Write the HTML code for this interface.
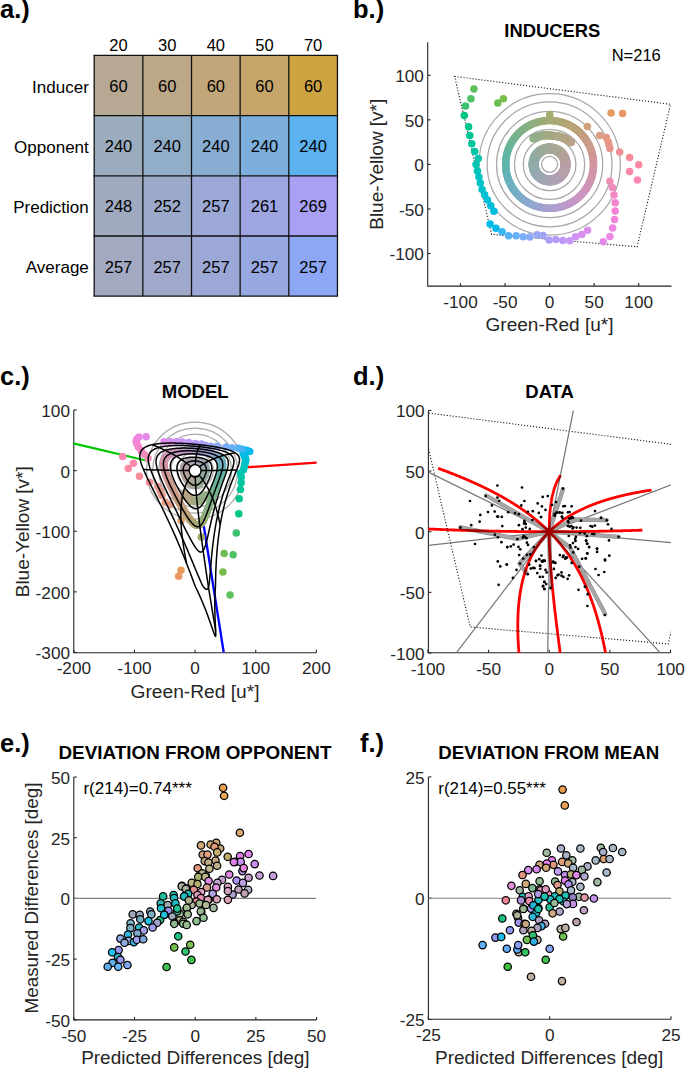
<!DOCTYPE html>
<html><head><meta charset="utf-8"><style>
html,body{margin:0;padding:0;background:#fff;overflow:hidden;}
svg{display:block;}
text{font-family:"Liberation Sans",sans-serif;}
</style></head><body>
<svg width="685" height="1069" viewBox="0 0 685 1069">
<rect width="685" height="1069" fill="#fff"/>
<text x="0.00" y="18.20" font-size="25.5" text-anchor="start" fill="#000" font-weight="bold">a.)</text>
<text x="353.00" y="18.20" font-size="25.5" text-anchor="start" fill="#000" font-weight="bold">b.)</text>
<text x="0.00" y="385.00" font-size="25.5" text-anchor="start" fill="#000" font-weight="bold">c.)</text>
<text x="353.00" y="385.00" font-size="25.5" text-anchor="start" fill="#000" font-weight="bold">d.)</text>
<text x="0.00" y="751.50" font-size="25.5" text-anchor="start" fill="#000" font-weight="bold">e.)</text>
<text x="360.00" y="751.50" font-size="25.5" text-anchor="start" fill="#000" font-weight="bold">f.)</text>
<rect x="94.20" y="55.40" width="48.65" height="60.20" fill="#b6a893"/>
<rect x="142.85" y="55.40" width="48.65" height="60.20" fill="#bca787"/>
<rect x="191.50" y="55.40" width="48.65" height="60.20" fill="#c1a679"/>
<rect x="240.15" y="55.40" width="48.65" height="60.20" fill="#c6a56a"/>
<rect x="288.80" y="55.40" width="48.65" height="60.20" fill="#cea443"/>
<rect x="94.20" y="115.60" width="48.65" height="60.20" fill="#9bacbe"/>
<rect x="142.85" y="115.60" width="48.65" height="60.20" fill="#92adc8"/>
<rect x="191.50" y="115.60" width="48.65" height="60.20" fill="#87aed2"/>
<rect x="240.15" y="115.60" width="48.65" height="60.20" fill="#7cafdc"/>
<rect x="288.80" y="115.60" width="48.65" height="60.20" fill="#5cb1ef"/>
<rect x="94.20" y="175.80" width="48.65" height="60.20" fill="#9faac0"/>
<rect x="142.85" y="175.80" width="48.65" height="60.20" fill="#9baacb"/>
<rect x="191.50" y="175.80" width="48.65" height="60.20" fill="#9ca8d6"/>
<rect x="240.15" y="175.80" width="48.65" height="60.20" fill="#9da6e1"/>
<rect x="288.80" y="175.80" width="48.65" height="60.20" fill="#a8a0f5"/>
<rect x="94.20" y="236.00" width="48.65" height="60.20" fill="#a3a9c0"/>
<rect x="142.85" y="236.00" width="48.65" height="60.20" fill="#a0a9cb"/>
<rect x="191.50" y="236.00" width="48.65" height="60.20" fill="#9ca8d6"/>
<rect x="240.15" y="236.00" width="48.65" height="60.20" fill="#97a8e0"/>
<rect x="288.80" y="236.00" width="48.65" height="60.20" fill="#8da7f5"/>
<line x1="93.60" y1="55.40" x2="338.05" y2="55.40" stroke="#111" stroke-width="1.3"/>
<line x1="93.60" y1="115.60" x2="338.05" y2="115.60" stroke="#111" stroke-width="1.3"/>
<line x1="93.60" y1="175.80" x2="338.05" y2="175.80" stroke="#111" stroke-width="1.3"/>
<line x1="93.60" y1="236.00" x2="338.05" y2="236.00" stroke="#111" stroke-width="1.3"/>
<line x1="93.60" y1="296.20" x2="338.05" y2="296.20" stroke="#111" stroke-width="1.3"/>
<line x1="94.20" y1="55.40" x2="94.20" y2="296.20" stroke="#111" stroke-width="1.3"/>
<line x1="142.85" y1="55.40" x2="142.85" y2="296.20" stroke="#111" stroke-width="1.3"/>
<line x1="191.50" y1="55.40" x2="191.50" y2="296.20" stroke="#111" stroke-width="1.3"/>
<line x1="240.15" y1="55.40" x2="240.15" y2="296.20" stroke="#111" stroke-width="1.3"/>
<line x1="288.80" y1="55.40" x2="288.80" y2="296.20" stroke="#111" stroke-width="1.3"/>
<line x1="337.45" y1="55.40" x2="337.45" y2="296.20" stroke="#111" stroke-width="1.3"/>
<text x="118.53" y="51.40" font-size="16.5" text-anchor="middle" fill="#000">20</text>
<text x="167.17" y="51.40" font-size="16.5" text-anchor="middle" fill="#000">30</text>
<text x="215.82" y="51.40" font-size="16.5" text-anchor="middle" fill="#000">40</text>
<text x="264.47" y="51.40" font-size="16.5" text-anchor="middle" fill="#000">50</text>
<text x="313.12" y="51.40" font-size="16.5" text-anchor="middle" fill="#000">70</text>
<text x="88.80" y="92.60" font-size="17" text-anchor="end" fill="#000">Inducer</text>
<text x="118.53" y="91.90" font-size="16.5" text-anchor="middle" fill="#000">60</text>
<text x="167.17" y="91.90" font-size="16.5" text-anchor="middle" fill="#000">60</text>
<text x="215.82" y="91.90" font-size="16.5" text-anchor="middle" fill="#000">60</text>
<text x="264.47" y="91.90" font-size="16.5" text-anchor="middle" fill="#000">60</text>
<text x="313.12" y="91.90" font-size="16.5" text-anchor="middle" fill="#000">60</text>
<text x="88.80" y="152.60" font-size="17" text-anchor="end" fill="#000">Opponent</text>
<text x="118.53" y="152.10" font-size="16.5" text-anchor="middle" fill="#000">240</text>
<text x="167.17" y="152.10" font-size="16.5" text-anchor="middle" fill="#000">240</text>
<text x="215.82" y="152.10" font-size="16.5" text-anchor="middle" fill="#000">240</text>
<text x="264.47" y="152.10" font-size="16.5" text-anchor="middle" fill="#000">240</text>
<text x="313.12" y="152.10" font-size="16.5" text-anchor="middle" fill="#000">240</text>
<text x="88.80" y="212.60" font-size="17" text-anchor="end" fill="#000">Prediction</text>
<text x="118.53" y="212.30" font-size="16.5" text-anchor="middle" fill="#000">248</text>
<text x="167.17" y="212.30" font-size="16.5" text-anchor="middle" fill="#000">252</text>
<text x="215.82" y="212.30" font-size="16.5" text-anchor="middle" fill="#000">257</text>
<text x="264.47" y="212.30" font-size="16.5" text-anchor="middle" fill="#000">261</text>
<text x="313.12" y="212.30" font-size="16.5" text-anchor="middle" fill="#000">269</text>
<text x="88.80" y="272.60" font-size="17" text-anchor="end" fill="#000">Average</text>
<text x="118.53" y="272.50" font-size="16.5" text-anchor="middle" fill="#000">257</text>
<text x="167.17" y="272.50" font-size="16.5" text-anchor="middle" fill="#000">257</text>
<text x="215.82" y="272.50" font-size="16.5" text-anchor="middle" fill="#000">257</text>
<text x="264.47" y="272.50" font-size="16.5" text-anchor="middle" fill="#000">257</text>
<text x="313.12" y="272.50" font-size="16.5" text-anchor="middle" fill="#000">257</text>
<path d="M427.70 42.30 V286.10 H671.50" fill="none" stroke="#262626" stroke-width="1.1"/>
<line x1="460.50" y1="286.10" x2="460.50" y2="283.10" stroke="#262626" stroke-width="1.1"/>
<text x="460.50" y="307.80" font-size="17.2" text-anchor="middle" fill="#262626">-100</text>
<line x1="505.05" y1="286.10" x2="505.05" y2="283.10" stroke="#262626" stroke-width="1.1"/>
<text x="505.05" y="307.80" font-size="17.2" text-anchor="middle" fill="#262626">-50</text>
<line x1="549.60" y1="286.10" x2="549.60" y2="283.10" stroke="#262626" stroke-width="1.1"/>
<text x="549.60" y="307.80" font-size="17.2" text-anchor="middle" fill="#262626">0</text>
<line x1="594.15" y1="286.10" x2="594.15" y2="283.10" stroke="#262626" stroke-width="1.1"/>
<text x="594.15" y="307.80" font-size="17.2" text-anchor="middle" fill="#262626">50</text>
<line x1="638.70" y1="286.10" x2="638.70" y2="283.10" stroke="#262626" stroke-width="1.1"/>
<text x="638.70" y="307.80" font-size="17.2" text-anchor="middle" fill="#262626">100</text>
<line x1="427.70" y1="253.50" x2="430.70" y2="253.50" stroke="#262626" stroke-width="1.1"/>
<text x="423.90" y="260.40" font-size="17.2" text-anchor="end" fill="#262626">-100</text>
<line x1="427.70" y1="208.95" x2="430.70" y2="208.95" stroke="#262626" stroke-width="1.1"/>
<text x="423.90" y="215.85" font-size="17.2" text-anchor="end" fill="#262626">-50</text>
<line x1="427.70" y1="164.40" x2="430.70" y2="164.40" stroke="#262626" stroke-width="1.1"/>
<text x="423.90" y="171.30" font-size="17.2" text-anchor="end" fill="#262626">0</text>
<line x1="427.70" y1="119.85" x2="430.70" y2="119.85" stroke="#262626" stroke-width="1.1"/>
<text x="423.90" y="126.75" font-size="17.2" text-anchor="end" fill="#262626">50</text>
<line x1="427.70" y1="75.30" x2="430.70" y2="75.30" stroke="#262626" stroke-width="1.1"/>
<text x="423.90" y="82.20" font-size="17.2" text-anchor="end" fill="#262626">100</text>
<text x="549.50" y="330.60" font-size="18.7" text-anchor="middle" fill="#262626" textLength="128" lengthAdjust="spacingAndGlyphs">Green-Red [u*]</text>
<text x="383.20" y="164.25" font-size="18.7" text-anchor="middle" fill="#262626" textLength="131" lengthAdjust="spacingAndGlyphs" transform="rotate(-90 383.20 164.25)">Blue-Yellow [v*]</text>
<circle cx="549.6" cy="164.4" r="8.0" fill="none" stroke="#a8a8a8" stroke-width="1.25"/>
<circle cx="549.6" cy="164.4" r="26.3" fill="none" stroke="#a8a8a8" stroke-width="1.25"/>
<circle cx="549.6" cy="164.4" r="35.1" fill="none" stroke="#a8a8a8" stroke-width="1.25"/>
<circle cx="549.6" cy="164.4" r="53.1" fill="none" stroke="#a8a8a8" stroke-width="1.25"/>
<circle cx="549.6" cy="164.4" r="62.4" fill="none" stroke="#a8a8a8" stroke-width="1.25"/>
<circle cx="549.6" cy="164.4" r="70.7" fill="none" stroke="#a8a8a8" stroke-width="1.25"/>
<circle cx="564.20" cy="164.40" r="3.7" fill="#b7a0a4"/>
<circle cx="564.17" cy="163.48" r="3.7" fill="#b7a0a3"/>
<circle cx="564.08" cy="162.57" r="3.7" fill="#b7a1a2"/>
<circle cx="563.94" cy="161.66" r="3.7" fill="#b6a1a1"/>
<circle cx="563.74" cy="160.77" r="3.7" fill="#b6a1a0"/>
<circle cx="563.49" cy="159.89" r="3.7" fill="#b6a19f"/>
<circle cx="563.17" cy="159.03" r="3.7" fill="#b5a19e"/>
<circle cx="562.81" cy="158.18" r="3.7" fill="#b5a29e"/>
<circle cx="562.39" cy="157.37" r="3.7" fill="#b4a29d"/>
<circle cx="561.93" cy="156.58" r="3.7" fill="#b4a29c"/>
<circle cx="561.41" cy="155.82" r="3.7" fill="#b3a29b"/>
<circle cx="560.85" cy="155.09" r="3.7" fill="#b3a39a"/>
<circle cx="560.24" cy="154.41" r="3.7" fill="#b2a39a"/>
<circle cx="559.59" cy="153.76" r="3.7" fill="#b1a399"/>
<circle cx="558.91" cy="153.15" r="3.7" fill="#b0a498"/>
<circle cx="558.18" cy="152.59" r="3.7" fill="#b0a498"/>
<circle cx="557.42" cy="152.07" r="3.7" fill="#afa497"/>
<circle cx="556.63" cy="151.61" r="3.7" fill="#aea597"/>
<circle cx="555.82" cy="151.19" r="3.7" fill="#ada597"/>
<circle cx="554.97" cy="150.83" r="3.7" fill="#aca596"/>
<circle cx="554.11" cy="150.51" r="3.7" fill="#aba696"/>
<circle cx="553.23" cy="150.26" r="3.7" fill="#aaa696"/>
<circle cx="552.34" cy="150.06" r="3.7" fill="#a9a696"/>
<circle cx="551.43" cy="149.92" r="3.7" fill="#a8a796"/>
<circle cx="550.52" cy="149.83" r="3.7" fill="#a7a796"/>
<circle cx="549.60" cy="149.80" r="3.7" fill="#a6a796"/>
<circle cx="548.68" cy="149.83" r="3.7" fill="#a4a896"/>
<circle cx="547.77" cy="149.92" r="3.7" fill="#a3a896"/>
<circle cx="546.86" cy="150.06" r="3.7" fill="#a2a896"/>
<circle cx="545.97" cy="150.26" r="3.7" fill="#a1a897"/>
<circle cx="545.09" cy="150.51" r="3.7" fill="#a0a997"/>
<circle cx="544.23" cy="150.83" r="3.7" fill="#9fa998"/>
<circle cx="543.38" cy="151.19" r="3.7" fill="#9ea998"/>
<circle cx="542.57" cy="151.61" r="3.7" fill="#9da999"/>
<circle cx="541.78" cy="152.07" r="3.7" fill="#9caa99"/>
<circle cx="541.02" cy="152.59" r="3.7" fill="#9baa9a"/>
<circle cx="540.29" cy="153.15" r="3.7" fill="#9aaa9b"/>
<circle cx="539.61" cy="153.76" r="3.7" fill="#99aa9b"/>
<circle cx="538.96" cy="154.41" r="3.7" fill="#98aa9c"/>
<circle cx="538.35" cy="155.09" r="3.7" fill="#97ab9d"/>
<circle cx="537.79" cy="155.82" r="3.7" fill="#96ab9e"/>
<circle cx="537.27" cy="156.58" r="3.7" fill="#96ab9f"/>
<circle cx="536.81" cy="157.37" r="3.7" fill="#95aba0"/>
<circle cx="536.39" cy="158.18" r="3.7" fill="#94aba1"/>
<circle cx="536.03" cy="159.03" r="3.7" fill="#94aba1"/>
<circle cx="535.71" cy="159.89" r="3.7" fill="#93aba2"/>
<circle cx="535.46" cy="160.77" r="3.7" fill="#93aba3"/>
<circle cx="535.26" cy="161.66" r="3.7" fill="#93aba4"/>
<circle cx="535.12" cy="162.57" r="3.7" fill="#92aba5"/>
<circle cx="535.03" cy="163.48" r="3.7" fill="#92aba6"/>
<circle cx="535.00" cy="164.40" r="3.7" fill="#92aba7"/>
<circle cx="535.03" cy="165.32" r="3.7" fill="#92aba8"/>
<circle cx="535.12" cy="166.23" r="3.7" fill="#92aba9"/>
<circle cx="535.26" cy="167.14" r="3.7" fill="#92aaaa"/>
<circle cx="535.46" cy="168.03" r="3.7" fill="#93aaab"/>
<circle cx="535.71" cy="168.91" r="3.7" fill="#93aaac"/>
<circle cx="536.03" cy="169.77" r="3.7" fill="#93aaad"/>
<circle cx="536.39" cy="170.62" r="3.7" fill="#94aaae"/>
<circle cx="536.81" cy="171.43" r="3.7" fill="#94aaae"/>
<circle cx="537.27" cy="172.22" r="3.7" fill="#95a9af"/>
<circle cx="537.79" cy="172.98" r="3.7" fill="#96a9b0"/>
<circle cx="538.35" cy="173.71" r="3.7" fill="#97a9b0"/>
<circle cx="538.96" cy="174.39" r="3.7" fill="#97a8b1"/>
<circle cx="539.61" cy="175.04" r="3.7" fill="#98a8b2"/>
<circle cx="540.29" cy="175.65" r="3.7" fill="#99a8b2"/>
<circle cx="541.02" cy="176.21" r="3.7" fill="#9aa8b3"/>
<circle cx="541.78" cy="176.73" r="3.7" fill="#9ba7b3"/>
<circle cx="542.57" cy="177.19" r="3.7" fill="#9ca7b4"/>
<circle cx="543.38" cy="177.61" r="3.7" fill="#9ea7b4"/>
<circle cx="544.23" cy="177.97" r="3.7" fill="#9fa6b4"/>
<circle cx="545.09" cy="178.29" r="3.7" fill="#a0a6b4"/>
<circle cx="545.97" cy="178.54" r="3.7" fill="#a1a5b5"/>
<circle cx="546.86" cy="178.74" r="3.7" fill="#a2a5b5"/>
<circle cx="547.77" cy="178.88" r="3.7" fill="#a3a5b5"/>
<circle cx="548.68" cy="178.97" r="3.7" fill="#a5a4b5"/>
<circle cx="549.60" cy="179.00" r="3.7" fill="#a6a4b5"/>
<circle cx="550.52" cy="178.97" r="3.7" fill="#a7a4b5"/>
<circle cx="551.43" cy="178.88" r="3.7" fill="#a8a3b4"/>
<circle cx="552.34" cy="178.74" r="3.7" fill="#a9a3b4"/>
<circle cx="553.23" cy="178.54" r="3.7" fill="#aaa3b4"/>
<circle cx="554.11" cy="178.29" r="3.7" fill="#aba2b4"/>
<circle cx="554.97" cy="177.97" r="3.7" fill="#aca2b3"/>
<circle cx="555.82" cy="177.61" r="3.7" fill="#aea2b3"/>
<circle cx="556.63" cy="177.19" r="3.7" fill="#aea2b2"/>
<circle cx="557.42" cy="176.73" r="3.7" fill="#afa1b2"/>
<circle cx="558.18" cy="176.21" r="3.7" fill="#b0a1b1"/>
<circle cx="558.91" cy="175.65" r="3.7" fill="#b1a1b0"/>
<circle cx="559.59" cy="175.04" r="3.7" fill="#b2a1b0"/>
<circle cx="560.24" cy="174.39" r="3.7" fill="#b3a1af"/>
<circle cx="560.85" cy="173.71" r="3.7" fill="#b3a0ae"/>
<circle cx="561.41" cy="172.98" r="3.7" fill="#b4a0ad"/>
<circle cx="561.93" cy="172.22" r="3.7" fill="#b4a0ad"/>
<circle cx="562.39" cy="171.43" r="3.7" fill="#b5a0ac"/>
<circle cx="562.81" cy="170.62" r="3.7" fill="#b5a0ab"/>
<circle cx="563.17" cy="169.77" r="3.7" fill="#b6a0aa"/>
<circle cx="563.49" cy="168.91" r="3.7" fill="#b6a0a9"/>
<circle cx="563.74" cy="168.03" r="3.7" fill="#b6a0a8"/>
<circle cx="563.94" cy="167.14" r="3.7" fill="#b7a0a7"/>
<circle cx="564.08" cy="166.23" r="3.7" fill="#b7a0a6"/>
<circle cx="564.17" cy="165.32" r="3.7" fill="#b7a0a5"/>
<circle cx="567.00" cy="164.40" r="3.7" fill="#b7a0a4"/>
<circle cx="566.98" cy="163.49" r="3.7" fill="#b7a0a3"/>
<circle cx="566.90" cy="162.58" r="3.7" fill="#b7a0a2"/>
<circle cx="566.79" cy="161.68" r="3.7" fill="#b7a0a1"/>
<circle cx="566.62" cy="160.78" r="3.7" fill="#b7a1a1"/>
<circle cx="566.41" cy="159.90" r="3.7" fill="#b7a1a0"/>
<circle cx="566.15" cy="159.02" r="3.7" fill="#b6a19f"/>
<circle cx="565.84" cy="158.16" r="3.7" fill="#b6a19e"/>
<circle cx="565.50" cy="157.32" r="3.7" fill="#b6a19d"/>
<circle cx="565.10" cy="156.50" r="3.7" fill="#b5a29d"/>
<circle cx="564.67" cy="155.70" r="3.7" fill="#b5a29c"/>
<circle cx="564.19" cy="154.92" r="3.7" fill="#b4a29b"/>
<circle cx="563.68" cy="154.17" r="3.7" fill="#b4a29b"/>
<circle cx="563.12" cy="153.45" r="3.7" fill="#b3a39a"/>
<circle cx="562.53" cy="152.76" r="3.7" fill="#b3a399"/>
<circle cx="561.90" cy="152.10" r="3.7" fill="#b2a399"/>
<circle cx="561.24" cy="151.47" r="3.7" fill="#b1a398"/>
<circle cx="560.55" cy="150.88" r="3.7" fill="#b1a498"/>
<circle cx="559.83" cy="150.32" r="3.7" fill="#b0a497"/>
<circle cx="559.08" cy="149.81" r="3.7" fill="#afa497"/>
<circle cx="558.30" cy="149.33" r="3.7" fill="#aea496"/>
<circle cx="557.50" cy="148.90" r="3.7" fill="#aea596"/>
<circle cx="556.68" cy="148.50" r="3.7" fill="#ada596"/>
<circle cx="555.84" cy="148.16" r="3.7" fill="#aca596"/>
<circle cx="554.98" cy="147.85" r="3.7" fill="#aba695"/>
<circle cx="554.10" cy="147.59" r="3.7" fill="#aaa695"/>
<circle cx="553.22" cy="147.38" r="3.7" fill="#a9a695"/>
<circle cx="552.32" cy="147.21" r="3.7" fill="#a8a695"/>
<circle cx="551.42" cy="147.10" r="3.7" fill="#a7a795"/>
<circle cx="550.51" cy="147.02" r="3.7" fill="#a7a795"/>
<circle cx="549.60" cy="147.00" r="3.7" fill="#a6a795"/>
<circle cx="548.69" cy="147.02" r="3.7" fill="#a5a895"/>
<circle cx="547.78" cy="147.10" r="3.7" fill="#a4a895"/>
<circle cx="546.88" cy="147.21" r="3.7" fill="#a3a896"/>
<circle cx="545.98" cy="147.38" r="3.7" fill="#a2a896"/>
<circle cx="545.10" cy="147.59" r="3.7" fill="#a1a996"/>
<circle cx="544.22" cy="147.85" r="3.7" fill="#a0a996"/>
<circle cx="543.36" cy="148.16" r="3.7" fill="#9fa997"/>
<circle cx="542.52" cy="148.50" r="3.7" fill="#9ea997"/>
<circle cx="541.70" cy="148.90" r="3.7" fill="#9da998"/>
<circle cx="540.90" cy="149.33" r="3.7" fill="#9caa98"/>
<circle cx="540.12" cy="149.81" r="3.7" fill="#9baa99"/>
<circle cx="539.37" cy="150.32" r="3.7" fill="#9aaa99"/>
<circle cx="538.65" cy="150.88" r="3.7" fill="#99aa9a"/>
<circle cx="537.96" cy="151.47" r="3.7" fill="#99aa9b"/>
<circle cx="537.30" cy="152.10" r="3.7" fill="#98ab9b"/>
<circle cx="536.67" cy="152.76" r="3.7" fill="#97ab9c"/>
<circle cx="536.08" cy="153.45" r="3.7" fill="#96ab9d"/>
<circle cx="535.52" cy="154.17" r="3.7" fill="#96ab9d"/>
<circle cx="535.01" cy="154.92" r="3.7" fill="#95ab9e"/>
<circle cx="534.53" cy="155.70" r="3.7" fill="#94ab9f"/>
<circle cx="534.10" cy="156.50" r="3.7" fill="#94aba0"/>
<circle cx="533.70" cy="157.32" r="3.7" fill="#93aba1"/>
<circle cx="533.36" cy="158.16" r="3.7" fill="#93aba1"/>
<circle cx="533.05" cy="159.02" r="3.7" fill="#92aba2"/>
<circle cx="532.79" cy="159.90" r="3.7" fill="#92aba3"/>
<circle cx="532.58" cy="160.78" r="3.7" fill="#92aba4"/>
<circle cx="532.41" cy="161.68" r="3.7" fill="#91aba5"/>
<circle cx="532.30" cy="162.58" r="3.7" fill="#91aba6"/>
<circle cx="532.22" cy="163.49" r="3.7" fill="#91aba6"/>
<circle cx="532.20" cy="164.40" r="3.7" fill="#91aba7"/>
<circle cx="532.22" cy="165.31" r="3.7" fill="#91aba8"/>
<circle cx="532.30" cy="166.22" r="3.7" fill="#91aba9"/>
<circle cx="532.41" cy="167.12" r="3.7" fill="#91abaa"/>
<circle cx="532.58" cy="168.02" r="3.7" fill="#91abab"/>
<circle cx="532.79" cy="168.90" r="3.7" fill="#92aaab"/>
<circle cx="533.05" cy="169.78" r="3.7" fill="#92aaac"/>
<circle cx="533.36" cy="170.64" r="3.7" fill="#92aaad"/>
<circle cx="533.70" cy="171.48" r="3.7" fill="#93aaae"/>
<circle cx="534.10" cy="172.30" r="3.7" fill="#93aaae"/>
<circle cx="534.53" cy="173.10" r="3.7" fill="#94aaaf"/>
<circle cx="535.01" cy="173.88" r="3.7" fill="#94a9b0"/>
<circle cx="535.52" cy="174.63" r="3.7" fill="#95a9b0"/>
<circle cx="536.08" cy="175.35" r="3.7" fill="#96a9b1"/>
<circle cx="536.67" cy="176.04" r="3.7" fill="#96a9b1"/>
<circle cx="537.30" cy="176.70" r="3.7" fill="#97a8b2"/>
<circle cx="537.96" cy="177.33" r="3.7" fill="#98a8b2"/>
<circle cx="538.65" cy="177.92" r="3.7" fill="#99a8b3"/>
<circle cx="539.37" cy="178.48" r="3.7" fill="#9aa8b3"/>
<circle cx="540.12" cy="178.99" r="3.7" fill="#9ba7b4"/>
<circle cx="540.90" cy="179.47" r="3.7" fill="#9ca7b4"/>
<circle cx="541.70" cy="179.90" r="3.7" fill="#9da7b4"/>
<circle cx="542.52" cy="180.30" r="3.7" fill="#9ea6b5"/>
<circle cx="543.36" cy="180.64" r="3.7" fill="#9fa6b5"/>
<circle cx="544.22" cy="180.95" r="3.7" fill="#a0a6b5"/>
<circle cx="545.10" cy="181.21" r="3.7" fill="#a1a6b5"/>
<circle cx="545.98" cy="181.42" r="3.7" fill="#a2a5b5"/>
<circle cx="546.88" cy="181.59" r="3.7" fill="#a3a5b5"/>
<circle cx="547.78" cy="181.70" r="3.7" fill="#a4a5b5"/>
<circle cx="548.69" cy="181.78" r="3.7" fill="#a5a4b5"/>
<circle cx="549.60" cy="181.80" r="3.7" fill="#a6a4b5"/>
<circle cx="550.51" cy="181.78" r="3.7" fill="#a7a4b5"/>
<circle cx="551.42" cy="181.70" r="3.7" fill="#a8a3b5"/>
<circle cx="552.32" cy="181.59" r="3.7" fill="#a9a3b5"/>
<circle cx="553.22" cy="181.42" r="3.7" fill="#aaa3b5"/>
<circle cx="554.10" cy="181.21" r="3.7" fill="#aba3b4"/>
<circle cx="554.98" cy="180.95" r="3.7" fill="#aca2b4"/>
<circle cx="555.84" cy="180.64" r="3.7" fill="#ada2b4"/>
<circle cx="556.68" cy="180.30" r="3.7" fill="#ada2b3"/>
<circle cx="557.50" cy="179.90" r="3.7" fill="#aea2b3"/>
<circle cx="558.30" cy="179.47" r="3.7" fill="#afa1b2"/>
<circle cx="559.08" cy="178.99" r="3.7" fill="#b0a1b2"/>
<circle cx="559.83" cy="178.48" r="3.7" fill="#b1a1b1"/>
<circle cx="560.55" cy="177.92" r="3.7" fill="#b1a1b1"/>
<circle cx="561.24" cy="177.33" r="3.7" fill="#b2a1b0"/>
<circle cx="561.90" cy="176.70" r="3.7" fill="#b3a0b0"/>
<circle cx="562.53" cy="176.04" r="3.7" fill="#b3a0af"/>
<circle cx="563.12" cy="175.35" r="3.7" fill="#b4a0ae"/>
<circle cx="563.68" cy="174.63" r="3.7" fill="#b5a0ae"/>
<circle cx="564.19" cy="173.88" r="3.7" fill="#b5a0ad"/>
<circle cx="564.67" cy="173.10" r="3.7" fill="#b5a0ac"/>
<circle cx="565.10" cy="172.30" r="3.7" fill="#b6a0ab"/>
<circle cx="565.50" cy="171.48" r="3.7" fill="#b6a0ab"/>
<circle cx="565.84" cy="170.64" r="3.7" fill="#b7a0aa"/>
<circle cx="566.15" cy="169.78" r="3.7" fill="#b7a0a9"/>
<circle cx="566.41" cy="168.90" r="3.7" fill="#b7a0a8"/>
<circle cx="566.62" cy="168.02" r="3.7" fill="#b7a0a7"/>
<circle cx="566.79" cy="167.12" r="3.7" fill="#b7a0a7"/>
<circle cx="566.90" cy="166.22" r="3.7" fill="#b7a0a6"/>
<circle cx="566.98" cy="165.31" r="3.7" fill="#b7a0a5"/>
<circle cx="593.50" cy="164.40" r="3.75" fill="#d196a1"/>
<circle cx="593.48" cy="163.25" r="3.75" fill="#d196a0"/>
<circle cx="593.44" cy="162.10" r="3.75" fill="#d1969f"/>
<circle cx="593.36" cy="160.96" r="3.75" fill="#d1979e"/>
<circle cx="593.26" cy="159.81" r="3.75" fill="#d1979c"/>
<circle cx="593.12" cy="158.67" r="3.75" fill="#d0979b"/>
<circle cx="592.96" cy="157.53" r="3.75" fill="#d0979a"/>
<circle cx="592.76" cy="156.40" r="3.75" fill="#d09799"/>
<circle cx="592.54" cy="155.27" r="3.75" fill="#d09898"/>
<circle cx="592.29" cy="154.15" r="3.75" fill="#cf9897"/>
<circle cx="592.00" cy="153.04" r="3.75" fill="#cf9895"/>
<circle cx="591.69" cy="151.93" r="3.75" fill="#cf9894"/>
<circle cx="591.35" cy="150.83" r="3.75" fill="#ce9993"/>
<circle cx="590.98" cy="149.75" r="3.75" fill="#ce9992"/>
<circle cx="590.58" cy="148.67" r="3.75" fill="#ce9991"/>
<circle cx="590.16" cy="147.60" r="3.75" fill="#cd9a90"/>
<circle cx="589.70" cy="146.54" r="3.75" fill="#cd9a8f"/>
<circle cx="589.22" cy="145.50" r="3.75" fill="#cc9a8e"/>
<circle cx="588.72" cy="144.47" r="3.75" fill="#cc9b8d"/>
<circle cx="588.18" cy="143.45" r="3.75" fill="#cb9b8b"/>
<circle cx="587.62" cy="142.45" r="3.75" fill="#cb9b8a"/>
<circle cx="587.03" cy="141.46" r="3.75" fill="#ca9b89"/>
<circle cx="586.42" cy="140.49" r="3.75" fill="#c99c88"/>
<circle cx="585.78" cy="139.53" r="3.75" fill="#c99c87"/>
<circle cx="585.12" cy="138.60" r="3.75" fill="#c89c86"/>
<circle cx="584.43" cy="137.68" r="3.75" fill="#c79d85"/>
<circle cx="583.72" cy="136.77" r="3.75" fill="#c79d84"/>
<circle cx="582.98" cy="135.89" r="3.75" fill="#c69e83"/>
<circle cx="582.22" cy="135.03" r="3.75" fill="#c59e82"/>
<circle cx="581.44" cy="134.18" r="3.75" fill="#c59e82"/>
<circle cx="580.64" cy="133.36" r="3.75" fill="#c49f81"/>
<circle cx="579.82" cy="132.56" r="3.75" fill="#c39f80"/>
<circle cx="578.97" cy="131.78" r="3.75" fill="#c29f7f"/>
<circle cx="578.11" cy="131.02" r="3.75" fill="#c2a07e"/>
<circle cx="577.23" cy="130.28" r="3.75" fill="#c1a07d"/>
<circle cx="576.32" cy="129.57" r="3.75" fill="#c0a07d"/>
<circle cx="575.40" cy="128.88" r="3.75" fill="#bfa17c"/>
<circle cx="574.47" cy="128.22" r="3.75" fill="#bea17b"/>
<circle cx="573.51" cy="127.58" r="3.75" fill="#bda27b"/>
<circle cx="572.54" cy="126.97" r="3.75" fill="#bca27a"/>
<circle cx="571.55" cy="126.38" r="3.75" fill="#bba279"/>
<circle cx="570.55" cy="125.82" r="3.75" fill="#baa379"/>
<circle cx="569.53" cy="125.28" r="3.75" fill="#b9a378"/>
<circle cx="568.50" cy="124.78" r="3.75" fill="#b8a478"/>
<circle cx="567.46" cy="124.30" r="3.75" fill="#b7a477"/>
<circle cx="566.40" cy="123.84" r="3.75" fill="#b6a477"/>
<circle cx="565.33" cy="123.42" r="3.75" fill="#b5a576"/>
<circle cx="564.25" cy="123.02" r="3.75" fill="#b4a576"/>
<circle cx="563.17" cy="122.65" r="3.75" fill="#b3a576"/>
<circle cx="562.07" cy="122.31" r="3.75" fill="#b2a675"/>
<circle cx="560.96" cy="122.00" r="3.75" fill="#b1a675"/>
<circle cx="559.85" cy="121.71" r="3.75" fill="#b0a775"/>
<circle cx="558.73" cy="121.46" r="3.75" fill="#afa775"/>
<circle cx="557.60" cy="121.24" r="3.75" fill="#aea775"/>
<circle cx="556.47" cy="121.04" r="3.75" fill="#ada875"/>
<circle cx="555.33" cy="120.88" r="3.75" fill="#aba875"/>
<circle cx="554.19" cy="120.74" r="3.75" fill="#aaa875"/>
<circle cx="553.04" cy="120.64" r="3.75" fill="#a9a975"/>
<circle cx="551.90" cy="120.56" r="3.75" fill="#a8a975"/>
<circle cx="550.75" cy="120.52" r="3.75" fill="#a7a975"/>
<circle cx="549.60" cy="120.50" r="3.75" fill="#a5aa75"/>
<circle cx="548.45" cy="120.52" r="3.75" fill="#a4aa75"/>
<circle cx="547.30" cy="120.56" r="3.75" fill="#a3aa75"/>
<circle cx="546.16" cy="120.64" r="3.75" fill="#a2ab76"/>
<circle cx="545.01" cy="120.74" r="3.75" fill="#a0ab76"/>
<circle cx="543.87" cy="120.88" r="3.75" fill="#9fab76"/>
<circle cx="542.73" cy="121.04" r="3.75" fill="#9eac77"/>
<circle cx="541.60" cy="121.24" r="3.75" fill="#9dac77"/>
<circle cx="540.47" cy="121.46" r="3.75" fill="#9bac77"/>
<circle cx="539.35" cy="121.71" r="3.75" fill="#9aad78"/>
<circle cx="538.24" cy="122.00" r="3.75" fill="#99ad78"/>
<circle cx="537.13" cy="122.31" r="3.75" fill="#97ad79"/>
<circle cx="536.03" cy="122.65" r="3.75" fill="#96ae7a"/>
<circle cx="534.95" cy="123.02" r="3.75" fill="#95ae7a"/>
<circle cx="533.87" cy="123.42" r="3.75" fill="#93ae7b"/>
<circle cx="532.80" cy="123.84" r="3.75" fill="#92ae7c"/>
<circle cx="531.74" cy="124.30" r="3.75" fill="#90af7c"/>
<circle cx="530.70" cy="124.78" r="3.75" fill="#8faf7d"/>
<circle cx="529.67" cy="125.28" r="3.75" fill="#8eaf7e"/>
<circle cx="528.65" cy="125.82" r="3.75" fill="#8caf7f"/>
<circle cx="527.65" cy="126.38" r="3.75" fill="#8bb07f"/>
<circle cx="526.66" cy="126.97" r="3.75" fill="#8ab080"/>
<circle cx="525.69" cy="127.58" r="3.75" fill="#88b081"/>
<circle cx="524.73" cy="128.22" r="3.75" fill="#87b082"/>
<circle cx="523.80" cy="128.88" r="3.75" fill="#85b183"/>
<circle cx="522.88" cy="129.57" r="3.75" fill="#84b184"/>
<circle cx="521.97" cy="130.28" r="3.75" fill="#83b185"/>
<circle cx="521.09" cy="131.02" r="3.75" fill="#81b186"/>
<circle cx="520.23" cy="131.78" r="3.75" fill="#80b287"/>
<circle cx="519.38" cy="132.56" r="3.75" fill="#7fb288"/>
<circle cx="518.56" cy="133.36" r="3.75" fill="#7db289"/>
<circle cx="517.76" cy="134.18" r="3.75" fill="#7cb28a"/>
<circle cx="516.98" cy="135.03" r="3.75" fill="#7bb28b"/>
<circle cx="516.22" cy="135.89" r="3.75" fill="#79b28c"/>
<circle cx="515.48" cy="136.77" r="3.75" fill="#78b38d"/>
<circle cx="514.77" cy="137.68" r="3.75" fill="#77b38e"/>
<circle cx="514.08" cy="138.60" r="3.75" fill="#75b38f"/>
<circle cx="513.42" cy="139.53" r="3.75" fill="#74b390"/>
<circle cx="512.78" cy="140.49" r="3.75" fill="#73b391"/>
<circle cx="512.17" cy="141.46" r="3.75" fill="#72b392"/>
<circle cx="511.58" cy="142.45" r="3.75" fill="#71b393"/>
<circle cx="511.02" cy="143.45" r="3.75" fill="#6fb394"/>
<circle cx="510.48" cy="144.47" r="3.75" fill="#6eb496"/>
<circle cx="509.98" cy="145.50" r="3.75" fill="#6db497"/>
<circle cx="509.50" cy="146.54" r="3.75" fill="#6cb498"/>
<circle cx="509.04" cy="147.60" r="3.75" fill="#6bb499"/>
<circle cx="508.62" cy="148.67" r="3.75" fill="#6ab49a"/>
<circle cx="508.22" cy="149.75" r="3.75" fill="#69b49b"/>
<circle cx="507.85" cy="150.83" r="3.75" fill="#68b49c"/>
<circle cx="507.51" cy="151.93" r="3.75" fill="#67b49e"/>
<circle cx="507.20" cy="153.04" r="3.75" fill="#66b49f"/>
<circle cx="506.91" cy="154.15" r="3.75" fill="#66b4a0"/>
<circle cx="506.66" cy="155.27" r="3.75" fill="#65b4a1"/>
<circle cx="506.44" cy="156.40" r="3.75" fill="#64b4a2"/>
<circle cx="506.24" cy="157.53" r="3.75" fill="#64b4a3"/>
<circle cx="506.08" cy="158.67" r="3.75" fill="#63b4a4"/>
<circle cx="505.94" cy="159.81" r="3.75" fill="#63b4a6"/>
<circle cx="505.84" cy="160.96" r="3.75" fill="#62b4a7"/>
<circle cx="505.76" cy="162.10" r="3.75" fill="#62b4a8"/>
<circle cx="505.72" cy="163.25" r="3.75" fill="#61b4a9"/>
<circle cx="505.70" cy="164.40" r="3.75" fill="#61b4aa"/>
<circle cx="505.72" cy="165.55" r="3.75" fill="#61b4ab"/>
<circle cx="505.76" cy="166.70" r="3.75" fill="#61b4ac"/>
<circle cx="505.84" cy="167.84" r="3.75" fill="#61b3ad"/>
<circle cx="505.94" cy="168.99" r="3.75" fill="#61b3ae"/>
<circle cx="506.08" cy="170.13" r="3.75" fill="#61b3af"/>
<circle cx="506.24" cy="171.27" r="3.75" fill="#61b3b1"/>
<circle cx="506.44" cy="172.40" r="3.75" fill="#61b3b2"/>
<circle cx="506.66" cy="173.53" r="3.75" fill="#62b3b3"/>
<circle cx="506.91" cy="174.65" r="3.75" fill="#62b3b4"/>
<circle cx="507.20" cy="175.76" r="3.75" fill="#62b2b5"/>
<circle cx="507.51" cy="176.87" r="3.75" fill="#63b2b6"/>
<circle cx="507.85" cy="177.97" r="3.75" fill="#64b2b7"/>
<circle cx="508.22" cy="179.05" r="3.75" fill="#64b2b8"/>
<circle cx="508.62" cy="180.13" r="3.75" fill="#65b2b9"/>
<circle cx="509.04" cy="181.20" r="3.75" fill="#66b2ba"/>
<circle cx="509.50" cy="182.26" r="3.75" fill="#66b1ba"/>
<circle cx="509.98" cy="183.30" r="3.75" fill="#67b1bb"/>
<circle cx="510.48" cy="184.33" r="3.75" fill="#68b1bc"/>
<circle cx="511.02" cy="185.35" r="3.75" fill="#69b1bd"/>
<circle cx="511.58" cy="186.35" r="3.75" fill="#6ab0be"/>
<circle cx="512.17" cy="187.34" r="3.75" fill="#6bb0bf"/>
<circle cx="512.78" cy="188.31" r="3.75" fill="#6db0c0"/>
<circle cx="513.42" cy="189.27" r="3.75" fill="#6eafc1"/>
<circle cx="514.08" cy="190.20" r="3.75" fill="#6fafc1"/>
<circle cx="514.77" cy="191.12" r="3.75" fill="#70afc2"/>
<circle cx="515.48" cy="192.03" r="3.75" fill="#72afc3"/>
<circle cx="516.22" cy="192.91" r="3.75" fill="#73aec4"/>
<circle cx="516.98" cy="193.77" r="3.75" fill="#74aec4"/>
<circle cx="517.76" cy="194.62" r="3.75" fill="#76aec5"/>
<circle cx="518.56" cy="195.44" r="3.75" fill="#77adc6"/>
<circle cx="519.38" cy="196.24" r="3.75" fill="#79adc6"/>
<circle cx="520.23" cy="197.02" r="3.75" fill="#7aadc7"/>
<circle cx="521.09" cy="197.78" r="3.75" fill="#7cacc8"/>
<circle cx="521.97" cy="198.52" r="3.75" fill="#7dacc8"/>
<circle cx="522.88" cy="199.23" r="3.75" fill="#7fabc9"/>
<circle cx="523.80" cy="199.92" r="3.75" fill="#80abc9"/>
<circle cx="524.73" cy="200.58" r="3.75" fill="#82abca"/>
<circle cx="525.69" cy="201.22" r="3.75" fill="#83aaca"/>
<circle cx="526.66" cy="201.83" r="3.75" fill="#85aacb"/>
<circle cx="527.65" cy="202.42" r="3.75" fill="#87a9cb"/>
<circle cx="528.65" cy="202.98" r="3.75" fill="#88a9cc"/>
<circle cx="529.67" cy="203.52" r="3.75" fill="#8aa9cc"/>
<circle cx="530.70" cy="204.02" r="3.75" fill="#8ba8cc"/>
<circle cx="531.74" cy="204.50" r="3.75" fill="#8da8cd"/>
<circle cx="532.80" cy="204.96" r="3.75" fill="#8fa7cd"/>
<circle cx="533.87" cy="205.38" r="3.75" fill="#90a7cd"/>
<circle cx="534.95" cy="205.78" r="3.75" fill="#92a6ce"/>
<circle cx="536.03" cy="206.15" r="3.75" fill="#93a6ce"/>
<circle cx="537.13" cy="206.49" r="3.75" fill="#95a6ce"/>
<circle cx="538.24" cy="206.80" r="3.75" fill="#97a5ce"/>
<circle cx="539.35" cy="207.09" r="3.75" fill="#98a5ce"/>
<circle cx="540.47" cy="207.34" r="3.75" fill="#9aa4ce"/>
<circle cx="541.60" cy="207.56" r="3.75" fill="#9ba4cf"/>
<circle cx="542.73" cy="207.76" r="3.75" fill="#9da3cf"/>
<circle cx="543.87" cy="207.92" r="3.75" fill="#9ea3cf"/>
<circle cx="545.01" cy="208.06" r="3.75" fill="#a0a2cf"/>
<circle cx="546.16" cy="208.16" r="3.75" fill="#a2a2cf"/>
<circle cx="547.30" cy="208.24" r="3.75" fill="#a3a2cf"/>
<circle cx="548.45" cy="208.28" r="3.75" fill="#a5a1cf"/>
<circle cx="549.60" cy="208.30" r="3.75" fill="#a6a1cf"/>
<circle cx="550.75" cy="208.28" r="3.75" fill="#a7a0ce"/>
<circle cx="551.90" cy="208.24" r="3.75" fill="#a9a0ce"/>
<circle cx="553.04" cy="208.16" r="3.75" fill="#aa9fce"/>
<circle cx="554.19" cy="208.06" r="3.75" fill="#ac9fce"/>
<circle cx="555.33" cy="207.92" r="3.75" fill="#ad9fce"/>
<circle cx="556.47" cy="207.76" r="3.75" fill="#ae9ece"/>
<circle cx="557.60" cy="207.56" r="3.75" fill="#b09ecd"/>
<circle cx="558.73" cy="207.34" r="3.75" fill="#b19dcd"/>
<circle cx="559.85" cy="207.09" r="3.75" fill="#b29dcd"/>
<circle cx="560.96" cy="206.80" r="3.75" fill="#b49ccc"/>
<circle cx="562.07" cy="206.49" r="3.75" fill="#b59ccc"/>
<circle cx="563.17" cy="206.15" r="3.75" fill="#b69ccc"/>
<circle cx="564.25" cy="205.78" r="3.75" fill="#b79bcb"/>
<circle cx="565.33" cy="205.38" r="3.75" fill="#b99bcb"/>
<circle cx="566.40" cy="204.96" r="3.75" fill="#ba9bca"/>
<circle cx="567.46" cy="204.50" r="3.75" fill="#bb9aca"/>
<circle cx="568.50" cy="204.02" r="3.75" fill="#bc9ac9"/>
<circle cx="569.53" cy="203.52" r="3.75" fill="#bd9ac9"/>
<circle cx="570.55" cy="202.98" r="3.75" fill="#be99c8"/>
<circle cx="571.55" cy="202.42" r="3.75" fill="#bf99c7"/>
<circle cx="572.54" cy="201.83" r="3.75" fill="#c099c7"/>
<circle cx="573.51" cy="201.22" r="3.75" fill="#c198c6"/>
<circle cx="574.47" cy="200.58" r="3.75" fill="#c298c5"/>
<circle cx="575.40" cy="199.92" r="3.75" fill="#c398c5"/>
<circle cx="576.32" cy="199.23" r="3.75" fill="#c497c4"/>
<circle cx="577.23" cy="198.52" r="3.75" fill="#c597c3"/>
<circle cx="578.11" cy="197.78" r="3.75" fill="#c697c3"/>
<circle cx="578.97" cy="197.02" r="3.75" fill="#c697c2"/>
<circle cx="579.82" cy="196.24" r="3.75" fill="#c796c1"/>
<circle cx="580.64" cy="195.44" r="3.75" fill="#c896c0"/>
<circle cx="581.44" cy="194.62" r="3.75" fill="#c996bf"/>
<circle cx="582.22" cy="193.77" r="3.75" fill="#c996bf"/>
<circle cx="582.98" cy="192.91" r="3.75" fill="#ca96be"/>
<circle cx="583.72" cy="192.03" r="3.75" fill="#cb96bd"/>
<circle cx="584.43" cy="191.12" r="3.75" fill="#cb95bc"/>
<circle cx="585.12" cy="190.20" r="3.75" fill="#cc95bb"/>
<circle cx="585.78" cy="189.27" r="3.75" fill="#cc95ba"/>
<circle cx="586.42" cy="188.31" r="3.75" fill="#cd95b9"/>
<circle cx="587.03" cy="187.34" r="3.75" fill="#cd95b8"/>
<circle cx="587.62" cy="186.35" r="3.75" fill="#ce95b7"/>
<circle cx="588.18" cy="185.35" r="3.75" fill="#ce95b6"/>
<circle cx="588.72" cy="184.33" r="3.75" fill="#cf95b5"/>
<circle cx="589.22" cy="183.30" r="3.75" fill="#cf95b4"/>
<circle cx="589.70" cy="182.26" r="3.75" fill="#cf95b3"/>
<circle cx="590.16" cy="181.20" r="3.75" fill="#d095b2"/>
<circle cx="590.58" cy="180.13" r="3.75" fill="#d095b1"/>
<circle cx="590.98" cy="179.05" r="3.75" fill="#d095b0"/>
<circle cx="591.35" cy="177.97" r="3.75" fill="#d195af"/>
<circle cx="591.69" cy="176.87" r="3.75" fill="#d195ae"/>
<circle cx="592.00" cy="175.76" r="3.75" fill="#d195ad"/>
<circle cx="592.29" cy="174.65" r="3.75" fill="#d195ab"/>
<circle cx="592.54" cy="173.53" r="3.75" fill="#d195aa"/>
<circle cx="592.76" cy="172.40" r="3.75" fill="#d195a9"/>
<circle cx="592.96" cy="171.27" r="3.75" fill="#d195a8"/>
<circle cx="593.12" cy="170.13" r="3.75" fill="#d195a7"/>
<circle cx="593.26" cy="168.99" r="3.75" fill="#d195a6"/>
<circle cx="593.36" cy="167.84" r="3.75" fill="#d195a5"/>
<circle cx="593.44" cy="166.70" r="3.75" fill="#d196a3"/>
<circle cx="593.48" cy="165.55" r="3.75" fill="#d196a2"/>
<circle cx="571.08" cy="142.36" r="4.1" fill="#bda189"/>
<circle cx="570.27" cy="141.75" r="4.1" fill="#bca189"/>
<circle cx="569.44" cy="141.16" r="4.1" fill="#bba188"/>
<circle cx="568.59" cy="140.61" r="4.1" fill="#baa287"/>
<circle cx="567.73" cy="140.08" r="4.1" fill="#b9a287"/>
<circle cx="566.85" cy="139.58" r="4.1" fill="#b8a286"/>
<circle cx="565.96" cy="139.12" r="4.1" fill="#b8a386"/>
<circle cx="565.06" cy="138.68" r="4.1" fill="#b7a386"/>
<circle cx="564.15" cy="138.27" r="4.1" fill="#b6a485"/>
<circle cx="563.22" cy="137.90" r="4.1" fill="#b5a485"/>
<circle cx="562.29" cy="137.56" r="4.1" fill="#b4a485"/>
<circle cx="561.35" cy="137.24" r="4.1" fill="#b3a584"/>
<circle cx="560.40" cy="136.96" r="4.1" fill="#b2a584"/>
<circle cx="559.45" cy="136.71" r="4.1" fill="#b1a584"/>
<circle cx="558.49" cy="136.50" r="4.1" fill="#b0a684"/>
<circle cx="557.53" cy="136.31" r="4.1" fill="#aea684"/>
<circle cx="556.57" cy="136.16" r="4.1" fill="#ada684"/>
<circle cx="555.60" cy="136.04" r="4.1" fill="#aca784"/>
<circle cx="554.63" cy="135.95" r="4.1" fill="#aba784"/>
<circle cx="553.67" cy="135.89" r="4.1" fill="#aaa784"/>
<circle cx="552.70" cy="135.86" r="4.1" fill="#a9a884"/>
<circle cx="551.76" cy="135.69" r="4.1" fill="#a8a884"/>
<circle cx="550.80" cy="135.54" r="4.1" fill="#a7a884"/>
<circle cx="549.84" cy="135.43" r="4.1" fill="#a6a984"/>
<circle cx="548.87" cy="135.35" r="4.1" fill="#a5a984"/>
<circle cx="547.89" cy="135.30" r="4.1" fill="#a3a984"/>
<circle cx="546.91" cy="135.28" r="4.1" fill="#a2aa84"/>
<circle cx="545.93" cy="135.29" r="4.1" fill="#a1aa84"/>
<circle cx="544.95" cy="135.34" r="4.1" fill="#a0aa84"/>
<circle cx="543.96" cy="135.42" r="4.1" fill="#9fab84"/>
<circle cx="542.98" cy="135.53" r="4.1" fill="#9dab85"/>
<circle cx="541.99" cy="135.67" r="4.1" fill="#9cab85"/>
<circle cx="541.01" cy="135.84" r="4.1" fill="#9bab85"/>
<circle cx="540.04" cy="136.05" r="4.1" fill="#9aac86"/>
<circle cx="539.06" cy="136.29" r="4.1" fill="#98ac86"/>
<circle cx="538.09" cy="136.56" r="4.1" fill="#97ac87"/>
<circle cx="537.13" cy="136.86" r="4.1" fill="#96ad87"/>
<circle cx="536.18" cy="137.20" r="4.1" fill="#95ad88"/>
<circle cx="535.24" cy="137.57" r="4.1" fill="#93ad88"/>
<circle cx="534.30" cy="137.97" r="4.1" fill="#92ad89"/>
<circle cx="533.38" cy="138.40" r="4.1" fill="#91ae89"/>
<circle cx="549.7" cy="114.9" r="3.8" fill="#a5aa6d"/>
<path d="M454.6 76.4 L670.5 104.3 L637.1 246.8 L491.6 234.4 Z" fill="none" stroke="#111" stroke-width="1.1" stroke-dasharray="1.1 1.9"/>
<circle cx="473.9" cy="89" r="3.75" fill="#5fc05c"/>
<circle cx="470.9" cy="98.8" r="3.75" fill="#4fc165"/>
<circle cx="465.5" cy="105.9" r="3.75" fill="#3cc26e"/>
<circle cx="464.3" cy="115.5" r="3.75" fill="#00c585"/>
<circle cx="468.6" cy="126.8" r="3.75" fill="#00c58d"/>
<circle cx="469.8" cy="135.6" r="3.75" fill="#00c695"/>
<circle cx="471.8" cy="143.8" r="3.75" fill="#00c69d"/>
<circle cx="474.7" cy="151.6" r="3.75" fill="#00c6a5"/>
<circle cx="476" cy="164.5" r="3.75" fill="#00c5b3"/>
<circle cx="477.4" cy="170.9" r="3.75" fill="#00c4ba"/>
<circle cx="478.9" cy="177.1" r="3.75" fill="#00c3c0"/>
<circle cx="480.3" cy="183.1" r="3.75" fill="#00c2c6"/>
<circle cx="482.1" cy="189.5" r="3.75" fill="#00c1cd"/>
<circle cx="484.6" cy="194.7" r="3.75" fill="#00c0d2"/>
<circle cx="487.5" cy="199.9" r="3.75" fill="#00bfd7"/>
<circle cx="490.8" cy="205.8" r="3.75" fill="#00bddc"/>
<circle cx="493.9" cy="211.3" r="3.75" fill="#00bce1"/>
<circle cx="490.1" cy="223.9" r="3.75" fill="#00bbea"/>
<circle cx="495.9" cy="228.3" r="3.75" fill="#05b9ee"/>
<circle cx="502.1" cy="231.8" r="3.75" fill="#39b6f2"/>
<circle cx="508.5" cy="235.8" r="3.75" fill="#53b3f5"/>
<circle cx="516.1" cy="235.8" r="3.75" fill="#66b0f7"/>
<circle cx="523.1" cy="236.7" r="3.75" fill="#79adf8"/>
<circle cx="529.8" cy="237.1" r="3.75" fill="#88aaf8"/>
<circle cx="537.2" cy="234.7" r="3.75" fill="#97a7f5"/>
<circle cx="543.1" cy="235.5" r="3.75" fill="#a1a4f5"/>
<circle cx="549.1" cy="240" r="3.75" fill="#aba0f9"/>
<circle cx="555.8" cy="239.6" r="3.75" fill="#b59df8"/>
<circle cx="562.8" cy="240.5" r="3.75" fill="#bf99f8"/>
<circle cx="569.8" cy="240.8" r="3.75" fill="#c896f8"/>
<circle cx="575.6" cy="236.7" r="3.75" fill="#d093f3"/>
<circle cx="581.8" cy="234.4" r="3.75" fill="#d790f0"/>
<circle cx="587.6" cy="230.3" r="3.75" fill="#dd8eec"/>
<circle cx="603.3" cy="241.7" r="3.75" fill="#e48aea"/>
<circle cx="609.9" cy="236.6" r="3.75" fill="#e988e5"/>
<circle cx="612.6" cy="227.9" r="3.75" fill="#ee87e0"/>
<circle cx="614.6" cy="219.5" r="3.75" fill="#f185db"/>
<circle cx="615.2" cy="210.9" r="3.75" fill="#f485d5"/>
<circle cx="615.2" cy="202.8" r="3.75" fill="#f586cd"/>
<circle cx="614" cy="195" r="3.75" fill="#f388c5"/>
<circle cx="612.3" cy="187.6" r="3.75" fill="#f08bbe"/>
<circle cx="609.9" cy="181.2" r="3.75" fill="#ed8eb7"/>
<circle cx="637.4" cy="180.1" r="3.75" fill="#fb86b2"/>
<circle cx="629.6" cy="171.5" r="3.75" fill="#fb87aa"/>
<circle cx="638.7" cy="164.7" r="3.75" fill="#fa89a2"/>
<circle cx="629.6" cy="157.4" r="3.75" fill="#f98a99"/>
<circle cx="619.7" cy="152" r="3.75" fill="#f29094"/>
<circle cx="609.9" cy="148.4" r="3.75" fill="#e99590"/>
<circle cx="608.9" cy="144.7" r="3.75" fill="#e8968c"/>
<circle cx="608.2" cy="141.8" r="3.75" fill="#e79788"/>
<circle cx="606.3" cy="137.4" r="3.75" fill="#e59882"/>
<circle cx="599.7" cy="135.5" r="3.75" fill="#df9b81"/>
<circle cx="587.3" cy="126.5" r="3.75" fill="#d3a175"/>
<circle cx="611.1" cy="113.1" r="3.75" fill="#e59b5c"/>
<circle cx="622.6" cy="113.4" r="3.75" fill="#e99865"/>
<circle cx="497.8" cy="103" r="3.75" fill="#6cbe53"/>
<circle cx="503.4" cy="98.8" r="3.75" fill="#78bd4a"/>
<circle cx="478.3" cy="158.4" r="3.75" fill="#00c4ad"/>
<text x="552.30" y="36.50" font-size="18" text-anchor="middle" fill="#000" font-weight="bold" textLength="96" lengthAdjust="spacingAndGlyphs">INDUCERS</text>
<text x="660.80" y="61.00" font-size="16.5" text-anchor="end" fill="#000">N=216</text>
<path d="M73.80 409.90 V652.70 H316.30" fill="none" stroke="#262626" stroke-width="1.1"/>
<line x1="73.84" y1="652.70" x2="73.84" y2="649.70" stroke="#262626" stroke-width="1.1"/>
<text x="73.84" y="674.40" font-size="17.2" text-anchor="middle" fill="#262626">-200</text>
<line x1="134.47" y1="652.70" x2="134.47" y2="649.70" stroke="#262626" stroke-width="1.1"/>
<text x="134.47" y="674.40" font-size="17.2" text-anchor="middle" fill="#262626">-100</text>
<line x1="195.10" y1="652.70" x2="195.10" y2="649.70" stroke="#262626" stroke-width="1.1"/>
<text x="195.10" y="674.40" font-size="17.2" text-anchor="middle" fill="#262626">0</text>
<line x1="255.73" y1="652.70" x2="255.73" y2="649.70" stroke="#262626" stroke-width="1.1"/>
<text x="255.73" y="674.40" font-size="17.2" text-anchor="middle" fill="#262626">100</text>
<line x1="316.36" y1="652.70" x2="316.36" y2="649.70" stroke="#262626" stroke-width="1.1"/>
<text x="316.36" y="674.40" font-size="17.2" text-anchor="middle" fill="#262626">200</text>
<line x1="73.80" y1="652.49" x2="76.80" y2="652.49" stroke="#262626" stroke-width="1.1"/>
<text x="70.00" y="659.39" font-size="17.2" text-anchor="end" fill="#262626">-300</text>
<line x1="73.80" y1="591.86" x2="76.80" y2="591.86" stroke="#262626" stroke-width="1.1"/>
<text x="70.00" y="598.76" font-size="17.2" text-anchor="end" fill="#262626">-200</text>
<line x1="73.80" y1="531.23" x2="76.80" y2="531.23" stroke="#262626" stroke-width="1.1"/>
<text x="70.00" y="538.13" font-size="17.2" text-anchor="end" fill="#262626">-100</text>
<line x1="73.80" y1="470.60" x2="76.80" y2="470.60" stroke="#262626" stroke-width="1.1"/>
<text x="70.00" y="477.50" font-size="17.2" text-anchor="end" fill="#262626">0</text>
<line x1="73.80" y1="409.97" x2="76.80" y2="409.97" stroke="#262626" stroke-width="1.1"/>
<text x="70.00" y="416.87" font-size="17.2" text-anchor="end" fill="#262626">100</text>
<text x="195.00" y="697.60" font-size="18.7" text-anchor="middle" fill="#262626" textLength="129" lengthAdjust="spacingAndGlyphs">Green-Red [u*]</text>
<text x="29.00" y="531.75" font-size="18.7" text-anchor="middle" fill="#262626" textLength="131" lengthAdjust="spacingAndGlyphs" transform="rotate(-90 29.00 531.75)">Blue-Yellow [v*]</text>
<circle cx="195.1" cy="470.6" r="6.06" fill="none" stroke="#a8a8a8" stroke-width="1.25"/>
<circle cx="195.1" cy="470.6" r="18.19" fill="none" stroke="#a8a8a8" stroke-width="1.25"/>
<circle cx="195.1" cy="470.6" r="24.25" fill="none" stroke="#a8a8a8" stroke-width="1.25"/>
<circle cx="195.1" cy="470.6" r="36.38" fill="none" stroke="#a8a8a8" stroke-width="1.25"/>
<circle cx="195.1" cy="470.6" r="42.44" fill="none" stroke="#a8a8a8" stroke-width="1.25"/>
<circle cx="195.1" cy="470.6" r="48.50" fill="none" stroke="#a8a8a8" stroke-width="1.25"/>
<path d="M73.3 443.4 L146 460.5" stroke="#00c800" stroke-width="2.3" fill="none"/>
<path d="M243 467.5 L316.7 462.7" stroke="#ff0000" stroke-width="2.3" fill="none"/>
<path d="M203.8 526 L223.7 652.3" stroke="#0000ff" stroke-width="2.3" fill="none"/>
<circle cx="185.49" cy="470.56" r="3.7" fill="#b7a0a4"/>
<circle cx="185.54" cy="471.03" r="3.7" fill="#b7a0a3"/>
<circle cx="185.61" cy="471.50" r="3.7" fill="#b7a1a3"/>
<circle cx="185.70" cy="471.98" r="3.7" fill="#b6a1a2"/>
<circle cx="185.81" cy="472.46" r="3.7" fill="#b6a1a1"/>
<circle cx="185.94" cy="472.94" r="3.7" fill="#b6a1a1"/>
<circle cx="186.09" cy="473.43" r="3.7" fill="#b6a1a0"/>
<circle cx="186.26" cy="473.91" r="3.7" fill="#b6a19f"/>
<circle cx="186.44" cy="474.40" r="3.7" fill="#b5a19f"/>
<circle cx="186.65" cy="474.88" r="3.7" fill="#b5a19e"/>
<circle cx="186.87" cy="475.35" r="3.7" fill="#b5a29d"/>
<circle cx="187.10" cy="475.82" r="3.7" fill="#b5a29d"/>
<circle cx="187.35" cy="476.29" r="3.7" fill="#b4a29c"/>
<circle cx="187.62" cy="476.75" r="3.7" fill="#b4a29c"/>
<circle cx="187.89" cy="477.19" r="3.7" fill="#b3a29b"/>
<circle cx="188.18" cy="477.63" r="3.7" fill="#b3a39b"/>
<circle cx="188.49" cy="478.05" r="3.7" fill="#b2a39a"/>
<circle cx="188.80" cy="478.46" r="3.7" fill="#b2a39a"/>
<circle cx="189.12" cy="478.85" r="3.7" fill="#b1a399"/>
<circle cx="189.46" cy="479.23" r="3.7" fill="#b1a399"/>
<circle cx="189.80" cy="479.59" r="3.7" fill="#b0a498"/>
<circle cx="190.15" cy="479.93" r="3.7" fill="#b0a498"/>
<circle cx="190.51" cy="480.25" r="3.7" fill="#afa498"/>
<circle cx="190.87" cy="480.54" r="3.7" fill="#aea497"/>
<circle cx="191.24" cy="480.82" r="3.7" fill="#aea597"/>
<circle cx="191.61" cy="481.07" r="3.7" fill="#ada597"/>
<circle cx="191.99" cy="481.30" r="3.7" fill="#aca596"/>
<circle cx="192.37" cy="481.50" r="3.7" fill="#aca596"/>
<circle cx="192.75" cy="481.67" r="3.7" fill="#aba696"/>
<circle cx="193.14" cy="481.82" r="3.7" fill="#aaa696"/>
<circle cx="193.52" cy="481.94" r="3.7" fill="#a9a696"/>
<circle cx="193.91" cy="482.04" r="3.7" fill="#a9a696"/>
<circle cx="194.30" cy="482.10" r="3.7" fill="#a8a796"/>
<circle cx="194.68" cy="482.14" r="3.7" fill="#a7a796"/>
<circle cx="195.07" cy="482.15" r="3.7" fill="#a6a796"/>
<circle cx="195.45" cy="482.14" r="3.7" fill="#a6a796"/>
<circle cx="195.83" cy="482.09" r="3.7" fill="#a5a796"/>
<circle cx="196.21" cy="482.02" r="3.7" fill="#a4a896"/>
<circle cx="196.59" cy="481.92" r="3.7" fill="#a3a896"/>
<circle cx="196.96" cy="481.80" r="3.7" fill="#a2a896"/>
<circle cx="197.33" cy="481.65" r="3.7" fill="#a2a897"/>
<circle cx="197.69" cy="481.47" r="3.7" fill="#a1a897"/>
<circle cx="198.05" cy="481.28" r="3.7" fill="#a0a997"/>
<circle cx="198.40" cy="481.06" r="3.7" fill="#9fa997"/>
<circle cx="198.75" cy="480.81" r="3.7" fill="#9ea998"/>
<circle cx="199.09" cy="480.55" r="3.7" fill="#9ea998"/>
<circle cx="199.43" cy="480.27" r="3.7" fill="#9da999"/>
<circle cx="199.75" cy="479.96" r="3.7" fill="#9caa99"/>
<circle cx="200.07" cy="479.64" r="3.7" fill="#9baa99"/>
<circle cx="200.39" cy="479.31" r="3.7" fill="#9baa9a"/>
<circle cx="200.69" cy="478.96" r="3.7" fill="#9aaa9a"/>
<circle cx="200.98" cy="478.59" r="3.7" fill="#99aa9b"/>
<circle cx="201.27" cy="478.21" r="3.7" fill="#99aa9b"/>
<circle cx="201.54" cy="477.82" r="3.7" fill="#98aa9c"/>
<circle cx="201.81" cy="477.43" r="3.7" fill="#97aa9d"/>
<circle cx="202.06" cy="477.02" r="3.7" fill="#97ab9d"/>
<circle cx="202.31" cy="476.60" r="3.7" fill="#96ab9e"/>
<circle cx="202.54" cy="476.18" r="3.7" fill="#96ab9e"/>
<circle cx="202.76" cy="475.75" r="3.7" fill="#95ab9f"/>
<circle cx="202.96" cy="475.32" r="3.7" fill="#95aba0"/>
<circle cx="203.16" cy="474.89" r="3.7" fill="#94aba0"/>
<circle cx="203.34" cy="474.45" r="3.7" fill="#94aba1"/>
<circle cx="203.51" cy="474.01" r="3.7" fill="#94aba2"/>
<circle cx="203.66" cy="473.57" r="3.7" fill="#93aba2"/>
<circle cx="203.80" cy="473.13" r="3.7" fill="#93aba3"/>
<circle cx="203.92" cy="472.70" r="3.7" fill="#93aba4"/>
<circle cx="204.03" cy="472.26" r="3.7" fill="#92aba4"/>
<circle cx="204.12" cy="471.83" r="3.7" fill="#92aba5"/>
<circle cx="204.19" cy="471.40" r="3.7" fill="#92aba6"/>
<circle cx="204.25" cy="470.98" r="3.7" fill="#92aba7"/>
<circle cx="204.30" cy="470.57" r="3.7" fill="#92aba7"/>
<circle cx="204.32" cy="470.17" r="3.7" fill="#92aba8"/>
<circle cx="204.33" cy="469.78" r="3.7" fill="#92aba9"/>
<circle cx="204.32" cy="469.40" r="3.7" fill="#92aba9"/>
<circle cx="204.29" cy="469.02" r="3.7" fill="#92abaa"/>
<circle cx="204.25" cy="468.65" r="3.7" fill="#92aaab"/>
<circle cx="204.18" cy="468.29" r="3.7" fill="#93aaab"/>
<circle cx="204.10" cy="467.94" r="3.7" fill="#93aaac"/>
<circle cx="204.00" cy="467.60" r="3.7" fill="#93aaac"/>
<circle cx="203.88" cy="467.26" r="3.7" fill="#94aaad"/>
<circle cx="203.75" cy="466.94" r="3.7" fill="#94aaae"/>
<circle cx="203.59" cy="466.62" r="3.7" fill="#94aaae"/>
<circle cx="203.42" cy="466.32" r="3.7" fill="#95a9af"/>
<circle cx="203.23" cy="466.02" r="3.7" fill="#95a9af"/>
<circle cx="203.02" cy="465.74" r="3.7" fill="#96a9b0"/>
<circle cx="202.80" cy="465.46" r="3.7" fill="#96a9b0"/>
<circle cx="202.55" cy="465.20" r="3.7" fill="#97a9b1"/>
<circle cx="202.29" cy="464.94" r="3.7" fill="#98a8b1"/>
<circle cx="202.02" cy="464.70" r="3.7" fill="#98a8b2"/>
<circle cx="201.72" cy="464.47" r="3.7" fill="#99a8b2"/>
<circle cx="201.42" cy="464.25" r="3.7" fill="#9aa8b2"/>
<circle cx="201.09" cy="464.05" r="3.7" fill="#9aa8b3"/>
<circle cx="200.75" cy="463.85" r="3.7" fill="#9ba7b3"/>
<circle cx="200.40" cy="463.67" r="3.7" fill="#9ca7b3"/>
<circle cx="200.04" cy="463.50" r="3.7" fill="#9da7b4"/>
<circle cx="199.66" cy="463.34" r="3.7" fill="#9da7b4"/>
<circle cx="199.27" cy="463.19" r="3.7" fill="#9ea6b4"/>
<circle cx="198.87" cy="463.06" r="3.7" fill="#9fa6b4"/>
<circle cx="198.46" cy="462.94" r="3.7" fill="#a0a6b4"/>
<circle cx="198.04" cy="462.83" r="3.7" fill="#a1a6b5"/>
<circle cx="197.61" cy="462.74" r="3.7" fill="#a2a5b5"/>
<circle cx="197.18" cy="462.65" r="3.7" fill="#a2a5b5"/>
<circle cx="196.73" cy="462.59" r="3.7" fill="#a3a5b5"/>
<circle cx="196.29" cy="462.53" r="3.7" fill="#a4a5b5"/>
<circle cx="195.83" cy="462.49" r="3.7" fill="#a5a4b5"/>
<circle cx="195.38" cy="462.46" r="3.7" fill="#a6a4b5"/>
<circle cx="194.92" cy="462.45" r="3.7" fill="#a7a4b5"/>
<circle cx="194.47" cy="462.45" r="3.7" fill="#a7a4b4"/>
<circle cx="194.01" cy="462.47" r="3.7" fill="#a8a3b4"/>
<circle cx="193.55" cy="462.50" r="3.7" fill="#a9a3b4"/>
<circle cx="193.10" cy="462.54" r="3.7" fill="#aaa3b4"/>
<circle cx="192.65" cy="462.60" r="3.7" fill="#aba3b4"/>
<circle cx="192.20" cy="462.67" r="3.7" fill="#aba2b4"/>
<circle cx="191.76" cy="462.76" r="3.7" fill="#aca2b3"/>
<circle cx="191.33" cy="462.87" r="3.7" fill="#ada2b3"/>
<circle cx="190.91" cy="462.98" r="3.7" fill="#aea2b3"/>
<circle cx="190.49" cy="463.12" r="3.7" fill="#aea2b2"/>
<circle cx="190.09" cy="463.27" r="3.7" fill="#afa1b2"/>
<circle cx="189.69" cy="463.43" r="3.7" fill="#b0a1b1"/>
<circle cx="189.31" cy="463.61" r="3.7" fill="#b0a1b1"/>
<circle cx="188.95" cy="463.80" r="3.7" fill="#b1a1b1"/>
<circle cx="188.59" cy="464.01" r="3.7" fill="#b1a1b0"/>
<circle cx="188.26" cy="464.24" r="3.7" fill="#b2a1b0"/>
<circle cx="187.93" cy="464.47" r="3.7" fill="#b3a1af"/>
<circle cx="187.63" cy="464.73" r="3.7" fill="#b3a0ae"/>
<circle cx="187.34" cy="465.00" r="3.7" fill="#b3a0ae"/>
<circle cx="187.07" cy="465.28" r="3.7" fill="#b4a0ad"/>
<circle cx="186.83" cy="465.58" r="3.7" fill="#b4a0ad"/>
<circle cx="186.60" cy="465.89" r="3.7" fill="#b5a0ac"/>
<circle cx="186.39" cy="466.21" r="3.7" fill="#b5a0ac"/>
<circle cx="186.20" cy="466.55" r="3.7" fill="#b5a0ab"/>
<circle cx="186.03" cy="466.90" r="3.7" fill="#b6a0aa"/>
<circle cx="185.88" cy="467.27" r="3.7" fill="#b6a0aa"/>
<circle cx="185.76" cy="467.64" r="3.7" fill="#b6a0a9"/>
<circle cx="185.65" cy="468.03" r="3.7" fill="#b6a0a8"/>
<circle cx="185.57" cy="468.43" r="3.7" fill="#b6a0a8"/>
<circle cx="185.51" cy="468.84" r="3.7" fill="#b7a0a7"/>
<circle cx="185.47" cy="469.26" r="3.7" fill="#b7a0a6"/>
<circle cx="185.46" cy="469.68" r="3.7" fill="#b7a0a5"/>
<circle cx="185.46" cy="470.12" r="3.7" fill="#b7a0a5"/>
<circle cx="183.60" cy="470.55" r="3.7" fill="#b7a0a4"/>
<circle cx="183.66" cy="471.04" r="3.7" fill="#b7a0a3"/>
<circle cx="183.74" cy="471.54" r="3.7" fill="#b7a0a3"/>
<circle cx="183.83" cy="472.04" r="3.7" fill="#b7a0a2"/>
<circle cx="183.95" cy="472.55" r="3.7" fill="#b7a0a1"/>
<circle cx="184.08" cy="473.07" r="3.7" fill="#b7a1a1"/>
<circle cx="184.23" cy="473.58" r="3.7" fill="#b7a1a0"/>
<circle cx="184.40" cy="474.10" r="3.7" fill="#b7a1a0"/>
<circle cx="184.59" cy="474.62" r="3.7" fill="#b6a19f"/>
<circle cx="184.79" cy="475.14" r="3.7" fill="#b6a19e"/>
<circle cx="185.01" cy="475.66" r="3.7" fill="#b6a19e"/>
<circle cx="185.24" cy="476.18" r="3.7" fill="#b6a19d"/>
<circle cx="185.49" cy="476.69" r="3.7" fill="#b5a29d"/>
<circle cx="185.75" cy="477.20" r="3.7" fill="#b5a29c"/>
<circle cx="186.03" cy="477.70" r="3.7" fill="#b5a29c"/>
<circle cx="186.32" cy="478.19" r="3.7" fill="#b4a29b"/>
<circle cx="186.61" cy="478.68" r="3.7" fill="#b4a29b"/>
<circle cx="186.93" cy="479.15" r="3.7" fill="#b3a29a"/>
<circle cx="187.25" cy="479.62" r="3.7" fill="#b3a39a"/>
<circle cx="187.58" cy="480.07" r="3.7" fill="#b3a399"/>
<circle cx="187.92" cy="480.51" r="3.7" fill="#b2a399"/>
<circle cx="188.26" cy="480.93" r="3.7" fill="#b2a398"/>
<circle cx="188.62" cy="481.34" r="3.7" fill="#b1a398"/>
<circle cx="188.98" cy="481.73" r="3.7" fill="#b1a498"/>
<circle cx="189.35" cy="482.10" r="3.7" fill="#b0a497"/>
<circle cx="189.72" cy="482.45" r="3.7" fill="#afa497"/>
<circle cx="190.10" cy="482.79" r="3.7" fill="#afa497"/>
<circle cx="190.49" cy="483.10" r="3.7" fill="#aea496"/>
<circle cx="190.87" cy="483.38" r="3.7" fill="#aea596"/>
<circle cx="191.26" cy="483.65" r="3.7" fill="#ada596"/>
<circle cx="191.66" cy="483.89" r="3.7" fill="#aca596"/>
<circle cx="192.05" cy="484.10" r="3.7" fill="#aca596"/>
<circle cx="192.45" cy="484.29" r="3.7" fill="#aba695"/>
<circle cx="192.84" cy="484.45" r="3.7" fill="#aaa695"/>
<circle cx="193.24" cy="484.59" r="3.7" fill="#aaa695"/>
<circle cx="193.64" cy="484.70" r="3.7" fill="#a9a695"/>
<circle cx="194.04" cy="484.78" r="3.7" fill="#a8a695"/>
<circle cx="194.43" cy="484.84" r="3.7" fill="#a8a795"/>
<circle cx="194.83" cy="484.86" r="3.7" fill="#a7a795"/>
<circle cx="195.22" cy="484.86" r="3.7" fill="#a6a795"/>
<circle cx="195.61" cy="484.84" r="3.7" fill="#a6a795"/>
<circle cx="196.00" cy="484.79" r="3.7" fill="#a5a795"/>
<circle cx="196.39" cy="484.71" r="3.7" fill="#a4a895"/>
<circle cx="196.77" cy="484.60" r="3.7" fill="#a3a895"/>
<circle cx="197.15" cy="484.47" r="3.7" fill="#a3a896"/>
<circle cx="197.53" cy="484.31" r="3.7" fill="#a2a896"/>
<circle cx="197.90" cy="484.13" r="3.7" fill="#a1a896"/>
<circle cx="198.27" cy="483.93" r="3.7" fill="#a0a996"/>
<circle cx="198.63" cy="483.70" r="3.7" fill="#a0a996"/>
<circle cx="198.99" cy="483.45" r="3.7" fill="#9fa997"/>
<circle cx="199.35" cy="483.18" r="3.7" fill="#9ea997"/>
<circle cx="199.70" cy="482.90" r="3.7" fill="#9ea997"/>
<circle cx="200.04" cy="482.59" r="3.7" fill="#9da998"/>
<circle cx="200.38" cy="482.26" r="3.7" fill="#9caa98"/>
<circle cx="200.71" cy="481.92" r="3.7" fill="#9caa99"/>
<circle cx="201.03" cy="481.56" r="3.7" fill="#9baa99"/>
<circle cx="201.35" cy="481.19" r="3.7" fill="#9aaa99"/>
<circle cx="201.66" cy="480.80" r="3.7" fill="#9aaa9a"/>
<circle cx="201.96" cy="480.41" r="3.7" fill="#99aa9a"/>
<circle cx="202.26" cy="480.00" r="3.7" fill="#98aa9b"/>
<circle cx="202.54" cy="479.58" r="3.7" fill="#98ab9b"/>
<circle cx="202.82" cy="479.15" r="3.7" fill="#97ab9c"/>
<circle cx="203.09" cy="478.71" r="3.7" fill="#97ab9c"/>
<circle cx="203.35" cy="478.27" r="3.7" fill="#96ab9d"/>
<circle cx="203.60" cy="477.82" r="3.7" fill="#96ab9d"/>
<circle cx="203.84" cy="477.37" r="3.7" fill="#95ab9e"/>
<circle cx="204.07" cy="476.91" r="3.7" fill="#95ab9f"/>
<circle cx="204.29" cy="476.45" r="3.7" fill="#94ab9f"/>
<circle cx="204.50" cy="475.99" r="3.7" fill="#94aba0"/>
<circle cx="204.70" cy="475.52" r="3.7" fill="#93aba0"/>
<circle cx="204.88" cy="475.06" r="3.7" fill="#93aba1"/>
<circle cx="205.06" cy="474.59" r="3.7" fill="#93aba2"/>
<circle cx="205.22" cy="474.13" r="3.7" fill="#92aba2"/>
<circle cx="205.36" cy="473.67" r="3.7" fill="#92aba3"/>
<circle cx="205.50" cy="473.21" r="3.7" fill="#92aba4"/>
<circle cx="205.62" cy="472.76" r="3.7" fill="#92aba4"/>
<circle cx="205.73" cy="472.31" r="3.7" fill="#91aba5"/>
<circle cx="205.82" cy="471.86" r="3.7" fill="#91aba5"/>
<circle cx="205.90" cy="471.42" r="3.7" fill="#91aba6"/>
<circle cx="205.97" cy="470.98" r="3.7" fill="#91aba7"/>
<circle cx="206.02" cy="470.55" r="3.7" fill="#91aba7"/>
<circle cx="206.05" cy="470.14" r="3.7" fill="#91aba8"/>
<circle cx="206.07" cy="469.74" r="3.7" fill="#91aba9"/>
<circle cx="206.07" cy="469.35" r="3.7" fill="#91aba9"/>
<circle cx="206.06" cy="468.96" r="3.7" fill="#91abaa"/>
<circle cx="206.03" cy="468.58" r="3.7" fill="#91abaa"/>
<circle cx="205.98" cy="468.20" r="3.7" fill="#92abab"/>
<circle cx="205.92" cy="467.84" r="3.7" fill="#92aaac"/>
<circle cx="205.84" cy="467.48" r="3.7" fill="#92aaac"/>
<circle cx="205.75" cy="467.13" r="3.7" fill="#92aaad"/>
<circle cx="205.63" cy="466.79" r="3.7" fill="#93aaad"/>
<circle cx="205.50" cy="466.46" r="3.7" fill="#93aaae"/>
<circle cx="205.36" cy="466.14" r="3.7" fill="#93aaae"/>
<circle cx="205.19" cy="465.82" r="3.7" fill="#94aaaf"/>
<circle cx="205.02" cy="465.52" r="3.7" fill="#94a9af"/>
<circle cx="204.82" cy="465.22" r="3.7" fill="#95a9b0"/>
<circle cx="204.61" cy="464.94" r="3.7" fill="#95a9b0"/>
<circle cx="204.38" cy="464.66" r="3.7" fill="#96a9b1"/>
<circle cx="204.13" cy="464.39" r="3.7" fill="#96a9b1"/>
<circle cx="203.87" cy="464.13" r="3.7" fill="#97a9b2"/>
<circle cx="203.60" cy="463.89" r="3.7" fill="#97a8b2"/>
<circle cx="203.30" cy="463.65" r="3.7" fill="#98a8b2"/>
<circle cx="203.00" cy="463.42" r="3.7" fill="#98a8b3"/>
<circle cx="202.67" cy="463.20" r="3.7" fill="#99a8b3"/>
<circle cx="202.34" cy="463.00" r="3.7" fill="#9aa8b3"/>
<circle cx="201.99" cy="462.80" r="3.7" fill="#9aa7b4"/>
<circle cx="201.62" cy="462.61" r="3.7" fill="#9ba7b4"/>
<circle cx="201.25" cy="462.44" r="3.7" fill="#9ca7b4"/>
<circle cx="200.86" cy="462.27" r="3.7" fill="#9da7b4"/>
<circle cx="200.46" cy="462.12" r="3.7" fill="#9da6b5"/>
<circle cx="200.05" cy="461.97" r="3.7" fill="#9ea6b5"/>
<circle cx="199.63" cy="461.84" r="3.7" fill="#9fa6b5"/>
<circle cx="199.20" cy="461.72" r="3.7" fill="#a0a6b5"/>
<circle cx="198.76" cy="461.61" r="3.7" fill="#a0a6b5"/>
<circle cx="198.31" cy="461.51" r="3.7" fill="#a1a5b5"/>
<circle cx="197.85" cy="461.42" r="3.7" fill="#a2a5b5"/>
<circle cx="197.39" cy="461.34" r="3.7" fill="#a3a5b5"/>
<circle cx="196.92" cy="461.27" r="3.7" fill="#a3a5b5"/>
<circle cx="196.45" cy="461.22" r="3.7" fill="#a4a4b5"/>
<circle cx="195.97" cy="461.18" r="3.7" fill="#a5a4b5"/>
<circle cx="195.49" cy="461.15" r="3.7" fill="#a6a4b5"/>
<circle cx="195.01" cy="461.13" r="3.7" fill="#a7a4b5"/>
<circle cx="194.52" cy="461.12" r="3.7" fill="#a7a4b5"/>
<circle cx="194.04" cy="461.13" r="3.7" fill="#a8a3b5"/>
<circle cx="193.56" cy="461.15" r="3.7" fill="#a9a3b5"/>
<circle cx="193.07" cy="461.18" r="3.7" fill="#aaa3b5"/>
<circle cx="192.59" cy="461.23" r="3.7" fill="#aaa3b5"/>
<circle cx="192.12" cy="461.28" r="3.7" fill="#aba2b4"/>
<circle cx="191.65" cy="461.35" r="3.7" fill="#aca2b4"/>
<circle cx="191.18" cy="461.43" r="3.7" fill="#aca2b4"/>
<circle cx="190.72" cy="461.53" r="3.7" fill="#ada2b4"/>
<circle cx="190.26" cy="461.64" r="3.7" fill="#aea2b3"/>
<circle cx="189.82" cy="461.76" r="3.7" fill="#aea2b3"/>
<circle cx="189.38" cy="461.90" r="3.7" fill="#afa1b3"/>
<circle cx="188.96" cy="462.05" r="3.7" fill="#b0a1b2"/>
<circle cx="188.54" cy="462.21" r="3.7" fill="#b0a1b2"/>
<circle cx="188.14" cy="462.39" r="3.7" fill="#b1a1b1"/>
<circle cx="187.75" cy="462.58" r="3.7" fill="#b1a1b1"/>
<circle cx="187.37" cy="462.78" r="3.7" fill="#b2a1b1"/>
<circle cx="187.01" cy="463.00" r="3.7" fill="#b2a1b0"/>
<circle cx="186.66" cy="463.23" r="3.7" fill="#b3a0b0"/>
<circle cx="186.33" cy="463.48" r="3.7" fill="#b3a0af"/>
<circle cx="186.01" cy="463.74" r="3.7" fill="#b4a0af"/>
<circle cx="185.72" cy="464.01" r="3.7" fill="#b4a0ae"/>
<circle cx="185.43" cy="464.30" r="3.7" fill="#b5a0ae"/>
<circle cx="185.17" cy="464.60" r="3.7" fill="#b5a0ad"/>
<circle cx="184.93" cy="464.91" r="3.7" fill="#b5a0ad"/>
<circle cx="184.70" cy="465.24" r="3.7" fill="#b6a0ac"/>
<circle cx="184.49" cy="465.58" r="3.7" fill="#b6a0ab"/>
<circle cx="184.31" cy="465.93" r="3.7" fill="#b6a0ab"/>
<circle cx="184.14" cy="466.30" r="3.7" fill="#b6a0aa"/>
<circle cx="183.99" cy="466.67" r="3.7" fill="#b7a0aa"/>
<circle cx="183.87" cy="467.06" r="3.7" fill="#b7a0a9"/>
<circle cx="183.76" cy="467.46" r="3.7" fill="#b7a0a8"/>
<circle cx="183.68" cy="467.87" r="3.7" fill="#b7a0a8"/>
<circle cx="183.61" cy="468.30" r="3.7" fill="#b7a0a7"/>
<circle cx="183.57" cy="468.73" r="3.7" fill="#b7a0a7"/>
<circle cx="183.55" cy="469.17" r="3.7" fill="#b7a0a6"/>
<circle cx="183.54" cy="469.62" r="3.7" fill="#b7a0a5"/>
<circle cx="183.56" cy="470.08" r="3.7" fill="#b7a0a5"/>
<circle cx="164.81" cy="470.23" r="3.75" fill="#d196a1"/>
<circle cx="164.96" cy="470.83" r="3.75" fill="#d196a0"/>
<circle cx="165.14" cy="471.45" r="3.75" fill="#d196a0"/>
<circle cx="165.32" cy="472.09" r="3.75" fill="#d1969f"/>
<circle cx="165.52" cy="472.73" r="3.75" fill="#d1969e"/>
<circle cx="165.72" cy="473.39" r="3.75" fill="#d1979d"/>
<circle cx="165.94" cy="474.06" r="3.75" fill="#d1979c"/>
<circle cx="166.18" cy="474.73" r="3.75" fill="#d1979c"/>
<circle cx="166.42" cy="475.42" r="3.75" fill="#d0979b"/>
<circle cx="166.67" cy="476.12" r="3.75" fill="#d0979a"/>
<circle cx="166.94" cy="476.83" r="3.75" fill="#d09799"/>
<circle cx="167.22" cy="477.54" r="3.75" fill="#d09799"/>
<circle cx="167.50" cy="478.27" r="3.75" fill="#d09898"/>
<circle cx="167.80" cy="479.01" r="3.75" fill="#d09897"/>
<circle cx="168.11" cy="479.75" r="3.75" fill="#cf9896"/>
<circle cx="168.43" cy="480.51" r="3.75" fill="#cf9895"/>
<circle cx="168.75" cy="481.27" r="3.75" fill="#cf9895"/>
<circle cx="169.09" cy="482.04" r="3.75" fill="#cf9994"/>
<circle cx="169.44" cy="482.83" r="3.75" fill="#ce9993"/>
<circle cx="169.79" cy="483.61" r="3.75" fill="#ce9992"/>
<circle cx="170.16" cy="484.41" r="3.75" fill="#ce9992"/>
<circle cx="170.53" cy="485.22" r="3.75" fill="#ce9991"/>
<circle cx="170.91" cy="486.03" r="3.75" fill="#cd9990"/>
<circle cx="171.30" cy="486.85" r="3.75" fill="#cd9a8f"/>
<circle cx="171.69" cy="487.67" r="3.75" fill="#cd9a8f"/>
<circle cx="172.10" cy="488.51" r="3.75" fill="#cc9a8e"/>
<circle cx="172.51" cy="489.35" r="3.75" fill="#cc9a8d"/>
<circle cx="172.92" cy="490.19" r="3.75" fill="#cc9b8d"/>
<circle cx="173.34" cy="491.04" r="3.75" fill="#cb9b8c"/>
<circle cx="173.77" cy="491.89" r="3.75" fill="#cb9b8b"/>
<circle cx="174.21" cy="492.75" r="3.75" fill="#cb9b8a"/>
<circle cx="174.65" cy="493.61" r="3.75" fill="#ca9b8a"/>
<circle cx="175.09" cy="494.48" r="3.75" fill="#ca9c89"/>
<circle cx="175.54" cy="495.34" r="3.75" fill="#c99c88"/>
<circle cx="175.99" cy="496.21" r="3.75" fill="#c99c88"/>
<circle cx="176.45" cy="497.08" r="3.75" fill="#c99c87"/>
<circle cx="176.91" cy="497.96" r="3.75" fill="#c89c86"/>
<circle cx="177.38" cy="498.83" r="3.75" fill="#c89d86"/>
<circle cx="177.85" cy="499.70" r="3.75" fill="#c79d85"/>
<circle cx="178.32" cy="500.57" r="3.75" fill="#c79d84"/>
<circle cx="178.79" cy="501.44" r="3.75" fill="#c69d84"/>
<circle cx="179.26" cy="502.30" r="3.75" fill="#c69e83"/>
<circle cx="179.74" cy="503.17" r="3.75" fill="#c59e82"/>
<circle cx="180.22" cy="504.03" r="3.75" fill="#c59e82"/>
<circle cx="180.69" cy="504.88" r="3.75" fill="#c49e81"/>
<circle cx="181.17" cy="505.73" r="3.75" fill="#c49f81"/>
<circle cx="181.65" cy="506.57" r="3.75" fill="#c39f80"/>
<circle cx="182.13" cy="507.40" r="3.75" fill="#c39f80"/>
<circle cx="182.61" cy="508.23" r="3.75" fill="#c29f7f"/>
<circle cx="183.09" cy="509.04" r="3.75" fill="#c2a07e"/>
<circle cx="183.57" cy="509.85" r="3.75" fill="#c1a07e"/>
<circle cx="184.04" cy="510.65" r="3.75" fill="#c1a07d"/>
<circle cx="184.52" cy="511.43" r="3.75" fill="#c0a07d"/>
<circle cx="184.99" cy="512.20" r="3.75" fill="#c0a17c"/>
<circle cx="185.46" cy="512.96" r="3.75" fill="#bfa17c"/>
<circle cx="185.93" cy="513.70" r="3.75" fill="#bea17b"/>
<circle cx="186.40" cy="514.43" r="3.75" fill="#bea17b"/>
<circle cx="186.86" cy="515.14" r="3.75" fill="#bda27b"/>
<circle cx="187.32" cy="515.83" r="3.75" fill="#bda27a"/>
<circle cx="187.78" cy="516.50" r="3.75" fill="#bca27a"/>
<circle cx="188.23" cy="517.16" r="3.75" fill="#bba279"/>
<circle cx="188.68" cy="517.79" r="3.75" fill="#bba379"/>
<circle cx="189.13" cy="518.41" r="3.75" fill="#baa379"/>
<circle cx="189.57" cy="519.00" r="3.75" fill="#b9a378"/>
<circle cx="190.00" cy="519.57" r="3.75" fill="#b9a378"/>
<circle cx="190.44" cy="520.11" r="3.75" fill="#b8a478"/>
<circle cx="190.86" cy="520.64" r="3.75" fill="#b7a477"/>
<circle cx="191.29" cy="521.13" r="3.75" fill="#b7a477"/>
<circle cx="191.71" cy="521.60" r="3.75" fill="#b6a477"/>
<circle cx="192.12" cy="522.05" r="3.75" fill="#b5a576"/>
<circle cx="192.53" cy="522.46" r="3.75" fill="#b5a576"/>
<circle cx="192.93" cy="522.85" r="3.75" fill="#b4a576"/>
<circle cx="193.33" cy="523.21" r="3.75" fill="#b3a576"/>
<circle cx="193.72" cy="523.55" r="3.75" fill="#b3a676"/>
<circle cx="194.11" cy="523.85" r="3.75" fill="#b2a675"/>
<circle cx="194.49" cy="524.12" r="3.75" fill="#b1a675"/>
<circle cx="194.87" cy="524.37" r="3.75" fill="#b0a675"/>
<circle cx="195.24" cy="524.58" r="3.75" fill="#b0a775"/>
<circle cx="195.61" cy="524.76" r="3.75" fill="#afa775"/>
<circle cx="195.97" cy="524.91" r="3.75" fill="#aea775"/>
<circle cx="196.33" cy="525.03" r="3.75" fill="#ada775"/>
<circle cx="196.69" cy="525.12" r="3.75" fill="#ada875"/>
<circle cx="197.03" cy="525.18" r="3.75" fill="#aca875"/>
<circle cx="197.38" cy="525.20" r="3.75" fill="#aba875"/>
<circle cx="197.72" cy="525.20" r="3.75" fill="#aaa875"/>
<circle cx="198.05" cy="525.16" r="3.75" fill="#a9a975"/>
<circle cx="198.38" cy="525.10" r="3.75" fill="#a9a975"/>
<circle cx="198.71" cy="525.00" r="3.75" fill="#a8a975"/>
<circle cx="199.03" cy="524.87" r="3.75" fill="#a7a975"/>
<circle cx="199.34" cy="524.72" r="3.75" fill="#a6a975"/>
<circle cx="199.66" cy="524.53" r="3.75" fill="#a5aa75"/>
<circle cx="199.97" cy="524.31" r="3.75" fill="#a5aa75"/>
<circle cx="200.28" cy="524.07" r="3.75" fill="#a4aa75"/>
<circle cx="200.58" cy="523.79" r="3.75" fill="#a3aa75"/>
<circle cx="200.88" cy="523.49" r="3.75" fill="#a2ab76"/>
<circle cx="201.18" cy="523.17" r="3.75" fill="#a1ab76"/>
<circle cx="201.48" cy="522.81" r="3.75" fill="#a0ab76"/>
<circle cx="201.77" cy="522.44" r="3.75" fill="#a0ab76"/>
<circle cx="202.06" cy="522.03" r="3.75" fill="#9fac76"/>
<circle cx="202.35" cy="521.60" r="3.75" fill="#9eac77"/>
<circle cx="202.63" cy="521.15" r="3.75" fill="#9dac77"/>
<circle cx="202.92" cy="520.68" r="3.75" fill="#9cac77"/>
<circle cx="203.20" cy="520.18" r="3.75" fill="#9bac77"/>
<circle cx="203.48" cy="519.67" r="3.75" fill="#9aad78"/>
<circle cx="203.76" cy="519.13" r="3.75" fill="#99ad78"/>
<circle cx="204.04" cy="518.58" r="3.75" fill="#99ad78"/>
<circle cx="204.32" cy="518.00" r="3.75" fill="#98ad79"/>
<circle cx="204.59" cy="517.41" r="3.75" fill="#97ad79"/>
<circle cx="204.87" cy="516.81" r="3.75" fill="#96ae7a"/>
<circle cx="205.14" cy="516.19" r="3.75" fill="#95ae7a"/>
<circle cx="205.42" cy="515.55" r="3.75" fill="#94ae7a"/>
<circle cx="205.69" cy="514.90" r="3.75" fill="#93ae7b"/>
<circle cx="205.96" cy="514.24" r="3.75" fill="#92ae7b"/>
<circle cx="206.24" cy="513.56" r="3.75" fill="#91af7c"/>
<circle cx="206.51" cy="512.88" r="3.75" fill="#90af7c"/>
<circle cx="206.78" cy="512.18" r="3.75" fill="#90af7d"/>
<circle cx="207.05" cy="511.47" r="3.75" fill="#8faf7d"/>
<circle cx="207.33" cy="510.76" r="3.75" fill="#8eaf7e"/>
<circle cx="207.60" cy="510.04" r="3.75" fill="#8daf7e"/>
<circle cx="207.87" cy="509.31" r="3.75" fill="#8cb07f"/>
<circle cx="208.14" cy="508.58" r="3.75" fill="#8bb07f"/>
<circle cx="208.41" cy="507.84" r="3.75" fill="#8ab080"/>
<circle cx="208.68" cy="507.09" r="3.75" fill="#89b080"/>
<circle cx="208.96" cy="506.34" r="3.75" fill="#88b081"/>
<circle cx="209.23" cy="505.59" r="3.75" fill="#87b082"/>
<circle cx="209.50" cy="504.84" r="3.75" fill="#86b182"/>
<circle cx="209.77" cy="504.08" r="3.75" fill="#85b183"/>
<circle cx="210.04" cy="503.33" r="3.75" fill="#85b183"/>
<circle cx="210.31" cy="502.57" r="3.75" fill="#84b184"/>
<circle cx="210.58" cy="501.81" r="3.75" fill="#83b185"/>
<circle cx="210.85" cy="501.06" r="3.75" fill="#82b185"/>
<circle cx="211.12" cy="500.30" r="3.75" fill="#81b186"/>
<circle cx="211.39" cy="499.55" r="3.75" fill="#80b287"/>
<circle cx="211.66" cy="498.80" r="3.75" fill="#7fb287"/>
<circle cx="211.93" cy="498.05" r="3.75" fill="#7eb288"/>
<circle cx="212.20" cy="497.30" r="3.75" fill="#7db289"/>
<circle cx="212.47" cy="496.56" r="3.75" fill="#7cb289"/>
<circle cx="212.73" cy="495.82" r="3.75" fill="#7bb28a"/>
<circle cx="213.00" cy="495.08" r="3.75" fill="#7bb28b"/>
<circle cx="213.26" cy="494.35" r="3.75" fill="#7ab28b"/>
<circle cx="213.53" cy="493.63" r="3.75" fill="#79b28c"/>
<circle cx="213.79" cy="492.91" r="3.75" fill="#78b38d"/>
<circle cx="214.05" cy="492.19" r="3.75" fill="#77b38d"/>
<circle cx="214.31" cy="491.48" r="3.75" fill="#76b38e"/>
<circle cx="214.57" cy="490.78" r="3.75" fill="#75b38f"/>
<circle cx="214.82" cy="490.08" r="3.75" fill="#75b390"/>
<circle cx="215.08" cy="489.39" r="3.75" fill="#74b390"/>
<circle cx="215.33" cy="488.70" r="3.75" fill="#73b391"/>
<circle cx="215.58" cy="488.03" r="3.75" fill="#72b392"/>
<circle cx="215.83" cy="487.36" r="3.75" fill="#71b393"/>
<circle cx="216.07" cy="486.69" r="3.75" fill="#71b393"/>
<circle cx="216.32" cy="486.04" r="3.75" fill="#70b394"/>
<circle cx="216.56" cy="485.39" r="3.75" fill="#6fb395"/>
<circle cx="216.79" cy="484.74" r="3.75" fill="#6eb496"/>
<circle cx="217.03" cy="484.11" r="3.75" fill="#6db496"/>
<circle cx="217.26" cy="483.48" r="3.75" fill="#6db497"/>
<circle cx="217.49" cy="482.86" r="3.75" fill="#6cb498"/>
<circle cx="217.71" cy="482.25" r="3.75" fill="#6bb499"/>
<circle cx="217.93" cy="481.65" r="3.75" fill="#6bb499"/>
<circle cx="218.15" cy="481.05" r="3.75" fill="#6ab49a"/>
<circle cx="218.37" cy="480.46" r="3.75" fill="#69b49b"/>
<circle cx="218.58" cy="479.88" r="3.75" fill="#69b49c"/>
<circle cx="218.78" cy="479.31" r="3.75" fill="#68b49c"/>
<circle cx="218.98" cy="478.75" r="3.75" fill="#68b49d"/>
<circle cx="219.18" cy="478.19" r="3.75" fill="#67b49e"/>
<circle cx="219.37" cy="477.64" r="3.75" fill="#66b49f"/>
<circle cx="219.56" cy="477.10" r="3.75" fill="#66b49f"/>
<circle cx="219.75" cy="476.57" r="3.75" fill="#65b4a0"/>
<circle cx="219.92" cy="476.04" r="3.75" fill="#65b4a1"/>
<circle cx="220.10" cy="475.52" r="3.75" fill="#64b4a2"/>
<circle cx="220.27" cy="475.01" r="3.75" fill="#64b4a3"/>
<circle cx="220.43" cy="474.51" r="3.75" fill="#64b4a3"/>
<circle cx="220.59" cy="474.01" r="3.75" fill="#63b4a4"/>
<circle cx="220.74" cy="473.52" r="3.75" fill="#63b4a5"/>
<circle cx="220.89" cy="473.04" r="3.75" fill="#63b4a6"/>
<circle cx="221.03" cy="472.57" r="3.75" fill="#62b4a6"/>
<circle cx="221.16" cy="472.10" r="3.75" fill="#62b4a7"/>
<circle cx="221.29" cy="471.65" r="3.75" fill="#62b4a8"/>
<circle cx="221.41" cy="471.19" r="3.75" fill="#62b4a9"/>
<circle cx="221.53" cy="470.75" r="3.75" fill="#61b4a9"/>
<circle cx="221.64" cy="470.32" r="3.75" fill="#61b4aa"/>
<circle cx="221.74" cy="469.91" r="3.75" fill="#61b4ab"/>
<circle cx="221.84" cy="469.50" r="3.75" fill="#61b4ac"/>
<circle cx="221.93" cy="469.10" r="3.75" fill="#61b4ac"/>
<circle cx="222.01" cy="468.71" r="3.75" fill="#61b3ad"/>
<circle cx="222.09" cy="468.32" r="3.75" fill="#61b3ae"/>
<circle cx="222.16" cy="467.94" r="3.75" fill="#61b3ae"/>
<circle cx="222.22" cy="467.56" r="3.75" fill="#61b3af"/>
<circle cx="222.27" cy="467.19" r="3.75" fill="#61b3b0"/>
<circle cx="222.32" cy="466.83" r="3.75" fill="#61b3b1"/>
<circle cx="222.36" cy="466.47" r="3.75" fill="#61b3b1"/>
<circle cx="222.39" cy="466.12" r="3.75" fill="#61b3b2"/>
<circle cx="222.41" cy="465.77" r="3.75" fill="#62b3b3"/>
<circle cx="222.43" cy="465.43" r="3.75" fill="#62b3b3"/>
<circle cx="222.43" cy="465.10" r="3.75" fill="#62b3b4"/>
<circle cx="222.43" cy="464.77" r="3.75" fill="#62b2b5"/>
<circle cx="222.42" cy="464.44" r="3.75" fill="#63b2b5"/>
<circle cx="222.41" cy="464.12" r="3.75" fill="#63b2b6"/>
<circle cx="222.38" cy="463.81" r="3.75" fill="#64b2b7"/>
<circle cx="222.35" cy="463.50" r="3.75" fill="#64b2b7"/>
<circle cx="222.30" cy="463.20" r="3.75" fill="#64b2b8"/>
<circle cx="222.25" cy="462.90" r="3.75" fill="#65b2b9"/>
<circle cx="222.19" cy="462.61" r="3.75" fill="#65b2b9"/>
<circle cx="222.12" cy="462.32" r="3.75" fill="#66b1ba"/>
<circle cx="222.05" cy="462.04" r="3.75" fill="#66b1ba"/>
<circle cx="221.96" cy="461.76" r="3.75" fill="#67b1bb"/>
<circle cx="221.86" cy="461.48" r="3.75" fill="#68b1bc"/>
<circle cx="221.76" cy="461.21" r="3.75" fill="#68b1bc"/>
<circle cx="221.65" cy="460.95" r="3.75" fill="#69b1bd"/>
<circle cx="221.52" cy="460.69" r="3.75" fill="#6ab0bd"/>
<circle cx="221.39" cy="460.43" r="3.75" fill="#6ab0be"/>
<circle cx="221.25" cy="460.18" r="3.75" fill="#6bb0bf"/>
<circle cx="221.10" cy="459.93" r="3.75" fill="#6cb0bf"/>
<circle cx="220.94" cy="459.69" r="3.75" fill="#6db0c0"/>
<circle cx="220.77" cy="459.45" r="3.75" fill="#6db0c0"/>
<circle cx="220.59" cy="459.21" r="3.75" fill="#6eafc1"/>
<circle cx="220.40" cy="458.98" r="3.75" fill="#6fafc1"/>
<circle cx="220.20" cy="458.75" r="3.75" fill="#70afc2"/>
<circle cx="220.00" cy="458.53" r="3.75" fill="#71afc2"/>
<circle cx="219.78" cy="458.31" r="3.75" fill="#72afc3"/>
<circle cx="219.55" cy="458.09" r="3.75" fill="#72aec3"/>
<circle cx="219.32" cy="457.88" r="3.75" fill="#73aec4"/>
<circle cx="219.07" cy="457.67" r="3.75" fill="#74aec4"/>
<circle cx="218.82" cy="457.47" r="3.75" fill="#75aec5"/>
<circle cx="218.55" cy="457.26" r="3.75" fill="#76adc5"/>
<circle cx="218.28" cy="457.07" r="3.75" fill="#77adc6"/>
<circle cx="218.00" cy="456.87" r="3.75" fill="#78adc6"/>
<circle cx="217.70" cy="456.68" r="3.75" fill="#79adc7"/>
<circle cx="217.40" cy="456.49" r="3.75" fill="#7aadc7"/>
<circle cx="217.09" cy="456.31" r="3.75" fill="#7bacc7"/>
<circle cx="216.77" cy="456.13" r="3.75" fill="#7cacc8"/>
<circle cx="216.44" cy="455.95" r="3.75" fill="#7dacc8"/>
<circle cx="216.10" cy="455.77" r="3.75" fill="#7eacc9"/>
<circle cx="215.75" cy="455.60" r="3.75" fill="#7fabc9"/>
<circle cx="215.39" cy="455.43" r="3.75" fill="#80abc9"/>
<circle cx="215.02" cy="455.27" r="3.75" fill="#81abca"/>
<circle cx="214.65" cy="455.11" r="3.75" fill="#82abca"/>
<circle cx="214.26" cy="454.95" r="3.75" fill="#83aaca"/>
<circle cx="213.86" cy="454.79" r="3.75" fill="#84aacb"/>
<circle cx="213.46" cy="454.64" r="3.75" fill="#85aacb"/>
<circle cx="213.05" cy="454.49" r="3.75" fill="#87a9cb"/>
<circle cx="212.63" cy="454.34" r="3.75" fill="#88a9cb"/>
<circle cx="212.20" cy="454.20" r="3.75" fill="#89a9cc"/>
<circle cx="211.76" cy="454.06" r="3.75" fill="#8aa9cc"/>
<circle cx="211.31" cy="453.92" r="3.75" fill="#8ba8cc"/>
<circle cx="210.86" cy="453.78" r="3.75" fill="#8ca8cc"/>
<circle cx="210.40" cy="453.65" r="3.75" fill="#8da8cd"/>
<circle cx="209.93" cy="453.52" r="3.75" fill="#8ea7cd"/>
<circle cx="209.45" cy="453.40" r="3.75" fill="#8fa7cd"/>
<circle cx="208.96" cy="453.28" r="3.75" fill="#90a7cd"/>
<circle cx="208.47" cy="453.16" r="3.75" fill="#91a7cd"/>
<circle cx="207.96" cy="453.04" r="3.75" fill="#92a6ce"/>
<circle cx="207.46" cy="452.92" r="3.75" fill="#93a6ce"/>
<circle cx="206.94" cy="452.81" r="3.75" fill="#94a6ce"/>
<circle cx="206.42" cy="452.71" r="3.75" fill="#96a5ce"/>
<circle cx="205.89" cy="452.60" r="3.75" fill="#97a5ce"/>
<circle cx="205.35" cy="452.50" r="3.75" fill="#98a5ce"/>
<circle cx="204.81" cy="452.40" r="3.75" fill="#99a5ce"/>
<circle cx="204.26" cy="452.31" r="3.75" fill="#9aa4ce"/>
<circle cx="203.71" cy="452.21" r="3.75" fill="#9ba4cf"/>
<circle cx="203.15" cy="452.12" r="3.75" fill="#9ca4cf"/>
<circle cx="202.58" cy="452.04" r="3.75" fill="#9da3cf"/>
<circle cx="202.01" cy="451.95" r="3.75" fill="#9ea3cf"/>
<circle cx="201.44" cy="451.88" r="3.75" fill="#9fa3cf"/>
<circle cx="200.86" cy="451.80" r="3.75" fill="#a0a2cf"/>
<circle cx="200.27" cy="451.73" r="3.75" fill="#a1a2cf"/>
<circle cx="199.68" cy="451.66" r="3.75" fill="#a2a2cf"/>
<circle cx="199.09" cy="451.59" r="3.75" fill="#a3a2cf"/>
<circle cx="198.49" cy="451.53" r="3.75" fill="#a4a1cf"/>
<circle cx="197.89" cy="451.47" r="3.75" fill="#a5a1cf"/>
<circle cx="197.28" cy="451.41" r="3.75" fill="#a6a1cf"/>
<circle cx="196.68" cy="451.36" r="3.75" fill="#a7a0cf"/>
<circle cx="196.07" cy="451.31" r="3.75" fill="#a8a0ce"/>
<circle cx="195.45" cy="451.26" r="3.75" fill="#a9a0ce"/>
<circle cx="194.84" cy="451.22" r="3.75" fill="#aaa0ce"/>
<circle cx="194.22" cy="451.18" r="3.75" fill="#ab9fce"/>
<circle cx="193.60" cy="451.15" r="3.75" fill="#ac9fce"/>
<circle cx="192.98" cy="451.12" r="3.75" fill="#ad9fce"/>
<circle cx="192.36" cy="451.09" r="3.75" fill="#ae9ece"/>
<circle cx="191.74" cy="451.07" r="3.75" fill="#ae9ece"/>
<circle cx="191.12" cy="451.05" r="3.75" fill="#af9ecd"/>
<circle cx="190.50" cy="451.04" r="3.75" fill="#b09ecd"/>
<circle cx="189.88" cy="451.03" r="3.75" fill="#b19dcd"/>
<circle cx="189.25" cy="451.02" r="3.75" fill="#b29dcd"/>
<circle cx="188.63" cy="451.02" r="3.75" fill="#b39dcd"/>
<circle cx="188.01" cy="451.03" r="3.75" fill="#b49ccc"/>
<circle cx="187.40" cy="451.03" r="3.75" fill="#b59ccc"/>
<circle cx="186.78" cy="451.05" r="3.75" fill="#b59ccc"/>
<circle cx="186.17" cy="451.06" r="3.75" fill="#b69ccc"/>
<circle cx="185.55" cy="451.08" r="3.75" fill="#b79bcb"/>
<circle cx="184.94" cy="451.11" r="3.75" fill="#b89bcb"/>
<circle cx="184.34" cy="451.14" r="3.75" fill="#b99bcb"/>
<circle cx="183.74" cy="451.18" r="3.75" fill="#b99bca"/>
<circle cx="183.14" cy="451.22" r="3.75" fill="#ba9aca"/>
<circle cx="182.54" cy="451.26" r="3.75" fill="#bb9aca"/>
<circle cx="181.95" cy="451.32" r="3.75" fill="#bc9ac9"/>
<circle cx="181.37" cy="451.37" r="3.75" fill="#bc9ac9"/>
<circle cx="180.79" cy="451.43" r="3.75" fill="#bd9ac9"/>
<circle cx="180.21" cy="451.50" r="3.75" fill="#be99c8"/>
<circle cx="179.64" cy="451.57" r="3.75" fill="#be99c8"/>
<circle cx="179.08" cy="451.65" r="3.75" fill="#bf99c7"/>
<circle cx="178.52" cy="451.74" r="3.75" fill="#c099c7"/>
<circle cx="177.97" cy="451.83" r="3.75" fill="#c098c7"/>
<circle cx="177.42" cy="451.92" r="3.75" fill="#c198c6"/>
<circle cx="176.89" cy="452.03" r="3.75" fill="#c298c6"/>
<circle cx="176.36" cy="452.13" r="3.75" fill="#c298c5"/>
<circle cx="175.84" cy="452.25" r="3.75" fill="#c398c5"/>
<circle cx="175.32" cy="452.37" r="3.75" fill="#c497c4"/>
<circle cx="174.82" cy="452.49" r="3.75" fill="#c497c4"/>
<circle cx="174.32" cy="452.63" r="3.75" fill="#c597c3"/>
<circle cx="173.83" cy="452.77" r="3.75" fill="#c597c3"/>
<circle cx="173.35" cy="452.91" r="3.75" fill="#c697c2"/>
<circle cx="172.88" cy="453.07" r="3.75" fill="#c697c2"/>
<circle cx="172.43" cy="453.23" r="3.75" fill="#c797c1"/>
<circle cx="171.98" cy="453.40" r="3.75" fill="#c796c1"/>
<circle cx="171.54" cy="453.57" r="3.75" fill="#c896c0"/>
<circle cx="171.11" cy="453.75" r="3.75" fill="#c896c0"/>
<circle cx="170.69" cy="453.94" r="3.75" fill="#c996bf"/>
<circle cx="170.28" cy="454.14" r="3.75" fill="#c996bf"/>
<circle cx="169.88" cy="454.34" r="3.75" fill="#ca96be"/>
<circle cx="169.50" cy="454.55" r="3.75" fill="#ca96bd"/>
<circle cx="169.13" cy="454.77" r="3.75" fill="#cb96bd"/>
<circle cx="168.76" cy="455.00" r="3.75" fill="#cb95bc"/>
<circle cx="168.41" cy="455.23" r="3.75" fill="#cb95bc"/>
<circle cx="168.08" cy="455.47" r="3.75" fill="#cc95bb"/>
<circle cx="167.75" cy="455.72" r="3.75" fill="#cc95ba"/>
<circle cx="167.44" cy="455.98" r="3.75" fill="#cd95ba"/>
<circle cx="167.14" cy="456.25" r="3.75" fill="#cd95b9"/>
<circle cx="166.85" cy="456.53" r="3.75" fill="#cd95b8"/>
<circle cx="166.58" cy="456.81" r="3.75" fill="#ce95b8"/>
<circle cx="166.31" cy="457.10" r="3.75" fill="#ce95b7"/>
<circle cx="166.06" cy="457.40" r="3.75" fill="#ce95b6"/>
<circle cx="165.83" cy="457.71" r="3.75" fill="#ce95b6"/>
<circle cx="165.61" cy="458.03" r="3.75" fill="#cf95b5"/>
<circle cx="165.40" cy="458.36" r="3.75" fill="#cf95b4"/>
<circle cx="165.20" cy="458.69" r="3.75" fill="#cf95b4"/>
<circle cx="165.02" cy="459.04" r="3.75" fill="#cf95b3"/>
<circle cx="164.85" cy="459.39" r="3.75" fill="#d095b2"/>
<circle cx="164.70" cy="459.76" r="3.75" fill="#d095b2"/>
<circle cx="164.56" cy="460.13" r="3.75" fill="#d095b1"/>
<circle cx="164.43" cy="460.51" r="3.75" fill="#d095b0"/>
<circle cx="164.32" cy="460.91" r="3.75" fill="#d095af"/>
<circle cx="164.22" cy="461.31" r="3.75" fill="#d195af"/>
<circle cx="164.14" cy="461.72" r="3.75" fill="#d195ae"/>
<circle cx="164.07" cy="462.14" r="3.75" fill="#d195ad"/>
<circle cx="164.01" cy="462.57" r="3.75" fill="#d195ad"/>
<circle cx="163.97" cy="463.01" r="3.75" fill="#d195ac"/>
<circle cx="163.94" cy="463.46" r="3.75" fill="#d195ab"/>
<circle cx="163.93" cy="463.92" r="3.75" fill="#d195aa"/>
<circle cx="163.92" cy="464.39" r="3.75" fill="#d195aa"/>
<circle cx="163.94" cy="464.87" r="3.75" fill="#d195a9"/>
<circle cx="163.96" cy="465.36" r="3.75" fill="#d195a8"/>
<circle cx="164.00" cy="465.86" r="3.75" fill="#d195a7"/>
<circle cx="164.06" cy="466.37" r="3.75" fill="#d195a7"/>
<circle cx="164.12" cy="466.89" r="3.75" fill="#d195a6"/>
<circle cx="164.20" cy="467.42" r="3.75" fill="#d195a5"/>
<circle cx="164.30" cy="467.96" r="3.75" fill="#d196a4"/>
<circle cx="164.41" cy="468.51" r="3.75" fill="#d196a3"/>
<circle cx="164.53" cy="469.07" r="3.75" fill="#d196a3"/>
<circle cx="164.66" cy="469.64" r="3.75" fill="#d196a2"/>
<circle cx="184.33" cy="494.06" r="4.1" fill="#bda188"/>
<circle cx="184.92" cy="494.80" r="4.1" fill="#bca187"/>
<circle cx="185.51" cy="495.50" r="4.1" fill="#bba187"/>
<circle cx="186.10" cy="496.17" r="4.1" fill="#baa286"/>
<circle cx="186.69" cy="496.81" r="4.1" fill="#b9a286"/>
<circle cx="187.27" cy="497.40" r="4.1" fill="#b8a385"/>
<circle cx="187.85" cy="497.96" r="4.1" fill="#b7a385"/>
<circle cx="188.43" cy="498.47" r="4.1" fill="#b7a384"/>
<circle cx="189.00" cy="498.94" r="4.1" fill="#b6a484"/>
<circle cx="189.57" cy="499.37" r="4.1" fill="#b5a484"/>
<circle cx="190.13" cy="499.75" r="4.1" fill="#b4a483"/>
<circle cx="190.68" cy="500.09" r="4.1" fill="#b3a583"/>
<circle cx="191.23" cy="500.38" r="4.1" fill="#b2a583"/>
<circle cx="191.77" cy="500.62" r="4.1" fill="#b1a583"/>
<circle cx="192.30" cy="500.82" r="4.1" fill="#afa682"/>
<circle cx="192.83" cy="500.96" r="4.1" fill="#aea682"/>
<circle cx="193.35" cy="501.06" r="4.1" fill="#ada682"/>
<circle cx="193.86" cy="501.11" r="4.1" fill="#aca782"/>
<circle cx="194.37" cy="501.12" r="4.1" fill="#aba782"/>
<circle cx="194.87" cy="501.07" r="4.1" fill="#aaa782"/>
<circle cx="195.36" cy="500.98" r="4.1" fill="#a9a882"/>
<circle cx="195.87" cy="501.11" r="4.1" fill="#a8a882"/>
<circle cx="196.37" cy="501.19" r="4.1" fill="#a7a882"/>
<circle cx="196.87" cy="501.23" r="4.1" fill="#a6a982"/>
<circle cx="197.37" cy="501.21" r="4.1" fill="#a5a982"/>
<circle cx="197.86" cy="501.16" r="4.1" fill="#a3a982"/>
<circle cx="198.35" cy="501.05" r="4.1" fill="#a2aa83"/>
<circle cx="198.84" cy="500.90" r="4.1" fill="#a1aa83"/>
<circle cx="199.32" cy="500.70" r="4.1" fill="#a0aa83"/>
<circle cx="199.80" cy="500.46" r="4.1" fill="#9fab83"/>
<circle cx="200.28" cy="500.18" r="4.1" fill="#9dab83"/>
<circle cx="200.75" cy="499.85" r="4.1" fill="#9cab84"/>
<circle cx="201.22" cy="499.48" r="4.1" fill="#9bac84"/>
<circle cx="201.69" cy="499.08" r="4.1" fill="#9aac84"/>
<circle cx="202.15" cy="498.63" r="4.1" fill="#98ac85"/>
<circle cx="202.61" cy="498.15" r="4.1" fill="#97ac85"/>
<circle cx="203.07" cy="497.63" r="4.1" fill="#96ad86"/>
<circle cx="203.53" cy="497.08" r="4.1" fill="#95ad86"/>
<circle cx="203.98" cy="496.50" r="4.1" fill="#93ad87"/>
<circle cx="204.43" cy="495.89" r="4.1" fill="#92ae88"/>
<circle cx="204.88" cy="495.25" r="4.1" fill="#91ae88"/>
<circle cx="201.30" cy="537.16" r="3.8" fill="#a5aa6d"/>
<circle cx="230.04" cy="594.92" r="3.75" fill="#5fc05c"/>
<circle cx="233.08" cy="554.73" r="3.75" fill="#4fc165"/>
<circle cx="236.31" cy="532.95" r="3.75" fill="#3cc26e"/>
<circle cx="238.78" cy="513.78" r="3.75" fill="#00c585"/>
<circle cx="239.17" cy="498.71" r="3.75" fill="#00c58d"/>
<circle cx="240.43" cy="489.52" r="3.75" fill="#00c695"/>
<circle cx="241.16" cy="482.65" r="3.75" fill="#00c69d"/>
<circle cx="241.28" cy="477.23" r="3.75" fill="#00c6a5"/>
<circle cx="243.48" cy="469.84" r="3.75" fill="#00c5b3"/>
<circle cx="244.16" cy="466.92" r="3.75" fill="#00c4ba"/>
<circle cx="244.75" cy="464.38" r="3.75" fill="#00c3c0"/>
<circle cx="245.35" cy="462.17" r="3.75" fill="#00c2c6"/>
<circle cx="245.81" cy="460.02" r="3.75" fill="#00c1cd"/>
<circle cx="245.49" cy="458.39" r="3.75" fill="#00c0d2"/>
<circle cx="244.86" cy="456.86" r="3.75" fill="#00bfd7"/>
<circle cx="244.08" cy="455.22" r="3.75" fill="#00bddc"/>
<circle cx="243.30" cy="453.79" r="3.75" fill="#00bce1"/>
<circle cx="249.69" cy="451.38" r="3.75" fill="#00bbea"/>
<circle cx="246.55" cy="450.27" r="3.75" fill="#05b9ee"/>
<circle cx="242.64" cy="449.28" r="3.75" fill="#39b6f2"/>
<circle cx="238.51" cy="448.19" r="3.75" fill="#53b3f5"/>
<circle cx="232.05" cy="447.64" r="3.75" fill="#66b0f7"/>
<circle cx="226.14" cy="446.95" r="3.75" fill="#79adf8"/>
<circle cx="217.29" cy="446.34" r="3.75" fill="#88aaf8"/>
<circle cx="210.78" cy="446.14" r="3.75" fill="#97a7f5"/>
<circle cx="205.95" cy="445.46" r="3.75" fill="#a1a4f5"/>
<circle cx="201.38" cy="444.05" r="3.75" fill="#aba0f9"/>
<circle cx="195.27" cy="443.43" r="3.75" fill="#b59df8"/>
<circle cx="188.83" cy="442.50" r="3.75" fill="#bf99f8"/>
<circle cx="182.09" cy="441.63" r="3.75" fill="#c896f8"/>
<circle cx="176.14" cy="441.79" r="3.75" fill="#d093f3"/>
<circle cx="169.85" cy="441.55" r="3.75" fill="#d790f0"/>
<circle cx="163.96" cy="441.80" r="3.75" fill="#dd8eec"/>
<circle cx="146.12" cy="436.85" r="3.75" fill="#e48aea"/>
<circle cx="138.91" cy="437.04" r="3.75" fill="#e988e5"/>
<circle cx="136.99" cy="438.97" r="3.75" fill="#ee87e0"/>
<circle cx="136.08" cy="441.23" r="3.75" fill="#f185db"/>
<circle cx="136.96" cy="444.10" r="3.75" fill="#f485d5"/>
<circle cx="138.51" cy="447.23" r="3.75" fill="#f586cd"/>
<circle cx="141.28" cy="450.76" r="3.75" fill="#f388c5"/>
<circle cx="144.45" cy="454.56" r="3.75" fill="#f08bbe"/>
<circle cx="148.02" cy="458.27" r="3.75" fill="#ed8eb7"/>
<circle cx="122.63" cy="456.60" r="3.75" fill="#fb86b2"/>
<circle cx="133.34" cy="463.33" r="3.75" fill="#fb87aa"/>
<circle cx="128.21" cy="468.47" r="3.75" fill="#fa89a2"/>
<circle cx="139.40" cy="476.14" r="3.75" fill="#f98a99"/>
<circle cx="149.46" cy="482.29" r="3.75" fill="#f29094"/>
<circle cx="157.90" cy="486.41" r="3.75" fill="#e99590"/>
<circle cx="160.18" cy="491.27" r="3.75" fill="#e8968c"/>
<circle cx="161.98" cy="495.44" r="3.75" fill="#e79788"/>
<circle cx="165.35" cy="502.34" r="3.75" fill="#e59882"/>
<circle cx="170.05" cy="504.78" r="3.75" fill="#df9b81"/>
<circle cx="180.99" cy="520.43" r="3.75" fill="#d3a175"/>
<circle cx="180.95" cy="570.37" r="3.75" fill="#e59b5c"/>
<circle cx="178.63" cy="576.36" r="3.75" fill="#e99865"/>
<circle cx="224.15" cy="553.52" r="3.75" fill="#6cbe53"/>
<circle cx="222.89" cy="572.01" r="3.75" fill="#78bd4a"/>
<circle cx="240.73" cy="473.17" r="3.75" fill="#00c4ad"/>
<path d="M189.29 470.59 L189.29 470.69 L189.30 470.80 L189.31 470.91 L189.32 471.02 L189.34 471.13 L189.35 471.24 L189.37 471.35 L189.39 471.46 L189.41 471.57 L189.43 471.68 L189.46 471.79 L189.49 471.89 L189.51 472.00 L189.54 472.11 L189.57 472.22 L189.61 472.33 L189.64 472.44 L189.68 472.55 L189.72 472.66 L189.76 472.76 L189.80 472.87 L189.84 472.98 L189.89 473.09 L189.93 473.19 L189.98 473.30 L190.03 473.40 L190.08 473.51 L190.13 473.61 L190.19 473.71 L190.24 473.81 L190.30 473.92 L190.36 474.02 L190.42 474.11 L190.48 474.21 L190.54 474.31 L190.60 474.41 L190.67 474.50 L190.73 474.60 L190.80 474.69 L190.87 474.78 L190.94 474.87 L191.01 474.96 L191.08 475.05 L191.15 475.14 L191.23 475.22 L191.30 475.31 L191.38 475.39 L191.45 475.47 L191.53 475.55 L191.61 475.63 L191.69 475.70 L191.77 475.78 L191.85 475.85 L191.93 475.92 L192.02 475.99 L192.10 476.06 L192.18 476.13 L192.27 476.19 L192.36 476.26 L192.44 476.32 L192.53 476.38 L192.62 476.43 L192.71 476.49 L192.80 476.54 L192.89 476.59 L192.98 476.64 L193.07 476.69 L193.16 476.73 L193.25 476.78 L193.34 476.82 L193.43 476.86 L193.53 476.89 L193.62 476.93 L193.71 476.96 L193.80 476.99 L193.90 477.02 L193.99 477.04 L194.09 477.07 L194.18 477.09 L194.28 477.11 L194.37 477.13 L194.47 477.14 L194.56 477.15 L194.66 477.16 L194.75 477.17 L194.84 477.18 L194.94 477.18 L195.03 477.18 L195.13 477.18 L195.22 477.18 L195.32 477.17 L195.41 477.17 L195.51 477.16 L195.60 477.14 L195.70 477.13 L195.79 477.11 L195.88 477.10 L195.98 477.08 L196.07 477.05 L196.16 477.03 L196.25 477.00 L196.34 476.97 L196.44 476.94 L196.53 476.91 L196.62 476.87 L196.71 476.84 L196.80 476.80 L196.89 476.76 L196.97 476.71 L197.06 476.67 L197.15 476.62 L197.24 476.57 L197.32 476.52 L197.41 476.47 L197.49 476.42 L197.58 476.36 L197.66 476.30 L197.74 476.24 L197.83 476.18 L197.91 476.12 L197.99 476.05 L198.07 475.99 L198.15 475.92 L198.23 475.85 L198.30 475.78 L198.38 475.71 L198.46 475.64 L198.53 475.56 L198.60 475.48 L198.68 475.41 L198.75 475.33 L198.82 475.25 L198.89 475.17 L198.96 475.08 L199.03 475.00 L199.09 474.91 L199.16 474.83 L199.22 474.74 L199.29 474.65 L199.35 474.56 L199.41 474.47 L199.47 474.38 L199.53 474.29 L199.59 474.20 L199.65 474.10 L199.70 474.01 L199.76 473.91 L199.81 473.82 L199.86 473.72 L199.91 473.63 L199.96 473.53 L200.01 473.43 L200.05 473.33 L200.10 473.23 L200.14 473.13 L200.19 473.03 L200.23 472.93 L200.27 472.83 L200.30 472.73 L200.34 472.63 L200.38 472.53 L200.41 472.42 L200.44 472.32 L200.47 472.22 L200.50 472.12 L200.53 472.02 L200.56 471.91 L200.58 471.81 L200.61 471.71 L200.63 471.60 L200.65 471.50 L200.67 471.40 L200.68 471.30 L200.70 471.20 L200.71 471.09 L200.73 470.99 L200.74 470.89 L200.75 470.79 L200.75 470.69 L200.76 470.59 L200.76 470.49 L200.77 470.39 L200.77 470.30 L200.77 470.20 L200.76 470.11 L200.76 470.01 L200.75 469.92 L200.75 469.83 L200.74 469.73 L200.73 469.64 L200.71 469.55 L200.70 469.46 L200.68 469.37 L200.67 469.28 L200.65 469.19 L200.63 469.10 L200.60 469.01 L200.58 468.92 L200.55 468.83 L200.53 468.75 L200.50 468.66 L200.47 468.58 L200.43 468.49 L200.40 468.41 L200.36 468.33 L200.33 468.25 L200.29 468.17 L200.25 468.09 L200.20 468.01 L200.16 467.93 L200.11 467.85 L200.07 467.78 L200.02 467.70 L199.97 467.63 L199.92 467.56 L199.86 467.48 L199.81 467.41 L199.75 467.34 L199.69 467.27 L199.63 467.21 L199.57 467.14 L199.51 467.07 L199.45 467.01 L199.38 466.94 L199.31 466.88 L199.25 466.82 L199.18 466.76 L199.10 466.70 L199.03 466.64 L198.96 466.59 L198.88 466.53 L198.81 466.48 L198.73 466.42 L198.65 466.37 L198.57 466.32 L198.49 466.27 L198.41 466.22 L198.32 466.17 L198.24 466.13 L198.15 466.08 L198.07 466.04 L197.98 466.00 L197.89 465.96 L197.80 465.92 L197.71 465.88 L197.62 465.84 L197.52 465.80 L197.43 465.77 L197.34 465.74 L197.24 465.71 L197.14 465.67 L197.05 465.65 L196.95 465.62 L196.85 465.59 L196.75 465.57 L196.65 465.54 L196.55 465.52 L196.45 465.50 L196.35 465.48 L196.25 465.46 L196.15 465.45 L196.04 465.43 L195.94 465.42 L195.84 465.40 L195.73 465.39 L195.63 465.38 L195.52 465.38 L195.42 465.37 L195.31 465.36 L195.21 465.36 L195.10 465.36 L195.00 465.36 L194.89 465.36 L194.79 465.36 L194.68 465.36 L194.58 465.37 L194.47 465.37 L194.37 465.38 L194.26 465.39 L194.16 465.40 L194.05 465.41 L193.95 465.43 L193.85 465.44 L193.74 465.46 L193.64 465.48 L193.54 465.50 L193.43 465.52 L193.33 465.54 L193.23 465.57 L193.13 465.59 L193.03 465.62 L192.93 465.65 L192.83 465.68 L192.74 465.71 L192.64 465.74 L192.54 465.77 L192.45 465.81 L192.35 465.85 L192.26 465.89 L192.17 465.93 L192.08 465.97 L191.99 466.01 L191.90 466.06 L191.81 466.10 L191.72 466.15 L191.63 466.20 L191.55 466.25 L191.46 466.30 L191.38 466.35 L191.30 466.41 L191.22 466.46 L191.14 466.52 L191.06 466.58 L190.99 466.64 L190.91 466.70 L190.84 466.76 L190.77 466.83 L190.70 466.89 L190.63 466.96 L190.56 467.02 L190.49 467.09 L190.43 467.16 L190.37 467.24 L190.31 467.31 L190.25 467.38 L190.19 467.46 L190.13 467.53 L190.08 467.61 L190.02 467.69 L189.97 467.77 L189.92 467.85 L189.88 467.93 L189.83 468.02 L189.79 468.10 L189.74 468.18 L189.70 468.27 L189.66 468.36 L189.63 468.45 L189.59 468.54 L189.56 468.63 L189.53 468.72 L189.50 468.81 L189.47 468.90 L189.44 469.00 L189.42 469.09 L189.40 469.18 L189.38 469.28 L189.36 469.38 L189.34 469.48 L189.33 469.57 L189.32 469.67 L189.31 469.77 L189.30 469.87 L189.29 469.97 L189.28 470.07 L189.28 470.18 L189.28 470.28 L189.28 470.38 L189.28 470.48 Z" fill="none" stroke="#000" stroke-width="1.5" stroke-linejoin="round"/>
<path d="M183.31 470.54 L183.34 470.77 L183.37 470.99 L183.40 471.22 L183.44 471.45 L183.48 471.67 L183.52 471.91 L183.57 472.14 L183.62 472.37 L183.68 472.60 L183.74 472.84 L183.80 473.07 L183.87 473.31 L183.94 473.54 L184.01 473.78 L184.09 474.02 L184.17 474.26 L184.25 474.49 L184.34 474.73 L184.43 474.97 L184.52 475.21 L184.62 475.44 L184.72 475.68 L184.83 475.92 L184.93 476.15 L185.04 476.39 L185.15 476.62 L185.27 476.86 L185.39 477.09 L185.51 477.32 L185.63 477.55 L185.76 477.78 L185.89 478.01 L186.02 478.24 L186.15 478.46 L186.29 478.69 L186.43 478.91 L186.57 479.13 L186.71 479.34 L186.85 479.56 L187.00 479.77 L187.15 479.98 L187.30 480.19 L187.45 480.40 L187.61 480.60 L187.76 480.80 L187.92 480.99 L188.08 481.19 L188.24 481.38 L188.40 481.56 L188.57 481.75 L188.73 481.93 L188.90 482.10 L189.07 482.27 L189.23 482.44 L189.40 482.61 L189.57 482.77 L189.75 482.92 L189.92 483.07 L190.09 483.22 L190.27 483.36 L190.44 483.50 L190.62 483.63 L190.79 483.76 L190.97 483.89 L191.15 484.01 L191.33 484.12 L191.51 484.23 L191.69 484.33 L191.87 484.43 L192.04 484.53 L192.22 484.62 L192.40 484.70 L192.59 484.78 L192.77 484.85 L192.95 484.92 L193.13 484.98 L193.31 485.03 L193.49 485.09 L193.67 485.13 L193.85 485.17 L194.03 485.20 L194.21 485.23 L194.39 485.26 L194.57 485.27 L194.75 485.29 L194.93 485.29 L195.11 485.29 L195.28 485.29 L195.46 485.28 L195.64 485.26 L195.82 485.24 L195.99 485.21 L196.17 485.18 L196.34 485.14 L196.52 485.10 L196.69 485.05 L196.87 485.00 L197.04 484.94 L197.21 484.87 L197.38 484.81 L197.55 484.73 L197.72 484.65 L197.89 484.57 L198.06 484.48 L198.23 484.39 L198.39 484.29 L198.56 484.19 L198.72 484.08 L198.89 483.97 L199.05 483.85 L199.21 483.73 L199.37 483.61 L199.53 483.48 L199.69 483.34 L199.84 483.21 L200.00 483.07 L200.16 482.92 L200.31 482.78 L200.46 482.63 L200.61 482.47 L200.76 482.31 L200.91 482.15 L201.06 481.99 L201.20 481.82 L201.35 481.65 L201.49 481.48 L201.63 481.30 L201.77 481.12 L201.91 480.94 L202.05 480.76 L202.18 480.58 L202.32 480.39 L202.45 480.20 L202.58 480.01 L202.71 479.81 L202.84 479.62 L202.96 479.42 L203.09 479.22 L203.21 479.02 L203.33 478.82 L203.45 478.62 L203.56 478.42 L203.68 478.21 L203.79 478.00 L203.90 477.80 L204.01 477.59 L204.12 477.38 L204.22 477.17 L204.32 476.96 L204.43 476.75 L204.52 476.54 L204.62 476.33 L204.71 476.12 L204.80 475.91 L204.89 475.70 L204.98 475.48 L205.06 475.27 L205.15 475.06 L205.22 474.85 L205.30 474.64 L205.38 474.43 L205.45 474.22 L205.52 474.01 L205.58 473.80 L205.65 473.59 L205.71 473.38 L205.77 473.17 L205.82 472.96 L205.88 472.76 L205.93 472.55 L205.98 472.35 L206.02 472.14 L206.06 471.94 L206.10 471.74 L206.14 471.54 L206.17 471.34 L206.20 471.14 L206.23 470.94 L206.25 470.74 L206.27 470.55 L206.29 470.36 L206.30 470.18 L206.32 470.00 L206.32 469.81 L206.33 469.63 L206.33 469.45 L206.33 469.27 L206.33 469.10 L206.32 468.92 L206.31 468.75 L206.29 468.58 L206.28 468.41 L206.26 468.24 L206.23 468.07 L206.20 467.90 L206.17 467.74 L206.14 467.58 L206.10 467.41 L206.06 467.26 L206.02 467.10 L205.97 466.94 L205.92 466.79 L205.86 466.63 L205.81 466.48 L205.74 466.34 L205.68 466.19 L205.61 466.04 L205.54 465.90 L205.46 465.76 L205.39 465.62 L205.30 465.48 L205.22 465.34 L205.13 465.21 L205.04 465.08 L204.94 464.95 L204.85 464.82 L204.74 464.69 L204.64 464.57 L204.53 464.45 L204.42 464.32 L204.30 464.21 L204.19 464.09 L204.06 463.97 L203.94 463.86 L203.81 463.75 L203.68 463.64 L203.55 463.54 L203.41 463.43 L203.27 463.33 L203.13 463.23 L202.98 463.13 L202.83 463.03 L202.68 462.94 L202.53 462.84 L202.37 462.75 L202.21 462.67 L202.05 462.58 L201.88 462.49 L201.71 462.41 L201.54 462.33 L201.37 462.25 L201.19 462.18 L201.01 462.11 L200.83 462.03 L200.65 461.96 L200.47 461.90 L200.28 461.83 L200.09 461.77 L199.90 461.71 L199.70 461.65 L199.51 461.59 L199.31 461.54 L199.11 461.49 L198.91 461.44 L198.71 461.39 L198.50 461.35 L198.30 461.30 L198.09 461.26 L197.88 461.22 L197.67 461.19 L197.46 461.15 L197.25 461.12 L197.03 461.09 L196.82 461.07 L196.60 461.04 L196.38 461.02 L196.17 461.00 L195.95 460.98 L195.73 460.97 L195.51 460.96 L195.29 460.95 L195.07 460.94 L194.85 460.93 L194.63 460.93 L194.41 460.93 L194.19 460.93 L193.96 460.94 L193.74 460.95 L193.52 460.96 L193.30 460.97 L193.08 460.98 L192.86 461.00 L192.64 461.02 L192.43 461.04 L192.21 461.07 L191.99 461.10 L191.78 461.13 L191.56 461.16 L191.35 461.19 L191.13 461.23 L190.92 461.27 L190.71 461.32 L190.51 461.36 L190.30 461.41 L190.09 461.46 L189.89 461.52 L189.69 461.57 L189.49 461.63 L189.29 461.70 L189.09 461.76 L188.90 461.83 L188.71 461.90 L188.52 461.97 L188.33 462.05 L188.15 462.13 L187.96 462.21 L187.78 462.29 L187.61 462.38 L187.43 462.47 L187.26 462.56 L187.09 462.66 L186.92 462.76 L186.76 462.86 L186.60 462.96 L186.45 463.07 L186.29 463.18 L186.14 463.29 L185.99 463.41 L185.85 463.52 L185.71 463.64 L185.57 463.77 L185.44 463.89 L185.31 464.02 L185.19 464.15 L185.06 464.29 L184.94 464.43 L184.83 464.56 L184.72 464.71 L184.61 464.85 L184.51 465.00 L184.41 465.15 L184.31 465.30 L184.22 465.46 L184.13 465.62 L184.05 465.78 L183.97 465.94 L183.90 466.11 L183.82 466.28 L183.76 466.45 L183.69 466.62 L183.64 466.80 L183.58 466.97 L183.53 467.16 L183.48 467.34 L183.44 467.52 L183.40 467.71 L183.37 467.90 L183.34 468.09 L183.32 468.29 L183.29 468.48 L183.28 468.68 L183.27 468.88 L183.26 469.08 L183.25 469.29 L183.25 469.49 L183.26 469.70 L183.27 469.91 L183.28 470.12 L183.29 470.33 Z" fill="none" stroke="#000" stroke-width="1.5" stroke-linejoin="round"/>
<path d="M177.17 470.47 L177.22 470.81 L177.29 471.16 L177.36 471.52 L177.43 471.88 L177.51 472.24 L177.60 472.61 L177.69 472.97 L177.79 473.34 L177.90 473.72 L178.01 474.09 L178.13 474.47 L178.25 474.85 L178.38 475.24 L178.51 475.62 L178.65 476.01 L178.80 476.40 L178.95 476.79 L179.10 477.18 L179.27 477.57 L179.43 477.97 L179.60 478.36 L179.78 478.76 L179.96 479.16 L180.14 479.55 L180.33 479.95 L180.52 480.35 L180.72 480.75 L180.92 481.14 L181.12 481.54 L181.33 481.93 L181.54 482.33 L181.76 482.72 L181.97 483.11 L182.20 483.50 L182.42 483.89 L182.65 484.27 L182.88 484.65 L183.11 485.03 L183.35 485.41 L183.59 485.78 L183.83 486.15 L184.07 486.52 L184.32 486.88 L184.57 487.24 L184.81 487.59 L185.07 487.94 L185.32 488.29 L185.57 488.63 L185.83 488.96 L186.08 489.29 L186.34 489.61 L186.60 489.92 L186.86 490.23 L187.12 490.53 L187.38 490.83 L187.65 491.12 L187.91 491.40 L188.17 491.67 L188.44 491.94 L188.70 492.19 L188.97 492.44 L189.23 492.68 L189.49 492.91 L189.76 493.14 L190.02 493.35 L190.29 493.55 L190.55 493.75 L190.82 493.94 L191.08 494.11 L191.34 494.28 L191.60 494.43 L191.87 494.58 L192.13 494.72 L192.39 494.84 L192.65 494.96 L192.91 495.06 L193.17 495.15 L193.42 495.24 L193.68 495.31 L193.93 495.37 L194.19 495.42 L194.44 495.46 L194.70 495.49 L194.95 495.51 L195.20 495.52 L195.45 495.52 L195.70 495.51 L195.94 495.48 L196.19 495.45 L196.44 495.41 L196.68 495.35 L196.92 495.29 L197.17 495.21 L197.41 495.12 L197.65 495.03 L197.88 494.92 L198.12 494.81 L198.36 494.68 L198.59 494.55 L198.83 494.41 L199.06 494.26 L199.29 494.09 L199.52 493.92 L199.75 493.75 L199.98 493.56 L200.20 493.36 L200.43 493.16 L200.65 492.95 L200.87 492.73 L201.09 492.51 L201.31 492.27 L201.53 492.03 L201.75 491.79 L201.97 491.53 L202.18 491.27 L202.39 491.01 L202.61 490.74 L202.82 490.46 L203.03 490.18 L203.23 489.89 L203.44 489.60 L203.64 489.31 L203.85 489.01 L204.05 488.70 L204.25 488.39 L204.45 488.08 L204.65 487.76 L204.84 487.45 L205.04 487.12 L205.23 486.80 L205.42 486.47 L205.61 486.14 L205.79 485.81 L205.98 485.47 L206.16 485.14 L206.34 484.80 L206.52 484.46 L206.70 484.12 L206.88 483.78 L207.05 483.44 L207.22 483.09 L207.39 482.75 L207.56 482.41 L207.72 482.06 L207.88 481.72 L208.04 481.37 L208.20 481.03 L208.36 480.69 L208.51 480.34 L208.66 480.00 L208.81 479.66 L208.95 479.32 L209.09 478.98 L209.23 478.64 L209.37 478.30 L209.50 477.96 L209.63 477.63 L209.75 477.30 L209.88 476.96 L210.00 476.63 L210.12 476.30 L210.23 475.98 L210.34 475.65 L210.45 475.33 L210.55 475.01 L210.65 474.69 L210.75 474.38 L210.84 474.06 L210.93 473.75 L211.01 473.44 L211.10 473.13 L211.17 472.83 L211.25 472.53 L211.32 472.23 L211.38 471.93 L211.44 471.64 L211.50 471.35 L211.55 471.06 L211.60 470.77 L211.65 470.49 L211.69 470.22 L211.72 469.95 L211.75 469.69 L211.78 469.43 L211.80 469.17 L211.82 468.91 L211.83 468.66 L211.84 468.41 L211.84 468.16 L211.84 467.92 L211.84 467.67 L211.82 467.44 L211.81 467.20 L211.79 466.97 L211.76 466.73 L211.73 466.51 L211.69 466.28 L211.65 466.06 L211.60 465.84 L211.55 465.62 L211.50 465.41 L211.43 465.20 L211.37 464.99 L211.29 464.78 L211.22 464.58 L211.13 464.38 L211.05 464.18 L210.95 463.99 L210.85 463.80 L210.75 463.61 L210.64 463.42 L210.53 463.24 L210.41 463.06 L210.28 462.88 L210.15 462.70 L210.01 462.53 L209.87 462.36 L209.73 462.19 L209.58 462.03 L209.42 461.87 L209.26 461.71 L209.09 461.55 L208.92 461.40 L208.74 461.25 L208.56 461.10 L208.37 460.96 L208.18 460.81 L207.98 460.67 L207.77 460.54 L207.57 460.40 L207.35 460.27 L207.14 460.14 L206.91 460.01 L206.69 459.89 L206.45 459.77 L206.22 459.65 L205.98 459.53 L205.73 459.42 L205.48 459.31 L205.23 459.20 L204.97 459.09 L204.70 458.99 L204.44 458.89 L204.16 458.79 L203.89 458.69 L203.61 458.60 L203.33 458.51 L203.04 458.43 L202.75 458.34 L202.45 458.26 L202.16 458.18 L201.85 458.10 L201.55 458.03 L201.24 457.96 L200.93 457.89 L200.62 457.83 L200.30 457.76 L199.98 457.70 L199.66 457.65 L199.33 457.59 L199.01 457.54 L198.68 457.49 L198.35 457.45 L198.01 457.41 L197.68 457.37 L197.34 457.33 L197.00 457.30 L196.66 457.27 L196.32 457.24 L195.98 457.21 L195.63 457.19 L195.29 457.17 L194.94 457.16 L194.60 457.15 L194.25 457.14 L193.90 457.13 L193.56 457.13 L193.21 457.13 L192.86 457.13 L192.51 457.14 L192.17 457.15 L191.82 457.16 L191.48 457.18 L191.13 457.20 L190.79 457.22 L190.44 457.25 L190.10 457.28 L189.76 457.31 L189.43 457.35 L189.09 457.39 L188.75 457.44 L188.42 457.49 L188.09 457.54 L187.76 457.59 L187.44 457.65 L187.12 457.71 L186.80 457.78 L186.48 457.85 L186.17 457.93 L185.85 458.00 L185.55 458.09 L185.24 458.17 L184.94 458.26 L184.65 458.36 L184.35 458.45 L184.07 458.56 L183.78 458.66 L183.50 458.77 L183.23 458.89 L182.96 459.01 L182.69 459.13 L182.43 459.25 L182.17 459.39 L181.92 459.52 L181.68 459.66 L181.44 459.80 L181.20 459.95 L180.97 460.10 L180.75 460.26 L180.53 460.42 L180.32 460.59 L180.11 460.76 L179.91 460.93 L179.71 461.11 L179.53 461.29 L179.34 461.48 L179.17 461.67 L179.00 461.87 L178.84 462.07 L178.68 462.28 L178.53 462.49 L178.39 462.70 L178.25 462.92 L178.12 463.14 L178.00 463.37 L177.88 463.60 L177.77 463.84 L177.67 464.08 L177.57 464.33 L177.48 464.58 L177.40 464.83 L177.33 465.09 L177.26 465.36 L177.20 465.62 L177.14 465.90 L177.10 466.17 L177.06 466.45 L177.02 466.74 L177.00 467.03 L176.98 467.32 L176.97 467.62 L176.96 467.92 L176.97 468.23 L176.97 468.53 L176.99 468.85 L177.01 469.16 L177.04 469.49 L177.08 469.81 L177.12 470.14 Z" fill="none" stroke="#000" stroke-width="1.5" stroke-linejoin="round"/>
<path d="M170.84 470.36 L170.94 470.83 L171.06 471.32 L171.18 471.82 L171.31 472.32 L171.44 472.83 L171.59 473.34 L171.75 473.86 L171.91 474.39 L172.09 474.92 L172.27 475.46 L172.46 476.00 L172.66 476.55 L172.86 477.10 L173.08 477.66 L173.30 478.22 L173.53 478.79 L173.76 479.37 L174.01 479.94 L174.26 480.52 L174.51 481.11 L174.78 481.70 L175.05 482.29 L175.32 482.88 L175.61 483.48 L175.89 484.08 L176.19 484.68 L176.48 485.28 L176.79 485.88 L177.10 486.49 L177.41 487.10 L177.73 487.70 L178.05 488.31 L178.38 488.91 L178.71 489.52 L179.04 490.12 L179.38 490.73 L179.72 491.33 L180.06 491.92 L180.40 492.52 L180.75 493.11 L181.10 493.70 L181.46 494.28 L181.81 494.86 L182.17 495.43 L182.52 496.00 L182.88 496.56 L183.24 497.12 L183.60 497.67 L183.97 498.21 L184.33 498.74 L184.69 499.26 L185.05 499.78 L185.42 500.28 L185.78 500.78 L186.14 501.26 L186.50 501.73 L186.86 502.19 L187.22 502.64 L187.58 503.08 L187.94 503.50 L188.30 503.91 L188.65 504.31 L189.01 504.69 L189.36 505.06 L189.71 505.41 L190.06 505.74 L190.41 506.06 L190.75 506.37 L191.09 506.66 L191.44 506.93 L191.77 507.18 L192.11 507.41 L192.44 507.63 L192.78 507.83 L193.11 508.01 L193.43 508.18 L193.76 508.32 L194.08 508.45 L194.40 508.56 L194.72 508.64 L195.03 508.71 L195.34 508.76 L195.65 508.80 L195.96 508.81 L196.27 508.80 L196.57 508.78 L196.87 508.74 L197.17 508.67 L197.46 508.59 L197.76 508.50 L198.05 508.38 L198.34 508.25 L198.63 508.09 L198.91 507.93 L199.20 507.74 L199.48 507.54 L199.76 507.32 L200.04 507.08 L200.31 506.83 L200.59 506.57 L200.86 506.29 L201.13 505.99 L201.40 505.68 L201.67 505.36 L201.94 505.03 L202.20 504.68 L202.47 504.32 L202.73 503.95 L202.99 503.56 L203.25 503.17 L203.51 502.76 L203.77 502.35 L204.03 501.92 L204.28 501.49 L204.54 501.05 L204.79 500.59 L205.04 500.14 L205.29 499.67 L205.54 499.20 L205.79 498.72 L206.04 498.24 L206.29 497.75 L206.54 497.25 L206.78 496.76 L207.02 496.25 L207.27 495.75 L207.51 495.24 L207.75 494.73 L207.99 494.21 L208.23 493.69 L208.46 493.18 L208.70 492.66 L208.93 492.13 L209.16 491.61 L209.39 491.09 L209.62 490.57 L209.85 490.05 L210.08 489.52 L210.30 489.00 L210.52 488.48 L210.74 487.97 L210.96 487.45 L211.18 486.93 L211.39 486.42 L211.60 485.91 L211.81 485.40 L212.02 484.89 L212.22 484.39 L212.42 483.89 L212.62 483.39 L212.82 482.90 L213.01 482.41 L213.20 481.92 L213.39 481.44 L213.58 480.96 L213.76 480.48 L213.94 480.01 L214.11 479.54 L214.28 479.08 L214.45 478.62 L214.61 478.17 L214.77 477.72 L214.93 477.27 L215.08 476.83 L215.23 476.39 L215.37 475.96 L215.51 475.53 L215.65 475.11 L215.78 474.69 L215.90 474.28 L216.02 473.87 L216.14 473.47 L216.25 473.07 L216.36 472.67 L216.46 472.28 L216.56 471.90 L216.65 471.52 L216.74 471.14 L216.82 470.77 L216.89 470.41 L216.96 470.07 L217.02 469.72 L217.08 469.38 L217.14 469.05 L217.18 468.72 L217.22 468.40 L217.26 468.08 L217.29 467.76 L217.31 467.45 L217.32 467.14 L217.33 466.84 L217.34 466.54 L217.33 466.25 L217.32 465.96 L217.31 465.67 L217.28 465.39 L217.25 465.11 L217.22 464.84 L217.17 464.57 L217.12 464.30 L217.06 464.04 L217.00 463.78 L216.93 463.53 L216.85 463.28 L216.76 463.03 L216.67 462.79 L216.57 462.55 L216.46 462.31 L216.35 462.08 L216.23 461.86 L216.10 461.63 L215.96 461.41 L215.82 461.19 L215.67 460.98 L215.51 460.77 L215.34 460.56 L215.17 460.36 L214.99 460.16 L214.80 459.96 L214.60 459.77 L214.40 459.58 L214.19 459.39 L213.97 459.21 L213.75 459.03 L213.51 458.85 L213.27 458.68 L213.03 458.51 L212.77 458.34 L212.51 458.17 L212.24 458.01 L211.97 457.85 L211.68 457.70 L211.39 457.55 L211.10 457.40 L210.79 457.25 L210.48 457.11 L210.16 456.97 L209.84 456.83 L209.51 456.69 L209.17 456.56 L208.83 456.43 L208.48 456.31 L208.12 456.18 L207.76 456.06 L207.39 455.95 L207.02 455.83 L206.64 455.72 L206.25 455.61 L205.86 455.51 L205.46 455.41 L205.06 455.31 L204.65 455.21 L204.24 455.12 L203.82 455.03 L203.40 454.94 L202.97 454.85 L202.54 454.77 L202.10 454.69 L201.66 454.62 L201.22 454.55 L200.77 454.48 L200.32 454.41 L199.86 454.35 L199.40 454.29 L198.94 454.23 L198.48 454.18 L198.01 454.13 L197.54 454.08 L197.07 454.04 L196.59 454.00 L196.12 453.96 L195.64 453.93 L195.16 453.90 L194.68 453.88 L194.19 453.85 L193.71 453.83 L193.23 453.82 L192.74 453.81 L192.26 453.80 L191.77 453.80 L191.29 453.80 L190.81 453.80 L190.32 453.81 L189.84 453.82 L189.36 453.83 L188.88 453.85 L188.40 453.88 L187.92 453.90 L187.45 453.94 L186.98 453.97 L186.51 454.01 L186.04 454.06 L185.58 454.11 L185.12 454.16 L184.66 454.22 L184.21 454.28 L183.76 454.35 L183.31 454.42 L182.87 454.50 L182.43 454.58 L182.00 454.67 L181.57 454.76 L181.15 454.86 L180.74 454.96 L180.33 455.07 L179.92 455.18 L179.52 455.30 L179.13 455.42 L178.75 455.55 L178.37 455.68 L178.00 455.82 L177.63 455.96 L177.27 456.11 L176.92 456.27 L176.58 456.43 L176.25 456.60 L175.92 456.77 L175.60 456.95 L175.29 457.14 L174.99 457.33 L174.69 457.53 L174.41 457.73 L174.13 457.94 L173.87 458.16 L173.61 458.38 L173.36 458.61 L173.12 458.84 L172.89 459.08 L172.67 459.33 L172.46 459.58 L172.26 459.84 L172.07 460.11 L171.89 460.39 L171.71 460.67 L171.55 460.95 L171.40 461.25 L171.26 461.55 L171.13 461.86 L171.01 462.17 L170.90 462.49 L170.80 462.82 L170.71 463.16 L170.63 463.50 L170.56 463.85 L170.50 464.20 L170.45 464.57 L170.42 464.94 L170.39 465.31 L170.37 465.70 L170.36 466.09 L170.37 466.48 L170.38 466.89 L170.40 467.30 L170.44 467.72 L170.48 468.14 L170.53 468.57 L170.59 469.01 L170.67 469.45 L170.75 469.90 Z" fill="none" stroke="#000" stroke-width="1.5" stroke-linejoin="round"/>
<path d="M164.32 470.21 L164.49 470.82 L164.66 471.46 L164.85 472.11 L165.06 472.77 L165.27 473.44 L165.50 474.12 L165.74 474.81 L165.99 475.51 L166.25 476.22 L166.52 476.94 L166.80 477.67 L167.10 478.41 L167.41 479.17 L167.72 479.93 L168.05 480.70 L168.38 481.48 L168.73 482.27 L169.09 483.07 L169.45 483.87 L169.82 484.69 L170.21 485.51 L170.60 486.35 L170.99 487.18 L171.40 488.03 L171.81 488.88 L172.23 489.74 L172.66 490.61 L173.09 491.48 L173.53 492.36 L173.98 493.24 L174.43 494.12 L174.88 495.01 L175.34 495.90 L175.81 496.79 L176.27 497.69 L176.75 498.59 L177.22 499.48 L177.70 500.38 L178.18 501.28 L178.67 502.17 L179.15 503.06 L179.64 503.95 L180.13 504.84 L180.62 505.72 L181.11 506.59 L181.60 507.46 L182.09 508.32 L182.58 509.17 L183.06 510.01 L183.55 510.84 L184.04 511.67 L184.52 512.48 L185.01 513.27 L185.49 514.05 L185.96 514.82 L186.44 515.57 L186.91 516.31 L187.38 517.02 L187.84 517.72 L188.31 518.40 L188.76 519.06 L189.22 519.69 L189.66 520.31 L190.11 520.90 L190.55 521.46 L190.98 522.00 L191.41 522.51 L191.83 523.00 L192.25 523.46 L192.67 523.89 L193.08 524.30 L193.48 524.67 L193.88 525.01 L194.27 525.33 L194.65 525.61 L195.04 525.86 L195.41 526.08 L195.78 526.27 L196.15 526.42 L196.51 526.54 L196.86 526.64 L197.21 526.69 L197.56 526.72 L197.90 526.71 L198.23 526.67 L198.56 526.60 L198.89 526.50 L199.21 526.36 L199.53 526.20 L199.84 526.00 L200.16 525.78 L200.46 525.52 L200.77 525.23 L201.07 524.92 L201.37 524.58 L201.66 524.21 L201.95 523.81 L202.24 523.39 L202.53 522.95 L202.82 522.48 L203.10 521.98 L203.38 521.47 L203.66 520.93 L203.94 520.38 L204.22 519.80 L204.50 519.20 L204.77 518.59 L205.05 517.96 L205.32 517.31 L205.60 516.65 L205.87 515.98 L206.14 515.29 L206.42 514.59 L206.69 513.88 L206.96 513.16 L207.23 512.43 L207.51 511.69 L207.78 510.95 L208.05 510.19 L208.32 509.44 L208.60 508.67 L208.87 507.90 L209.14 507.13 L209.42 506.36 L209.69 505.58 L209.96 504.80 L210.24 504.02 L210.51 503.24 L210.78 502.46 L211.05 501.68 L211.33 500.91 L211.60 500.13 L211.87 499.36 L212.14 498.59 L212.41 497.82 L212.68 497.06 L212.95 496.30 L213.22 495.55 L213.49 494.80 L213.75 494.05 L214.02 493.31 L214.28 492.58 L214.55 491.85 L214.81 491.13 L215.07 490.42 L215.32 489.71 L215.58 489.01 L215.83 488.32 L216.09 487.64 L216.33 486.96 L216.58 486.29 L216.83 485.63 L217.07 484.97 L217.30 484.32 L217.54 483.68 L217.77 483.05 L218.00 482.43 L218.23 481.81 L218.45 481.21 L218.67 480.61 L218.88 480.02 L219.09 479.44 L219.29 478.86 L219.50 478.30 L219.69 477.74 L219.88 477.19 L220.07 476.64 L220.25 476.11 L220.43 475.58 L220.60 475.07 L220.77 474.56 L220.93 474.05 L221.09 473.56 L221.24 473.07 L221.38 472.59 L221.52 472.12 L221.65 471.65 L221.78 471.20 L221.90 470.75 L222.01 470.32 L222.12 469.90 L222.21 469.48 L222.31 469.08 L222.39 468.68 L222.47 468.29 L222.54 467.90 L222.61 467.52 L222.66 467.15 L222.71 466.78 L222.75 466.42 L222.78 466.06 L222.81 465.71 L222.83 465.37 L222.83 465.03 L222.83 464.70 L222.83 464.37 L222.81 464.05 L222.79 463.73 L222.75 463.42 L222.71 463.12 L222.66 462.82 L222.60 462.52 L222.53 462.23 L222.46 461.94 L222.37 461.66 L222.27 461.39 L222.17 461.11 L222.06 460.85 L221.93 460.58 L221.80 460.33 L221.66 460.07 L221.51 459.82 L221.34 459.58 L221.17 459.34 L220.99 459.10 L220.80 458.87 L220.61 458.64 L220.40 458.41 L220.18 458.19 L219.95 457.97 L219.71 457.76 L219.46 457.55 L219.21 457.34 L218.94 457.14 L218.66 456.94 L218.37 456.74 L218.08 456.55 L217.77 456.36 L217.46 456.17 L217.13 455.99 L216.80 455.81 L216.45 455.63 L216.10 455.46 L215.74 455.29 L215.36 455.13 L214.98 454.96 L214.59 454.80 L214.19 454.64 L213.78 454.49 L213.36 454.34 L212.94 454.19 L212.50 454.05 L212.05 453.90 L211.60 453.76 L211.14 453.63 L210.67 453.50 L210.19 453.37 L209.71 453.24 L209.21 453.11 L208.71 452.99 L208.20 452.87 L207.69 452.76 L207.16 452.65 L206.63 452.54 L206.09 452.43 L205.55 452.33 L205.00 452.23 L204.44 452.13 L203.88 452.04 L203.31 451.95 L202.73 451.86 L202.15 451.78 L201.57 451.69 L200.98 451.62 L200.38 451.54 L199.78 451.47 L199.18 451.40 L198.57 451.34 L197.96 451.28 L197.34 451.22 L196.73 451.17 L196.10 451.12 L195.48 451.07 L194.85 451.03 L194.23 450.99 L193.60 450.95 L192.97 450.92 L192.33 450.89 L191.70 450.87 L191.07 450.85 L190.44 450.84 L189.80 450.82 L189.17 450.82 L188.54 450.82 L187.91 450.82 L187.28 450.82 L186.65 450.84 L186.02 450.85 L185.40 450.87 L184.78 450.90 L184.16 450.93 L183.55 450.96 L182.94 451.00 L182.34 451.05 L181.73 451.10 L181.14 451.15 L180.55 451.21 L179.96 451.28 L179.38 451.35 L178.81 451.43 L178.24 451.51 L177.68 451.60 L177.12 451.70 L176.57 451.80 L176.04 451.91 L175.50 452.02 L174.98 452.14 L174.47 452.27 L173.96 452.40 L173.46 452.55 L172.98 452.69 L172.50 452.85 L172.03 453.01 L171.57 453.17 L171.13 453.35 L170.69 453.53 L170.26 453.72 L169.85 453.92 L169.44 454.12 L169.05 454.34 L168.67 454.56 L168.30 454.78 L167.95 455.02 L167.61 455.27 L167.27 455.52 L166.96 455.78 L166.65 456.05 L166.36 456.33 L166.08 456.61 L165.81 456.91 L165.56 457.21 L165.32 457.52 L165.10 457.84 L164.89 458.18 L164.69 458.52 L164.50 458.86 L164.33 459.22 L164.18 459.59 L164.04 459.97 L163.91 460.36 L163.80 460.75 L163.70 461.16 L163.61 461.57 L163.54 462.00 L163.49 462.44 L163.44 462.88 L163.42 463.34 L163.40 463.81 L163.40 464.28 L163.42 464.77 L163.45 465.27 L163.49 465.78 L163.55 466.29 L163.62 466.82 L163.70 467.36 L163.80 467.91 L163.91 468.47 L164.03 469.04 L164.17 469.62 Z" fill="none" stroke="#000" stroke-width="1.5" stroke-linejoin="round"/>
<path d="M157.60 470.02 L157.84 470.78 L158.11 471.58 L158.38 472.39 L158.68 473.22 L158.99 474.07 L159.32 474.93 L159.66 475.81 L160.02 476.71 L160.39 477.62 L160.78 478.56 L161.18 479.51 L161.60 480.47 L162.03 481.45 L162.48 482.45 L162.93 483.47 L163.41 484.50 L163.89 485.55 L164.39 486.62 L164.90 487.70 L165.42 488.80 L165.95 489.92 L166.49 491.05 L167.04 492.19 L167.60 493.36 L168.18 494.53 L168.76 495.72 L169.35 496.93 L169.95 498.15 L170.55 499.38 L171.17 500.62 L171.79 501.88 L172.41 503.14 L173.04 504.42 L173.68 505.71 L174.32 507.00 L174.97 508.31 L175.62 509.62 L176.27 510.93 L176.93 512.26 L177.59 513.58 L178.25 514.91 L178.91 516.24 L179.57 517.57 L180.23 518.91 L180.89 520.23 L181.55 521.56 L182.21 522.88 L182.86 524.19 L183.51 525.49 L184.16 526.79 L184.80 528.07 L185.44 529.34 L186.08 530.59 L186.71 531.83 L187.33 533.05 L187.95 534.25 L188.56 535.42 L189.16 536.57 L189.75 537.69 L190.34 538.78 L190.91 539.85 L191.48 540.88 L192.04 541.87 L192.58 542.83 L193.12 543.75 L193.65 544.63 L194.17 545.47 L194.67 546.27 L195.17 547.02 L195.65 547.72 L196.12 548.38 L196.58 548.98 L197.04 549.54 L197.47 550.04 L197.90 550.49 L198.32 550.89 L198.73 551.23 L199.12 551.51 L199.51 551.74 L199.88 551.92 L200.25 552.03 L200.60 552.09 L200.95 552.10 L201.28 552.04 L201.61 551.94 L201.93 551.77 L202.24 551.55 L202.55 551.28 L202.84 550.95 L203.13 550.57 L203.42 550.14 L203.70 549.66 L203.97 549.13 L204.24 548.55 L204.50 547.93 L204.76 547.26 L205.02 546.55 L205.28 545.80 L205.53 545.01 L205.78 544.19 L206.03 543.33 L206.28 542.43 L206.52 541.51 L206.77 540.55 L207.01 539.57 L207.26 538.56 L207.51 537.53 L207.75 536.47 L208.00 535.40 L208.25 534.30 L208.50 533.20 L208.76 532.07 L209.01 530.94 L209.27 529.79 L209.53 528.63 L209.79 527.47 L210.06 526.30 L210.32 525.12 L210.59 523.94 L210.86 522.76 L211.14 521.58 L211.41 520.40 L211.69 519.22 L211.98 518.04 L212.26 516.87 L212.55 515.70 L212.84 514.54 L213.13 513.38 L213.42 512.23 L213.72 511.09 L214.01 509.96 L214.31 508.84 L214.61 507.72 L214.92 506.62 L215.22 505.53 L215.52 504.45 L215.83 503.39 L216.14 502.33 L216.44 501.29 L216.75 500.26 L217.06 499.24 L217.36 498.24 L217.67 497.25 L217.98 496.28 L218.28 495.32 L218.59 494.37 L218.89 493.44 L219.20 492.52 L219.50 491.62 L219.80 490.73 L220.10 489.85 L220.39 488.99 L220.69 488.14 L220.98 487.31 L221.27 486.49 L221.55 485.68 L221.83 484.89 L222.11 484.11 L222.39 483.35 L222.66 482.60 L222.93 481.86 L223.19 481.14 L223.45 480.43 L223.71 479.73 L223.96 479.05 L224.20 478.37 L224.44 477.72 L224.68 477.07 L224.91 476.43 L225.13 475.81 L225.35 475.20 L225.56 474.60 L225.76 474.01 L225.96 473.43 L226.15 472.86 L226.34 472.31 L226.52 471.76 L226.69 471.23 L226.85 470.70 L227.01 470.20 L227.16 469.72 L227.30 469.24 L227.43 468.77 L227.55 468.31 L227.67 467.86 L227.78 467.42 L227.88 466.99 L227.97 466.56 L228.05 466.15 L228.12 465.74 L228.18 465.34 L228.24 464.95 L228.28 464.56 L228.32 464.18 L228.34 463.81 L228.35 463.44 L228.36 463.09 L228.35 462.74 L228.34 462.39 L228.31 462.05 L228.27 461.72 L228.23 461.39 L228.17 461.07 L228.10 460.76 L228.02 460.45 L227.93 460.15 L227.83 459.85 L227.71 459.56 L227.59 459.27 L227.45 458.99 L227.30 458.71 L227.14 458.44 L226.97 458.18 L226.79 457.91 L226.59 457.66 L226.39 457.40 L226.17 457.15 L225.94 456.91 L225.69 456.67 L225.44 456.43 L225.17 456.20 L224.89 455.97 L224.60 455.75 L224.29 455.53 L223.98 455.31 L223.65 455.10 L223.31 454.89 L222.96 454.68 L222.59 454.48 L222.21 454.28 L221.83 454.08 L221.42 453.89 L221.01 453.70 L220.58 453.51 L220.15 453.33 L219.70 453.15 L219.23 452.98 L218.76 452.80 L218.28 452.63 L217.78 452.46 L217.27 452.30 L216.75 452.14 L216.22 451.98 L215.68 451.82 L215.12 451.67 L214.56 451.52 L213.98 451.37 L213.39 451.23 L212.80 451.09 L212.19 450.95 L211.57 450.81 L210.95 450.68 L210.31 450.55 L209.66 450.42 L209.01 450.30 L208.34 450.18 L207.67 450.06 L206.98 449.94 L206.29 449.83 L205.59 449.72 L204.89 449.61 L204.17 449.51 L203.45 449.41 L202.72 449.31 L201.99 449.22 L201.25 449.13 L200.50 449.04 L199.74 448.96 L198.99 448.88 L198.22 448.80 L197.45 448.73 L196.68 448.66 L195.90 448.59 L195.12 448.53 L194.34 448.47 L193.55 448.41 L192.76 448.36 L191.97 448.32 L191.18 448.27 L190.39 448.24 L189.59 448.20 L188.80 448.17 L188.01 448.15 L187.21 448.13 L186.42 448.11 L185.63 448.10 L184.84 448.09 L184.05 448.09 L183.27 448.09 L182.49 448.10 L181.71 448.12 L180.93 448.14 L180.17 448.16 L179.40 448.19 L178.64 448.23 L177.89 448.27 L177.14 448.32 L176.40 448.37 L175.67 448.44 L174.95 448.50 L174.23 448.58 L173.52 448.66 L172.82 448.75 L172.13 448.84 L171.45 448.94 L170.78 449.05 L170.12 449.17 L169.48 449.29 L168.84 449.42 L168.21 449.56 L167.60 449.71 L167.00 449.86 L166.41 450.03 L165.84 450.20 L165.28 450.38 L164.73 450.57 L164.20 450.77 L163.68 450.98 L163.18 451.19 L162.69 451.42 L162.22 451.65 L161.76 451.90 L161.32 452.16 L160.90 452.42 L160.49 452.70 L160.10 452.98 L159.73 453.28 L159.37 453.58 L159.03 453.90 L158.71 454.23 L158.40 454.57 L158.12 454.92 L157.85 455.28 L157.60 455.66 L157.37 456.04 L157.15 456.44 L156.96 456.85 L156.78 457.28 L156.62 457.71 L156.48 458.16 L156.36 458.62 L156.26 459.09 L156.18 459.58 L156.11 460.08 L156.07 460.59 L156.04 461.12 L156.03 461.66 L156.04 462.22 L156.07 462.79 L156.12 463.37 L156.19 463.97 L156.27 464.58 L156.38 465.21 L156.50 465.85 L156.64 466.51 L156.79 467.18 L156.97 467.87 L157.16 468.57 L157.37 469.29 Z" fill="none" stroke="#000" stroke-width="1.5" stroke-linejoin="round"/>
<path d="M150.66 469.79 L151.00 470.70 L151.37 471.67 L151.76 472.66 L152.17 473.68 L152.60 474.73 L153.05 475.79 L153.52 476.89 L154.02 478.01 L154.53 479.15 L155.06 480.32 L155.61 481.52 L156.18 482.75 L156.77 484.00 L157.37 485.28 L158.00 486.59 L158.64 487.92 L159.30 489.29 L159.97 490.68 L160.66 492.10 L161.37 493.55 L162.09 495.03 L162.82 496.54 L163.57 498.07 L164.34 499.64 L165.11 501.23 L165.90 502.85 L166.70 504.50 L167.52 506.18 L168.34 507.88 L169.17 509.61 L170.01 511.37 L170.87 513.16 L171.73 514.97 L172.59 516.81 L173.47 518.67 L174.35 520.55 L175.23 522.46 L176.12 524.39 L177.02 526.34 L177.91 528.30 L178.81 530.29 L179.71 532.28 L180.61 534.30 L181.51 536.32 L182.41 538.36 L183.31 540.40 L184.20 542.44 L185.09 544.49 L185.97 546.54 L186.84 548.59 L187.71 550.63 L188.57 552.67 L189.43 554.69 L190.27 556.69 L191.10 558.68 L191.92 560.64 L192.72 562.57 L193.51 564.48 L194.29 566.35 L195.05 568.18 L195.79 569.97 L196.51 571.71 L197.22 573.40 L197.91 575.04 L198.58 576.61 L199.22 578.12 L199.85 579.57 L200.46 580.94 L201.04 582.23 L201.60 583.45 L202.14 584.58 L202.66 585.62 L203.14 586.36 L203.60 586.97 L204.03 587.52 L204.44 588.00 L204.83 588.41 L205.20 588.74 L205.55 589.01 L205.89 589.19 L206.20 589.31 L206.50 589.34 L206.79 589.31 L207.06 589.19 L207.32 589.01 L207.56 588.75 L207.79 588.42 L208.02 588.02 L208.23 587.55 L208.44 587.01 L208.65 586.41 L208.84 585.73 L209.00 584.72 L209.15 583.63 L209.30 582.46 L209.44 581.21 L209.57 579.90 L209.71 578.53 L209.84 577.09 L209.97 575.59 L210.11 574.05 L210.24 572.45 L210.37 570.81 L210.51 569.13 L210.65 567.42 L210.80 565.67 L210.95 563.90 L211.10 562.10 L211.26 560.28 L211.43 558.44 L211.60 556.60 L211.78 554.74 L211.96 552.87 L212.15 551.00 L212.35 549.13 L212.56 547.26 L212.78 545.40 L213.00 543.54 L213.23 541.69 L213.47 539.85 L213.71 538.02 L213.96 536.21 L214.22 534.41 L214.49 532.63 L214.76 530.87 L215.04 529.13 L215.32 527.41 L215.62 525.71 L215.92 524.04 L216.22 522.38 L216.53 520.76 L216.84 519.15 L217.16 517.57 L217.49 516.02 L217.81 514.50 L218.15 512.99 L218.48 511.52 L218.82 510.07 L219.16 508.65 L219.51 507.26 L219.85 505.89 L220.20 504.54 L220.55 503.23 L220.90 501.94 L221.26 500.67 L221.61 499.43 L221.96 498.22 L222.32 497.03 L222.67 495.87 L223.02 494.73 L223.38 493.61 L223.73 492.52 L224.07 491.45 L224.42 490.41 L224.77 489.39 L225.11 488.39 L225.45 487.41 L225.79 486.45 L226.12 485.52 L226.45 484.60 L226.77 483.71 L227.10 482.83 L227.41 481.98 L227.73 481.14 L228.03 480.33 L228.34 479.53 L228.63 478.75 L228.93 477.98 L229.21 477.24 L229.49 476.51 L229.76 475.79 L230.03 475.10 L230.29 474.41 L230.54 473.75 L230.79 473.10 L231.02 472.46 L231.25 471.84 L231.47 471.23 L231.69 470.63 L231.89 470.07 L232.09 469.52 L232.28 468.99 L232.46 468.46 L232.62 467.95 L232.78 467.45 L232.93 466.96 L233.07 466.48 L233.20 466.01 L233.32 465.55 L233.43 465.10 L233.53 464.66 L233.62 464.23 L233.70 463.81 L233.76 463.40 L233.82 463.00 L233.86 462.60 L233.89 462.21 L233.91 461.83 L233.92 461.46 L233.91 461.10 L233.90 460.74 L233.87 460.39 L233.83 460.05 L233.77 459.71 L233.70 459.38 L233.62 459.06 L233.53 458.74 L233.42 458.43 L233.30 458.13 L233.17 457.83 L233.02 457.53 L232.86 457.24 L232.68 456.96 L232.49 456.68 L232.29 456.41 L232.07 456.14 L231.84 455.88 L231.59 455.62 L231.33 455.36 L231.05 455.11 L230.76 454.87 L230.46 454.63 L230.14 454.39 L229.80 454.16 L229.45 453.93 L229.09 453.70 L228.71 453.48 L228.31 453.26 L227.90 453.04 L227.48 452.83 L227.04 452.62 L226.58 452.42 L226.11 452.21 L225.63 452.01 L225.13 451.82 L224.62 451.63 L224.09 451.44 L223.54 451.25 L222.98 451.06 L222.41 450.88 L221.82 450.70 L221.22 450.53 L220.60 450.35 L219.97 450.18 L219.33 450.01 L218.67 449.85 L217.99 449.69 L217.31 449.53 L216.61 449.37 L215.89 449.21 L215.17 449.06 L214.43 448.91 L213.67 448.76 L212.91 448.62 L212.13 448.48 L211.34 448.34 L210.54 448.20 L209.73 448.07 L208.91 447.94 L208.08 447.81 L207.23 447.68 L206.38 447.56 L205.51 447.44 L204.64 447.32 L203.76 447.21 L202.87 447.09 L201.97 446.99 L201.06 446.88 L200.14 446.78 L199.22 446.68 L198.30 446.59 L197.36 446.49 L196.42 446.41 L195.48 446.32 L194.53 446.24 L193.57 446.16 L192.61 446.09 L191.65 446.02 L190.69 445.95 L189.72 445.89 L188.76 445.84 L187.79 445.78 L186.82 445.74 L185.85 445.69 L184.88 445.66 L183.92 445.62 L182.95 445.59 L181.99 445.57 L181.03 445.55 L180.07 445.54 L179.12 445.54 L178.17 445.53 L177.23 445.54 L176.29 445.55 L175.36 445.57 L174.44 445.59 L173.52 445.62 L172.62 445.66 L171.72 445.70 L170.83 445.76 L169.95 445.81 L169.08 445.88 L168.23 445.95 L167.38 446.03 L166.55 446.12 L165.73 446.22 L164.92 446.33 L164.12 446.44 L163.34 446.57 L162.58 446.70 L161.83 446.84 L161.10 446.99 L160.38 447.15 L159.68 447.32 L159.00 447.50 L158.33 447.69 L157.69 447.89 L157.06 448.10 L156.45 448.32 L155.86 448.55 L155.29 448.80 L154.74 449.05 L154.21 449.32 L153.70 449.60 L153.21 449.89 L152.74 450.20 L152.30 450.51 L151.88 450.84 L151.47 451.18 L151.10 451.54 L150.74 451.91 L150.41 452.29 L150.10 452.69 L149.81 453.10 L149.55 453.53 L149.31 453.97 L149.09 454.43 L148.90 454.90 L148.73 455.39 L148.58 455.89 L148.46 456.41 L148.36 456.95 L148.29 457.50 L148.24 458.07 L148.21 458.66 L148.21 459.27 L148.23 459.89 L148.28 460.53 L148.35 461.19 L148.44 461.87 L148.56 462.57 L148.70 463.29 L148.87 464.03 L149.05 464.79 L149.26 465.57 L149.50 466.37 L149.75 467.19 L150.03 468.03 L150.33 468.90 Z" fill="none" stroke="#000" stroke-width="1.5" stroke-linejoin="round"/>
<path d="M143.48 469.50 L143.95 470.58 L144.45 471.74 L144.97 472.93 L145.52 474.15 L146.10 475.41 L146.71 476.71 L147.34 478.04 L147.99 479.41 L148.68 480.82 L149.38 482.26 L150.12 483.75 L150.87 485.28 L151.65 486.85 L152.46 488.46 L153.29 490.12 L154.14 491.82 L155.02 493.56 L155.92 495.35 L156.84 497.19 L157.78 499.08 L158.74 501.01 L159.72 502.99 L160.73 505.03 L161.75 507.12 L162.79 509.25 L163.85 511.44 L164.93 513.69 L166.03 515.99 L167.14 518.34 L168.27 520.75 L169.42 523.21 L170.58 525.73 L171.75 528.30 L172.94 530.93 L174.14 533.62 L175.35 536.36 L176.57 539.16 L177.80 542.01 L179.04 544.92 L180.29 547.88 L181.54 550.89 L182.80 553.95 L184.06 557.07 L185.33 560.22 L186.59 563.43 L187.86 566.67 L189.12 569.95 L190.38 573.27 L191.64 576.62 L192.89 580.00 L194.13 583.39 L195.35 586.52 L196.56 588.98 L197.72 591.43 L198.86 593.89 L199.96 596.34 L201.03 598.78 L202.07 601.20 L203.07 603.60 L204.03 605.97 L204.96 608.31 L205.86 610.60 L206.71 612.84 L207.53 615.02 L208.31 617.14 L209.05 619.18 L209.76 621.15 L210.42 623.03 L211.04 624.81 L211.62 626.49 L212.16 628.05 L212.67 629.50 L213.13 630.83 L213.55 632.03 L213.93 633.09 L214.27 634.02 L214.57 634.79 L214.83 635.42 L215.06 635.90 L215.26 636.23 L215.42 636.40 L215.55 636.42 L215.65 636.28 L215.72 635.98 L215.76 635.54 L215.78 634.94 L215.78 634.21 L215.76 633.32 L215.73 632.31 L215.68 631.16 L215.62 629.88 L215.55 628.49 L215.47 626.98 L215.39 625.37 L215.30 623.66 L215.22 621.86 L215.14 619.98 L215.06 618.03 L214.99 616.00 L214.93 613.92 L214.87 611.79 L214.84 609.61 L214.81 607.39 L214.80 605.14 L214.81 602.87 L214.83 600.57 L214.88 598.27 L214.95 595.96 L215.03 593.64 L215.15 591.33 L215.28 589.03 L215.44 586.74 L215.53 583.93 L215.58 580.78 L215.64 577.65 L215.72 574.57 L215.82 571.51 L215.93 568.50 L216.07 565.54 L216.22 562.62 L216.38 559.74 L216.57 556.92 L216.77 554.15 L216.98 551.43 L217.21 548.76 L217.46 546.15 L217.71 543.59 L217.98 541.09 L218.27 538.64 L218.56 536.24 L218.87 533.91 L219.18 531.62 L219.51 529.39 L219.84 527.21 L220.19 525.09 L220.54 523.02 L220.90 521.00 L221.27 519.03 L221.64 517.11 L222.02 515.23 L222.40 513.41 L222.79 511.64 L223.19 509.91 L223.58 508.22 L223.98 506.58 L224.39 504.98 L224.79 503.43 L225.20 501.92 L225.60 500.44 L226.01 499.01 L226.42 497.61 L226.83 496.25 L227.24 494.93 L227.64 493.65 L228.05 492.39 L228.45 491.18 L228.85 489.99 L229.25 488.84 L229.65 487.71 L230.04 486.62 L230.43 485.56 L230.81 484.52 L231.19 483.51 L231.56 482.53 L231.93 481.57 L232.30 480.64 L232.66 479.74 L233.01 478.86 L233.36 478.00 L233.70 477.16 L234.03 476.35 L234.36 475.56 L234.67 474.78 L234.98 474.03 L235.29 473.30 L235.58 472.58 L235.87 471.89 L236.14 471.21 L236.41 470.55 L236.67 469.93 L236.92 469.32 L237.16 468.73 L237.39 468.16 L237.60 467.60 L237.81 467.05 L238.01 466.52 L238.20 466.00 L238.37 465.49 L238.53 464.99 L238.69 464.51 L238.83 464.04 L238.95 463.57 L239.07 463.12 L239.17 462.68 L239.26 462.25 L239.34 461.83 L239.40 461.42 L239.45 461.02 L239.49 460.62 L239.51 460.24 L239.52 459.86 L239.51 459.49 L239.49 459.13 L239.46 458.78 L239.41 458.43 L239.35 458.10 L239.27 457.76 L239.17 457.44 L239.06 457.12 L238.94 456.81 L238.80 456.50 L238.64 456.20 L238.46 455.91 L238.27 455.62 L238.07 455.34 L237.84 455.06 L237.60 454.78 L237.35 454.51 L237.07 454.25 L236.78 453.99 L236.48 453.73 L236.15 453.48 L235.81 453.24 L235.45 452.99 L235.07 452.75 L234.67 452.52 L234.26 452.29 L233.83 452.06 L233.38 451.83 L232.91 451.61 L232.43 451.39 L231.92 451.18 L231.40 450.96 L230.86 450.75 L230.31 450.55 L229.73 450.34 L229.14 450.14 L228.53 449.94 L227.90 449.75 L227.25 449.55 L226.59 449.36 L225.90 449.17 L225.20 448.99 L224.48 448.80 L223.75 448.62 L223.00 448.44 L222.23 448.26 L221.44 448.09 L220.63 447.92 L219.81 447.75 L218.98 447.58 L218.12 447.41 L217.26 447.25 L216.37 447.09 L215.47 446.93 L214.56 446.77 L213.63 446.61 L212.68 446.46 L211.72 446.31 L210.75 446.16 L209.76 446.01 L208.76 445.87 L207.75 445.73 L206.73 445.59 L205.69 445.46 L204.64 445.32 L203.58 445.19 L202.51 445.06 L201.43 444.94 L200.35 444.82 L199.25 444.70 L198.14 444.58 L197.03 444.47 L195.91 444.36 L194.78 444.26 L193.65 444.15 L192.51 444.06 L191.37 443.96 L190.22 443.87 L189.07 443.78 L187.91 443.70 L186.76 443.62 L185.60 443.55 L184.44 443.48 L183.28 443.42 L182.13 443.36 L180.97 443.30 L179.82 443.26 L178.67 443.21 L177.52 443.18 L176.38 443.14 L175.24 443.12 L174.11 443.10 L172.99 443.09 L171.87 443.08 L170.76 443.08 L169.66 443.09 L168.57 443.10 L167.49 443.12 L166.42 443.15 L165.37 443.19 L164.32 443.24 L163.29 443.29 L162.28 443.35 L161.28 443.43 L160.29 443.51 L159.32 443.60 L158.37 443.69 L157.44 443.80 L156.52 443.92 L155.62 444.05 L154.75 444.19 L153.89 444.34 L153.05 444.50 L152.24 444.68 L151.45 444.86 L150.68 445.06 L149.93 445.27 L149.21 445.49 L148.51 445.72 L147.83 445.97 L147.18 446.23 L146.56 446.50 L145.96 446.79 L145.39 447.09 L144.84 447.41 L144.32 447.74 L143.83 448.08 L143.37 448.44 L142.93 448.82 L142.52 449.22 L142.14 449.63 L141.79 450.05 L141.47 450.50 L141.18 450.96 L140.92 451.44 L140.68 451.94 L140.48 452.45 L140.30 452.99 L140.16 453.55 L140.04 454.12 L139.96 454.72 L139.90 455.34 L139.88 455.97 L139.88 456.64 L139.92 457.32 L139.98 458.02 L140.07 458.75 L140.20 459.50 L140.35 460.28 L140.53 461.08 L140.74 461.91 L140.99 462.76 L141.26 463.64 L141.56 464.54 L141.88 465.48 L142.24 466.44 L142.63 467.43 L143.04 468.45 Z" fill="none" stroke="#000" stroke-width="1.5" stroke-linejoin="round"/>
<path d="M195.10 470.60 L194.81 470.60 L194.53 470.60 L194.24 470.60 L193.95 470.60 L193.66 470.60 L193.37 470.60 L193.08 470.60 L192.79 470.60 L192.50 470.60 L192.21 470.60 L191.92 470.60 L191.63 470.60 L191.34 470.59 L191.05 470.59 L190.76 470.59 L190.46 470.59 L190.17 470.59 L189.88 470.59 L189.58 470.59 L189.29 470.59 L188.99 470.58 L188.70 470.58 L188.40 470.58 L188.11 470.58 L187.81 470.58 L187.51 470.58 L187.22 470.57 L186.92 470.57 L186.62 470.57 L186.32 470.57 L186.02 470.57 L185.72 470.56 L185.42 470.56 L185.12 470.56 L184.82 470.56 L184.52 470.55 L184.22 470.55 L183.92 470.55 L183.62 470.55 L183.31 470.54 L183.01 470.54 L182.71 470.54 L182.40 470.53 L182.10 470.53 L181.79 470.53 L181.49 470.53 L181.18 470.52 L180.88 470.52 L180.57 470.51 L180.26 470.51 L179.96 470.51 L179.65 470.50 L179.34 470.50 L179.03 470.50 L178.72 470.49 L178.41 470.49 L178.10 470.48 L177.79 470.48 L177.48 470.47 L177.17 470.47 L176.86 470.46 L176.54 470.46 L176.23 470.46 L175.92 470.45 L175.60 470.45 L175.29 470.44 L174.98 470.44 L174.66 470.43 L174.35 470.42 L174.03 470.42 L173.71 470.41 L173.40 470.41 L173.08 470.40 L172.76 470.40 L172.44 470.39 L172.12 470.39 L171.80 470.38 L171.48 470.37 L171.16 470.37 L170.84 470.36 L170.52 470.35 L170.20 470.35 L169.88 470.34 L169.55 470.33 L169.23 470.33 L168.91 470.32 L168.58 470.31 L168.26 470.31 L167.93 470.30 L167.61 470.29 L167.28 470.28 L166.96 470.28 L166.63 470.27 L166.30 470.26 L165.97 470.25 L165.64 470.25 L165.31 470.24 L164.98 470.23 L164.65 470.22 L164.32 470.21 L163.99 470.20 L163.66 470.20 L163.33 470.19 L163.00 470.18 L162.66 470.17 L162.33 470.16 L161.99 470.15 L161.66 470.14 L161.32 470.13 L160.99 470.12 L160.65 470.11 L160.31 470.10 L159.98 470.09 L159.64 470.08 L159.30 470.07 L158.96 470.06 L158.62 470.05 L158.28 470.04 L157.94 470.03 L157.60 470.02 L157.26 470.01 L156.92 470.00 L156.57 469.99 L156.23 469.98 L155.88 469.97 L155.54 469.96 L155.20 469.95 L154.85 469.93 L154.50 469.92 L154.16 469.91 L153.81 469.90 L153.46 469.89 L153.11 469.88 L152.76 469.86 L152.41 469.85 L152.06 469.84 L151.71 469.83 L151.36 469.81 L151.01 469.80 L150.66 469.79 L150.30 469.77 L149.95 469.76 L149.60 469.75 L149.24 469.73 L148.89 469.72 L148.53 469.71 L148.17 469.69 L147.82 469.68 L147.46 469.66 L147.10 469.65 L146.74 469.64 L146.38 469.62 L146.02 469.61 L145.66 469.59 L145.30 469.58 L144.94 469.56 L144.57 469.55 L144.21 469.53 L143.85 469.51 L143.48 469.50" fill="none" stroke="#000" stroke-width="1.5" stroke-linejoin="round"/>
<path d="M195.10 470.60 L194.90 470.81 L194.70 471.03 L194.50 471.24 L194.30 471.46 L194.10 471.68 L193.90 471.90 L193.70 472.12 L193.51 472.35 L193.31 472.58 L193.12 472.81 L192.92 473.04 L192.73 473.27 L192.54 473.51 L192.35 473.75 L192.16 473.99 L191.97 474.23 L191.78 474.47 L191.60 474.72 L191.41 474.97 L191.23 475.22 L191.04 475.48 L190.86 475.73 L190.68 475.99 L190.50 476.25 L190.32 476.52 L190.14 476.78 L189.96 477.05 L189.79 477.32 L189.61 477.60 L189.44 477.88 L189.26 478.16 L189.09 478.44 L188.92 478.72 L188.75 479.01 L188.59 479.30 L188.42 479.59 L188.25 479.89 L188.09 480.19 L187.92 480.49 L187.76 480.80 L187.60 481.10 L187.44 481.42 L187.29 481.73 L187.13 482.05 L186.97 482.37 L186.82 482.69 L186.67 483.02 L186.51 483.35 L186.37 483.68 L186.22 484.02 L186.07 484.36 L185.92 484.71 L185.78 485.05 L185.64 485.41 L185.50 485.76 L185.36 486.12 L185.22 486.48 L185.08 486.85 L184.95 487.22 L184.81 487.59 L184.68 487.97 L184.55 488.36 L184.42 488.74 L184.30 489.13 L184.17 489.53 L184.05 489.93 L183.93 490.33 L183.81 490.74 L183.69 491.15 L183.58 491.57 L183.46 491.99 L183.35 492.41 L183.24 492.85 L183.13 493.28 L183.02 493.72 L182.92 494.17 L182.82 494.62 L182.72 495.07 L182.62 495.54 L182.52 496.00 L182.43 496.47 L182.34 496.95 L182.25 497.43 L182.16 497.92 L182.08 498.42 L181.99 498.92 L181.91 499.42 L181.84 499.93 L181.76 500.45 L181.69 500.98 L181.62 501.51 L181.55 502.05 L181.49 502.59 L181.42 503.14 L181.36 503.70 L181.31 504.26 L181.25 504.83 L181.20 505.41 L181.15 506.00 L181.11 506.59 L181.06 507.19 L181.02 507.80 L180.99 508.41 L180.95 509.04 L180.92 509.67 L180.90 510.31 L180.87 510.96 L180.85 511.62 L180.83 512.28 L180.82 512.96 L180.81 513.64 L180.80 514.33 L180.80 515.04 L180.80 515.75 L180.81 516.47 L180.82 517.20 L180.83 517.94 L180.84 518.70 L180.87 519.46 L180.89 520.23 L180.92 521.02 L180.95 521.81 L180.99 522.62 L181.03 523.44 L181.08 524.27 L181.13 525.11 L181.19 525.97 L181.25 526.84 L181.32 527.72 L181.39 528.61 L181.46 529.52 L181.55 530.44 L181.63 531.38 L181.73 532.33 L181.83 533.30 L181.93 534.28 L182.04 535.27 L182.16 536.28 L182.28 537.31 L182.41 538.36 L182.55 539.42 L182.69 540.50 L182.84 541.59 L182.99 542.71 L183.16 543.84 L183.33 544.99 L183.51 546.16 L183.69 547.36 L183.88 548.57 L184.09 549.80 L184.30 551.06 L184.52 552.34 L184.74 553.64 L184.98 554.96 L185.22 556.31 L185.48 557.68 L185.74 559.08 L186.02 560.50 L186.30 561.95 L186.59 563.43" fill="none" stroke="#000" stroke-width="1.5" stroke-linejoin="round"/>
<path d="M195.10 470.60 L195.10 470.90 L195.10 471.20 L195.10 471.51 L195.10 471.82 L195.11 472.13 L195.11 472.44 L195.11 472.76 L195.12 473.08 L195.12 473.40 L195.13 473.73 L195.14 474.06 L195.14 474.39 L195.15 474.73 L195.16 475.07 L195.17 475.41 L195.18 475.76 L195.19 476.11 L195.20 476.46 L195.21 476.82 L195.22 477.18 L195.24 477.54 L195.25 477.91 L195.27 478.28 L195.28 478.66 L195.30 479.04 L195.31 479.42 L195.33 479.81 L195.35 480.21 L195.37 480.60 L195.39 481.00 L195.41 481.41 L195.43 481.82 L195.46 482.23 L195.48 482.65 L195.50 483.07 L195.53 483.50 L195.56 483.93 L195.58 484.37 L195.61 484.81 L195.64 485.26 L195.67 485.71 L195.70 486.17 L195.73 486.63 L195.76 487.10 L195.80 487.58 L195.83 488.06 L195.87 488.54 L195.91 489.03 L195.94 489.53 L195.98 490.03 L196.02 490.54 L196.06 491.05 L196.11 491.57 L196.15 492.10 L196.19 492.64 L196.24 493.18 L196.29 493.72 L196.34 494.28 L196.39 494.84 L196.44 495.41 L196.49 495.98 L196.54 496.56 L196.60 497.15 L196.65 497.75 L196.71 498.36 L196.77 498.97 L196.83 499.59 L196.89 500.22 L196.95 500.86 L197.02 501.51 L197.09 502.17 L197.15 502.83 L197.22 503.50 L197.29 504.19 L197.37 504.88 L197.44 505.58 L197.52 506.30 L197.60 507.02 L197.68 507.75 L197.76 508.50 L197.84 509.25 L197.93 510.02 L198.01 510.79 L198.10 511.58 L198.20 512.38 L198.29 513.19 L198.38 514.02 L198.48 514.86 L198.58 515.71 L198.68 516.57 L198.79 517.45 L198.90 518.34 L199.01 519.24 L199.12 520.16 L199.23 521.10 L199.35 522.05 L199.47 523.01 L199.59 523.99 L199.72 524.99 L199.84 526.00 L199.98 527.03 L200.11 528.08 L200.25 529.15 L200.39 530.23 L200.53 531.34 L200.68 532.46 L200.83 533.61 L200.98 534.77 L201.14 535.96 L201.30 537.16 L201.46 538.39 L201.63 539.64 L201.81 540.92 L201.98 542.22 L202.16 543.55 L202.35 544.90 L202.54 546.27 L202.73 547.68 L202.93 549.11 L203.13 550.57 L203.34 552.06 L203.56 553.58 L203.78 555.13 L204.00 556.72 L204.23 558.34 L204.47 559.99 L204.71 561.68 L204.96 563.41 L205.21 565.17 L205.47 566.97 L205.74 568.82 L206.01 570.70 L206.30 572.63 L206.59 574.61 L206.88 576.63 L207.19 578.70 L207.50 580.82 L207.83 582.99 L208.16 585.22 L208.44 587.01 L208.72 588.69 L209.00 590.41 L209.29 592.17 L209.58 593.98 L209.89 595.84 L210.20 597.74 L210.52 599.71 L210.85 601.72 L211.19 603.79 L211.54 605.92 L211.90 608.12 L212.27 610.38 L212.65 612.70 L213.04 615.10 L213.45 617.57 L213.86 620.11 L214.30 622.74 L214.74 625.46 L215.20 628.26 L215.68 631.16" fill="none" stroke="#000" stroke-width="1.5" stroke-linejoin="round"/>
<path d="M195.10 470.60 L195.30 470.81 L195.50 471.02 L195.71 471.24 L195.91 471.45 L196.11 471.67 L196.30 471.88 L196.50 472.10 L196.70 472.31 L196.90 472.53 L197.10 472.75 L197.29 472.97 L197.49 473.19 L197.68 473.42 L197.88 473.64 L198.07 473.86 L198.26 474.09 L198.45 474.31 L198.65 474.54 L198.84 474.77 L199.03 475.00 L199.22 475.23 L199.41 475.46 L199.60 475.69 L199.78 475.93 L199.97 476.16 L200.16 476.40 L200.34 476.63 L200.53 476.87 L200.71 477.11 L200.90 477.35 L201.08 477.59 L201.27 477.83 L201.45 478.08 L201.63 478.32 L201.81 478.57 L201.99 478.81 L202.17 479.06 L202.35 479.31 L202.53 479.56 L202.71 479.81 L202.89 480.07 L203.07 480.32 L203.24 480.58 L203.42 480.84 L203.60 481.09 L203.77 481.35 L203.94 481.61 L204.12 481.88 L204.29 482.14 L204.47 482.41 L204.64 482.67 L204.81 482.94 L204.98 483.21 L205.15 483.48 L205.32 483.75 L205.49 484.03 L205.66 484.30 L205.83 484.58 L206.00 484.86 L206.16 485.14 L206.33 485.42 L206.50 485.70 L206.66 485.99 L206.83 486.27 L206.99 486.56 L207.16 486.85 L207.32 487.14 L207.48 487.44 L207.64 487.73 L207.81 488.03 L207.97 488.33 L208.13 488.63 L208.29 488.93 L208.45 489.23 L208.61 489.54 L208.77 489.84 L208.92 490.15 L209.08 490.46 L209.24 490.78 L209.39 491.09 L209.55 491.41 L209.71 491.73 L209.86 492.05 L210.02 492.37 L210.17 492.69 L210.32 493.02 L210.48 493.35 L210.63 493.68 L210.78 494.01 L210.93 494.35 L211.08 494.68 L211.23 495.02 L211.38 495.37 L211.53 495.71 L211.68 496.06 L211.83 496.40 L211.97 496.75 L212.12 497.11 L212.27 497.46 L212.41 497.82 L212.56 498.18 L212.70 498.54 L212.85 498.91 L212.99 499.28 L213.13 499.65 L213.28 500.02 L213.42 500.40 L213.56 500.77 L213.70 501.16 L213.84 501.54 L213.98 501.93 L214.12 502.31 L214.26 502.71 L214.40 503.10 L214.54 503.50 L214.67 503.90 L214.81 504.30 L214.95 504.71 L215.08 505.12 L215.22 505.53 L215.35 505.95 L215.49 506.37 L215.62 506.79 L215.76 507.21 L215.89 507.64 L216.02 508.07 L216.15 508.51 L216.28 508.95 L216.41 509.39 L216.54 509.84 L216.67 510.29 L216.80 510.74 L216.93 511.19 L217.06 511.65 L217.19 512.12 L217.31 512.59 L217.44 513.06 L217.56 513.53 L217.69 514.01 L217.81 514.50 L217.94 514.98 L218.06 515.47 L218.18 515.97 L218.31 516.47 L218.43 516.97 L218.55 517.48 L218.67 517.99 L218.79 518.51 L218.91 519.03 L219.03 519.56 L219.15 520.09 L219.27 520.63 L219.38 521.17 L219.50 521.71 L219.62 522.26 L219.73 522.82 L219.85 523.38 L219.96 523.94 L220.08 524.51 L220.19 525.09" fill="none" stroke="#000" stroke-width="1.5" stroke-linejoin="round"/>
<path d="M195.10 470.60 L195.39 470.60 L195.67 470.60 L195.96 470.60 L196.24 470.60 L196.53 470.60 L196.81 470.60 L197.10 470.60 L197.38 470.60 L197.66 470.60 L197.95 470.60 L198.23 470.60 L198.51 470.60 L198.80 470.59 L199.08 470.59 L199.36 470.59 L199.64 470.59 L199.92 470.59 L200.20 470.59 L200.48 470.59 L200.76 470.59 L201.04 470.59 L201.32 470.58 L201.59 470.58 L201.87 470.58 L202.15 470.58 L202.43 470.58 L202.70 470.58 L202.98 470.58 L203.26 470.57 L203.53 470.57 L203.81 470.57 L204.08 470.57 L204.36 470.57 L204.63 470.56 L204.91 470.56 L205.18 470.56 L205.45 470.56 L205.73 470.56 L206.00 470.55 L206.27 470.55 L206.54 470.55 L206.82 470.55 L207.09 470.54 L207.36 470.54 L207.63 470.54 L207.90 470.53 L208.17 470.53 L208.44 470.53 L208.71 470.53 L208.98 470.52 L209.25 470.52 L209.51 470.52 L209.78 470.51 L210.05 470.51 L210.32 470.51 L210.58 470.50 L210.85 470.50 L211.12 470.50 L211.38 470.49 L211.65 470.49 L211.91 470.49 L212.18 470.48 L212.44 470.48 L212.71 470.48 L212.97 470.47 L213.23 470.47 L213.50 470.47 L213.76 470.46 L214.02 470.46 L214.29 470.45 L214.55 470.45 L214.81 470.45 L215.07 470.44 L215.33 470.44 L215.59 470.43 L215.85 470.43 L216.11 470.43 L216.37 470.42 L216.63 470.42 L216.89 470.41 L217.15 470.41 L217.41 470.40 L217.67 470.40 L217.92 470.39 L218.18 470.39 L218.44 470.39 L218.70 470.38 L218.95 470.38 L219.21 470.37 L219.47 470.37 L219.72 470.36 L219.98 470.36 L220.23 470.35 L220.49 470.35 L220.74 470.34 L221.00 470.34 L221.25 470.33 L221.50 470.33 L221.76 470.32 L222.01 470.32 L222.26 470.31 L222.51 470.30 L222.77 470.30 L223.02 470.29 L223.27 470.29 L223.52 470.28 L223.77 470.28 L224.02 470.27 L224.27 470.27 L224.52 470.26 L224.77 470.25 L225.02 470.25 L225.27 470.24 L225.52 470.24 L225.77 470.23 L226.02 470.23 L226.27 470.22 L226.51 470.21 L226.76 470.21 L227.01 470.20 L227.26 470.19 L227.50 470.19 L227.75 470.18 L227.99 470.18 L228.24 470.17 L228.49 470.16 L228.73 470.16 L228.98 470.15 L229.22 470.14 L229.46 470.14 L229.71 470.13 L229.95 470.13 L230.20 470.12 L230.44 470.11 L230.68 470.11 L230.93 470.10 L231.17 470.09 L231.41 470.09 L231.65 470.08 L231.89 470.07 L232.13 470.06 L232.38 470.06 L232.62 470.05 L232.86 470.04 L233.10 470.04 L233.34 470.03 L233.58 470.02 L233.82 470.02 L234.06 470.01 L234.29 470.00 L234.53 469.99 L234.77 469.99 L235.01 469.98 L235.25 469.97 L235.48 469.97 L235.72 469.96 L235.96 469.95 L236.20 469.94 L236.43 469.94 L236.67 469.93" fill="none" stroke="#000" stroke-width="1.5" stroke-linejoin="round"/>
<path d="M195.10 470.60 L195.30 470.40 L195.51 470.20 L195.71 470.00 L195.92 469.80 L196.12 469.61 L196.33 469.42 L196.54 469.22 L196.75 469.03 L196.96 468.85 L197.17 468.66 L197.38 468.48 L197.59 468.29 L197.80 468.11 L198.02 467.93 L198.23 467.75 L198.45 467.57 L198.66 467.40 L198.88 467.23 L199.10 467.05 L199.31 466.88 L199.53 466.71 L199.75 466.54 L199.97 466.38 L200.19 466.21 L200.41 466.05 L200.64 465.89 L200.86 465.73 L201.08 465.57 L201.31 465.41 L201.53 465.25 L201.76 465.09 L201.98 464.94 L202.21 464.79 L202.44 464.64 L202.66 464.48 L202.89 464.34 L203.12 464.19 L203.35 464.04 L203.58 463.90 L203.81 463.75 L204.04 463.61 L204.28 463.47 L204.51 463.33 L204.74 463.19 L204.98 463.05 L205.21 462.91 L205.45 462.77 L205.68 462.64 L205.92 462.50 L206.16 462.37 L206.39 462.24 L206.63 462.11 L206.87 461.98 L207.11 461.85 L207.35 461.72 L207.59 461.60 L207.83 461.47 L208.07 461.35 L208.31 461.22 L208.56 461.10 L208.80 460.98 L209.04 460.86 L209.29 460.74 L209.53 460.62 L209.78 460.50 L210.02 460.39 L210.27 460.27 L210.52 460.16 L210.76 460.04 L211.01 459.93 L211.26 459.82 L211.51 459.71 L211.76 459.60 L212.01 459.49 L212.26 459.38 L212.51 459.27 L212.76 459.17 L213.01 459.06 L213.26 458.96 L213.51 458.85 L213.77 458.75 L214.02 458.65 L214.27 458.54 L214.53 458.44 L214.78 458.34 L215.04 458.24 L215.30 458.15 L215.55 458.05 L215.81 457.95 L216.07 457.86 L216.32 457.76 L216.58 457.67 L216.84 457.57 L217.10 457.48 L217.36 457.39 L217.62 457.30 L217.88 457.20 L218.14 457.12 L218.40 457.03 L218.66 456.94 L218.92 456.85 L219.19 456.76 L219.45 456.68 L219.71 456.59 L219.98 456.51 L220.24 456.42 L220.50 456.34 L220.77 456.25 L221.03 456.17 L221.30 456.09 L221.57 456.01 L221.83 455.93 L222.10 455.85 L222.37 455.77 L222.63 455.69 L222.90 455.61 L223.17 455.54 L223.44 455.46 L223.71 455.38 L223.98 455.31 L224.25 455.23 L224.52 455.16 L224.79 455.09 L225.06 455.01 L225.33 454.94 L225.61 454.87 L225.88 454.80 L226.15 454.73 L226.42 454.66 L226.70 454.59 L226.97 454.52 L227.24 454.45 L227.52 454.38 L227.79 454.32 L228.07 454.25 L228.35 454.18 L228.62 454.12 L228.90 454.05 L229.17 453.99 L229.45 453.93 L229.73 453.86 L230.01 453.80 L230.29 453.74 L230.56 453.68 L230.84 453.61 L231.12 453.55 L231.40 453.49 L231.68 453.43 L231.96 453.37 L232.24 453.31 L232.52 453.26 L232.81 453.20 L233.09 453.14 L233.37 453.08 L233.65 453.03 L233.93 452.97 L234.22 452.92 L234.50 452.86 L234.78 452.81 L235.07 452.75" fill="none" stroke="#000" stroke-width="1.5" stroke-linejoin="round"/>
<path d="M195.10 470.60 L195.10 470.31 L195.10 470.03 L195.10 469.75 L195.10 469.47 L195.11 469.20 L195.11 468.93 L195.11 468.66 L195.12 468.39 L195.12 468.12 L195.13 467.86 L195.13 467.60 L195.14 467.34 L195.15 467.09 L195.15 466.83 L195.16 466.58 L195.17 466.33 L195.18 466.09 L195.19 465.84 L195.20 465.60 L195.21 465.36 L195.22 465.12 L195.23 464.89 L195.24 464.65 L195.25 464.42 L195.27 464.19 L195.28 463.96 L195.29 463.73 L195.31 463.51 L195.32 463.29 L195.34 463.07 L195.35 462.85 L195.37 462.63 L195.38 462.42 L195.40 462.20 L195.42 461.99 L195.44 461.78 L195.45 461.57 L195.47 461.37 L195.49 461.16 L195.51 460.96 L195.53 460.76 L195.55 460.56 L195.57 460.36 L195.59 460.16 L195.61 459.97 L195.63 459.77 L195.66 459.58 L195.68 459.39 L195.70 459.20 L195.72 459.01 L195.75 458.83 L195.77 458.64 L195.80 458.46 L195.82 458.28 L195.85 458.10 L195.87 457.92 L195.90 457.74 L195.92 457.56 L195.95 457.39 L195.98 457.21 L196.00 457.04 L196.03 456.87 L196.06 456.70 L196.09 456.53 L196.12 456.37 L196.15 456.20 L196.18 456.03 L196.21 455.87 L196.24 455.71 L196.27 455.55 L196.30 455.39 L196.33 455.23 L196.36 455.07 L196.39 454.92 L196.43 454.76 L196.46 454.61 L196.49 454.45 L196.52 454.30 L196.56 454.15 L196.59 454.00 L196.63 453.85 L196.66 453.70 L196.70 453.56 L196.73 453.41 L196.77 453.27 L196.80 453.13 L196.84 452.98 L196.88 452.84 L196.91 452.70 L196.95 452.56 L196.99 452.42 L197.03 452.29 L197.07 452.15 L197.10 452.01 L197.14 451.88 L197.18 451.75 L197.22 451.61 L197.26 451.48 L197.30 451.35 L197.34 451.22 L197.38 451.09 L197.43 450.96 L197.47 450.84 L197.51 450.71 L197.55 450.58 L197.59 450.46 L197.64 450.34 L197.68 450.21 L197.72 450.09 L197.77 449.97 L197.81 449.85 L197.86 449.73 L197.90 449.61 L197.94 449.49 L197.99 449.38 L198.04 449.26 L198.08 449.14 L198.13 449.03 L198.17 448.91 L198.22 448.80 L198.27 448.69 L198.32 448.58 L198.36 448.46 L198.41 448.35 L198.46 448.24 L198.51 448.13 L198.56 448.03 L198.61 447.92 L198.66 447.81 L198.71 447.71 L198.76 447.60 L198.81 447.50 L198.86 447.39 L198.91 447.29 L198.96 447.18 L199.01 447.08 L199.07 446.98 L199.12 446.88 L199.17 446.78 L199.22 446.68 L199.28 446.58 L199.33 446.48 L199.38 446.39 L199.44 446.29 L199.49 446.19 L199.55 446.10 L199.60 446.00 L199.66 445.91 L199.71 445.81 L199.77 445.72 L199.83 445.63 L199.88 445.53 L199.94 445.44 L200.00 445.35 L200.05 445.26 L200.11 445.17 L200.17 445.08 L200.23 444.99 L200.29 444.91 L200.35 444.82" fill="none" stroke="#000" stroke-width="1.5" stroke-linejoin="round"/>
<path d="M195.10 470.60 L194.90 470.40 L194.69 470.20 L194.49 470.00 L194.28 469.80 L194.08 469.60 L193.87 469.40 L193.66 469.20 L193.46 469.00 L193.25 468.81 L193.04 468.61 L192.83 468.42 L192.62 468.22 L192.41 468.03 L192.20 467.84 L191.98 467.65 L191.77 467.46 L191.56 467.27 L191.34 467.08 L191.13 466.89 L190.91 466.70 L190.70 466.51 L190.48 466.32 L190.26 466.14 L190.04 465.95 L189.82 465.77 L189.60 465.58 L189.38 465.40 L189.16 465.22 L188.94 465.04 L188.72 464.85 L188.49 464.67 L188.27 464.49 L188.04 464.31 L187.82 464.13 L187.59 463.95 L187.36 463.78 L187.13 463.60 L186.91 463.42 L186.68 463.24 L186.45 463.07 L186.21 462.89 L185.98 462.72 L185.75 462.54 L185.52 462.37 L185.28 462.20 L185.05 462.02 L184.81 461.85 L184.58 461.68 L184.34 461.51 L184.10 461.34 L183.86 461.17 L183.62 461.00 L183.38 460.83 L183.14 460.66 L182.90 460.49 L182.66 460.33 L182.41 460.16 L182.17 459.99 L181.92 459.83 L181.68 459.66 L181.43 459.49 L181.18 459.33 L180.93 459.17 L180.68 459.00 L180.43 458.84 L180.18 458.67 L179.93 458.51 L179.68 458.35 L179.43 458.19 L179.17 458.03 L178.92 457.86 L178.66 457.70 L178.40 457.54 L178.15 457.38 L177.89 457.22 L177.63 457.07 L177.37 456.91 L177.11 456.75 L176.84 456.59 L176.58 456.43 L176.32 456.27 L176.05 456.12 L175.79 455.96 L175.52 455.81 L175.25 455.65 L174.98 455.49 L174.71 455.34 L174.44 455.18 L174.17 455.03 L173.90 454.87 L173.63 454.72 L173.35 454.57 L173.08 454.41 L172.80 454.26 L172.52 454.11 L172.25 453.96 L171.97 453.80 L171.69 453.65 L171.41 453.50 L171.13 453.35 L170.84 453.20 L170.56 453.05 L170.27 452.90 L169.99 452.75 L169.70 452.60 L169.41 452.45 L169.13 452.30 L168.84 452.15 L168.54 452.00 L168.25 451.85 L167.96 451.70 L167.67 451.56 L167.37 451.41 L167.08 451.26 L166.78 451.11 L166.48 450.97 L166.18 450.82 L165.88 450.67 L165.58 450.53 L165.28 450.38 L164.97 450.24 L164.67 450.09 L164.36 449.94 L164.06 449.80 L163.75 449.65 L163.44 449.51 L163.13 449.36 L162.82 449.22 L162.51 449.07 L162.20 448.93 L161.88 448.79 L161.56 448.64 L161.25 448.50 L160.93 448.36 L160.61 448.21 L160.29 448.07 L159.97 447.93 L159.65 447.78 L159.32 447.64 L159.00 447.50 L158.67 447.36 L158.34 447.21 L158.02 447.07 L157.69 446.93 L157.36 446.79 L157.02 446.65 L156.69 446.51 L156.36 446.36 L156.02 446.22 L155.68 446.08 L155.34 445.94 L155.00 445.80 L154.66 445.66 L154.32 445.52 L153.98 445.38 L153.63 445.24 L153.29 445.10 L152.94 444.96 L152.59 444.82 L152.24 444.68" fill="none" stroke="#000" stroke-width="1.5" stroke-linejoin="round"/>
<circle cx="195.1" cy="470.6" r="5.9" fill="#fff" stroke="#000" stroke-width="1.3"/>
<text x="195.20" y="398.00" font-size="18.5" text-anchor="middle" fill="#000" font-weight="bold">MODEL</text>
<path d="M428.40 410.60 V652.80 H671.00" fill="none" stroke="#262626" stroke-width="1.1"/>
<line x1="427.90" y1="652.80" x2="427.90" y2="649.80" stroke="#262626" stroke-width="1.1"/>
<text x="427.90" y="674.50" font-size="17.2" text-anchor="middle" fill="#262626">-100</text>
<line x1="488.55" y1="652.80" x2="488.55" y2="649.80" stroke="#262626" stroke-width="1.1"/>
<text x="488.55" y="674.50" font-size="17.2" text-anchor="middle" fill="#262626">-50</text>
<line x1="549.20" y1="652.80" x2="549.20" y2="649.80" stroke="#262626" stroke-width="1.1"/>
<text x="549.20" y="674.50" font-size="17.2" text-anchor="middle" fill="#262626">0</text>
<line x1="609.85" y1="652.80" x2="609.85" y2="649.80" stroke="#262626" stroke-width="1.1"/>
<text x="609.85" y="674.50" font-size="17.2" text-anchor="middle" fill="#262626">50</text>
<line x1="670.50" y1="652.80" x2="670.50" y2="649.80" stroke="#262626" stroke-width="1.1"/>
<text x="670.50" y="674.50" font-size="17.2" text-anchor="middle" fill="#262626">100</text>
<line x1="428.40" y1="653.00" x2="431.40" y2="653.00" stroke="#262626" stroke-width="1.1"/>
<text x="424.60" y="659.90" font-size="17.2" text-anchor="end" fill="#262626">-100</text>
<line x1="428.40" y1="592.35" x2="431.40" y2="592.35" stroke="#262626" stroke-width="1.1"/>
<text x="424.60" y="599.25" font-size="17.2" text-anchor="end" fill="#262626">-50</text>
<line x1="428.40" y1="531.70" x2="431.40" y2="531.70" stroke="#262626" stroke-width="1.1"/>
<text x="424.60" y="538.60" font-size="17.2" text-anchor="end" fill="#262626">0</text>
<line x1="428.40" y1="471.05" x2="431.40" y2="471.05" stroke="#262626" stroke-width="1.1"/>
<text x="424.60" y="477.95" font-size="17.2" text-anchor="end" fill="#262626">50</text>
<line x1="428.40" y1="410.40" x2="431.40" y2="410.40" stroke="#262626" stroke-width="1.1"/>
<text x="424.60" y="417.30" font-size="17.2" text-anchor="end" fill="#262626">100</text>
<defs><clipPath id="dclip"><rect x="428.4" y="410.6" width="242.6" height="242.2"/></clipPath></defs>
<g clip-path="url(#dclip)">
<path d="M419.9 411.9 L713.8 449.8 L668.3 643.9 L470.2 627.0 Z" fill="none" stroke="#111" stroke-width="1.1" stroke-dasharray="1.1 1.9"/>
<line x1="549.2" y1="531.7" x2="573.5" y2="409.9" stroke="#777777" stroke-width="1.25"/>
<line x1="549.2" y1="531.7" x2="671.1" y2="484.8" stroke="#777777" stroke-width="1.25"/>
<line x1="549.2" y1="531.7" x2="671" y2="542.6" stroke="#777777" stroke-width="1.25"/>
<line x1="549.2" y1="531.7" x2="660.2" y2="652.8" stroke="#777777" stroke-width="1.25"/>
<line x1="549.2" y1="531.7" x2="547.8" y2="652.8" stroke="#777777" stroke-width="1.25"/>
<line x1="549.2" y1="531.7" x2="456.3" y2="652.8" stroke="#777777" stroke-width="1.25"/>
<line x1="549.2" y1="531.7" x2="428.4" y2="545.3" stroke="#777777" stroke-width="1.25"/>
<line x1="549.2" y1="531.7" x2="428.4" y2="472.1" stroke="#777777" stroke-width="1.25"/>
<path d="M549.2 531.7 L563.0 489.0" fill="none" stroke="#8e8e8e" stroke-width="4.3" stroke-linecap="round" stroke-linejoin="round"/>
<path d="M549.2 531.7 L563.0 489.0" fill="none" stroke="#a6a6a6" stroke-width="3.2" stroke-linecap="round" stroke-linejoin="round"/>
<path d="M549.2 531.7 L574.0 519.5 L606.7 520.2" fill="none" stroke="#8e8e8e" stroke-width="4.3" stroke-linecap="round" stroke-linejoin="round"/>
<path d="M549.2 531.7 L574.0 519.5 L606.7 520.2" fill="none" stroke="#a6a6a6" stroke-width="3.2" stroke-linecap="round" stroke-linejoin="round"/>
<path d="M549.2 531.7 L618.6 536.8" fill="none" stroke="#8e8e8e" stroke-width="4.3" stroke-linecap="round" stroke-linejoin="round"/>
<path d="M549.2 531.7 L618.6 536.8" fill="none" stroke="#a6a6a6" stroke-width="3.2" stroke-linecap="round" stroke-linejoin="round"/>
<path d="M549.2 531.7 L570.0 547.5 L605.2 614.1" fill="none" stroke="#8e8e8e" stroke-width="4.3" stroke-linecap="round" stroke-linejoin="round"/>
<path d="M549.2 531.7 L570.0 547.5 L605.2 614.1" fill="none" stroke="#a6a6a6" stroke-width="3.2" stroke-linecap="round" stroke-linejoin="round"/>
<path d="M549.2 531.7 L550.4 587.7" fill="none" stroke="#8e8e8e" stroke-width="4.3" stroke-linecap="round" stroke-linejoin="round"/>
<path d="M549.2 531.7 L550.4 587.7" fill="none" stroke="#a6a6a6" stroke-width="3.2" stroke-linecap="round" stroke-linejoin="round"/>
<path d="M549.2 531.7 L519.5 563.5 L526.5 573.0" fill="none" stroke="#8e8e8e" stroke-width="4.3" stroke-linecap="round" stroke-linejoin="round"/>
<path d="M549.2 531.7 L519.5 563.5 L526.5 573.0" fill="none" stroke="#a6a6a6" stroke-width="3.2" stroke-linecap="round" stroke-linejoin="round"/>
<path d="M549.2 531.7 L517.4 539.0 L460.5 527.3" fill="none" stroke="#8e8e8e" stroke-width="4.3" stroke-linecap="round" stroke-linejoin="round"/>
<path d="M549.2 531.7 L517.4 539.0 L460.5 527.3" fill="none" stroke="#a6a6a6" stroke-width="3.2" stroke-linecap="round" stroke-linejoin="round"/>
<path d="M549.2 531.7 L486.3 495.5" fill="none" stroke="#8e8e8e" stroke-width="4.3" stroke-linecap="round" stroke-linejoin="round"/>
<path d="M549.2 531.7 L486.3 495.5" fill="none" stroke="#a6a6a6" stroke-width="3.2" stroke-linecap="round" stroke-linejoin="round"/>
<circle cx="497.4" cy="485.5" r="1.35" fill="#000"/>
<circle cx="485.7" cy="496.1" r="1.35" fill="#000"/>
<circle cx="497.4" cy="497.6" r="1.35" fill="#000"/>
<circle cx="499.2" cy="500.8" r="1.35" fill="#000"/>
<circle cx="470" cy="501" r="1.35" fill="#000"/>
<circle cx="491.9" cy="505.4" r="1.35" fill="#000"/>
<circle cx="488" cy="512.1" r="1.35" fill="#000"/>
<circle cx="494.7" cy="511.6" r="1.35" fill="#000"/>
<circle cx="480.3" cy="514.9" r="1.35" fill="#000"/>
<circle cx="497.2" cy="516.5" r="1.35" fill="#000"/>
<circle cx="498.1" cy="516.7" r="1.35" fill="#000"/>
<circle cx="501.8" cy="516.9" r="1.35" fill="#000"/>
<circle cx="508.2" cy="512.2" r="1.35" fill="#000"/>
<circle cx="522" cy="487.5" r="1.35" fill="#000"/>
<circle cx="542.7" cy="496.9" r="1.35" fill="#000"/>
<circle cx="547.8" cy="496.1" r="1.35" fill="#000"/>
<circle cx="524.4" cy="501" r="1.35" fill="#000"/>
<circle cx="537.7" cy="503.4" r="1.35" fill="#000"/>
<circle cx="521.3" cy="505.4" r="1.35" fill="#000"/>
<circle cx="541.9" cy="506.4" r="1.35" fill="#000"/>
<circle cx="545.5" cy="509.9" r="1.35" fill="#000"/>
<circle cx="532.8" cy="511.2" r="1.35" fill="#000"/>
<circle cx="538.8" cy="512.9" r="1.35" fill="#000"/>
<circle cx="527.9" cy="511.8" r="1.35" fill="#000"/>
<circle cx="541" cy="517.1" r="1.35" fill="#000"/>
<circle cx="515.1" cy="513.1" r="1.35" fill="#000"/>
<circle cx="518.8" cy="514.2" r="1.35" fill="#000"/>
<circle cx="556" cy="502.1" r="1.35" fill="#000"/>
<circle cx="552" cy="504.9" r="1.35" fill="#000"/>
<circle cx="556.7" cy="512.7" r="1.35" fill="#000"/>
<circle cx="554.7" cy="513.8" r="1.35" fill="#000"/>
<circle cx="554.7" cy="515.6" r="1.35" fill="#000"/>
<circle cx="559.6" cy="512.7" r="1.35" fill="#000"/>
<circle cx="562.9" cy="488.6" r="1.35" fill="#000"/>
<circle cx="563.4" cy="506.3" r="1.35" fill="#000"/>
<circle cx="564.9" cy="506" r="1.35" fill="#000"/>
<circle cx="571.6" cy="506.3" r="1.35" fill="#000"/>
<circle cx="556.5" cy="512.7" r="1.35" fill="#000"/>
<circle cx="559.5" cy="512.3" r="1.35" fill="#000"/>
<circle cx="562.3" cy="512.9" r="1.35" fill="#000"/>
<circle cx="568" cy="512.3" r="1.35" fill="#000"/>
<circle cx="569.6" cy="512" r="1.35" fill="#000"/>
<circle cx="561.9" cy="516.6" r="1.35" fill="#000"/>
<circle cx="595" cy="511.1" r="1.35" fill="#000"/>
<circle cx="601" cy="517.8" r="1.35" fill="#000"/>
<circle cx="572.5" cy="517.4" r="1.35" fill="#000"/>
<circle cx="570.7" cy="518.2" r="1.35" fill="#000"/>
<circle cx="601.1" cy="517.8" r="1.35" fill="#000"/>
<circle cx="606.7" cy="520.4" r="1.35" fill="#000"/>
<circle cx="608" cy="524.3" r="1.35" fill="#000"/>
<circle cx="611.5" cy="528.9" r="1.35" fill="#000"/>
<circle cx="618.6" cy="536.8" r="1.35" fill="#000"/>
<circle cx="609" cy="540.4" r="1.35" fill="#000"/>
<circle cx="479.6" cy="521.7" r="1.35" fill="#000"/>
<circle cx="471.2" cy="525.2" r="1.35" fill="#000"/>
<circle cx="460.4" cy="527.6" r="1.35" fill="#000"/>
<circle cx="502.3" cy="526.1" r="1.35" fill="#000"/>
<circle cx="494.9" cy="534.7" r="1.35" fill="#000"/>
<circle cx="498" cy="537.3" r="1.35" fill="#000"/>
<circle cx="475" cy="544" r="1.35" fill="#000"/>
<circle cx="501.4" cy="542.2" r="1.35" fill="#000"/>
<circle cx="507.3" cy="547.1" r="1.35" fill="#000"/>
<circle cx="497.8" cy="561.4" r="1.35" fill="#000"/>
<circle cx="506.7" cy="564.5" r="1.35" fill="#000"/>
<circle cx="541" cy="517" r="1.35" fill="#000"/>
<circle cx="532.4" cy="520.1" r="1.35" fill="#000"/>
<circle cx="524.3" cy="520.8" r="1.35" fill="#000"/>
<circle cx="524.7" cy="522.3" r="1.35" fill="#000"/>
<circle cx="524.1" cy="523.6" r="1.35" fill="#000"/>
<circle cx="525.8" cy="524.1" r="1.35" fill="#000"/>
<circle cx="518.9" cy="525.2" r="1.35" fill="#000"/>
<circle cx="525.8" cy="527.6" r="1.35" fill="#000"/>
<circle cx="522.5" cy="529.2" r="1.35" fill="#000"/>
<circle cx="529.8" cy="528.9" r="1.35" fill="#000"/>
<circle cx="523.6" cy="536.2" r="1.35" fill="#000"/>
<circle cx="522.9" cy="537.6" r="1.35" fill="#000"/>
<circle cx="524.7" cy="536.9" r="1.35" fill="#000"/>
<circle cx="526.5" cy="538.2" r="1.35" fill="#000"/>
<circle cx="517.4" cy="539.1" r="1.35" fill="#000"/>
<circle cx="526.9" cy="542.7" r="1.35" fill="#000"/>
<circle cx="528" cy="544.9" r="1.35" fill="#000"/>
<circle cx="507.2" cy="547.1" r="1.35" fill="#000"/>
<circle cx="510.8" cy="546.4" r="1.35" fill="#000"/>
<circle cx="513.6" cy="544.6" r="1.35" fill="#000"/>
<circle cx="518.5" cy="546.9" r="1.35" fill="#000"/>
<circle cx="520.3" cy="549.3" r="1.35" fill="#000"/>
<circle cx="533.8" cy="547.1" r="1.35" fill="#000"/>
<circle cx="519.2" cy="555.1" r="1.35" fill="#000"/>
<circle cx="526.9" cy="554.8" r="1.35" fill="#000"/>
<circle cx="530.2" cy="554.4" r="1.35" fill="#000"/>
<circle cx="523.2" cy="558.6" r="1.35" fill="#000"/>
<circle cx="520" cy="563.5" r="1.35" fill="#000"/>
<circle cx="541.5" cy="555.5" r="1.35" fill="#000"/>
<circle cx="539.2" cy="559.2" r="1.35" fill="#000"/>
<circle cx="536" cy="560.8" r="1.35" fill="#000"/>
<circle cx="543" cy="560.6" r="1.35" fill="#000"/>
<circle cx="544.8" cy="560.8" r="1.35" fill="#000"/>
<circle cx="542.2" cy="561.7" r="1.35" fill="#000"/>
<circle cx="553.2" cy="561.7" r="1.35" fill="#000"/>
<circle cx="506.8" cy="564.6" r="1.35" fill="#000"/>
<circle cx="554.7" cy="515.6" r="1.35" fill="#000"/>
<circle cx="562" cy="516.8" r="1.35" fill="#000"/>
<circle cx="562.8" cy="518.3" r="1.35" fill="#000"/>
<circle cx="569.3" cy="518.6" r="1.35" fill="#000"/>
<circle cx="571.2" cy="517.9" r="1.35" fill="#000"/>
<circle cx="573" cy="517.8" r="1.35" fill="#000"/>
<circle cx="567.9" cy="520.8" r="1.35" fill="#000"/>
<circle cx="568.6" cy="522.3" r="1.35" fill="#000"/>
<circle cx="581" cy="520.7" r="1.35" fill="#000"/>
<circle cx="567.9" cy="526" r="1.35" fill="#000"/>
<circle cx="569.7" cy="526.7" r="1.35" fill="#000"/>
<circle cx="571.5" cy="526" r="1.35" fill="#000"/>
<circle cx="573.4" cy="527.4" r="1.35" fill="#000"/>
<circle cx="572.6" cy="528.5" r="1.35" fill="#000"/>
<circle cx="576.6" cy="527.6" r="1.35" fill="#000"/>
<circle cx="580.3" cy="527.8" r="1.35" fill="#000"/>
<circle cx="590.5" cy="526" r="1.35" fill="#000"/>
<circle cx="592.3" cy="526.7" r="1.35" fill="#000"/>
<circle cx="594.9" cy="525.6" r="1.35" fill="#000"/>
<circle cx="584.7" cy="533.6" r="1.35" fill="#000"/>
<circle cx="586.9" cy="536.2" r="1.35" fill="#000"/>
<circle cx="592.3" cy="534" r="1.35" fill="#000"/>
<circle cx="594.2" cy="534.1" r="1.35" fill="#000"/>
<circle cx="579.9" cy="533.1" r="1.35" fill="#000"/>
<circle cx="568.8" cy="536" r="1.35" fill="#000"/>
<circle cx="575.9" cy="536.9" r="1.35" fill="#000"/>
<circle cx="575.2" cy="539.1" r="1.35" fill="#000"/>
<circle cx="575.5" cy="540.9" r="1.35" fill="#000"/>
<circle cx="573" cy="543.1" r="1.35" fill="#000"/>
<circle cx="586.1" cy="540.7" r="1.35" fill="#000"/>
<circle cx="587.2" cy="543.8" r="1.35" fill="#000"/>
<circle cx="570.1" cy="545.3" r="1.35" fill="#000"/>
<circle cx="570.4" cy="547.5" r="1.35" fill="#000"/>
<circle cx="575.5" cy="547.1" r="1.35" fill="#000"/>
<circle cx="578.1" cy="548.9" r="1.35" fill="#000"/>
<circle cx="589.1" cy="547.1" r="1.35" fill="#000"/>
<circle cx="597.1" cy="548.7" r="1.35" fill="#000"/>
<circle cx="597.1" cy="551.9" r="1.35" fill="#000"/>
<circle cx="573.2" cy="552.4" r="1.35" fill="#000"/>
<circle cx="587.2" cy="553.3" r="1.35" fill="#000"/>
<circle cx="559.9" cy="555.1" r="1.35" fill="#000"/>
<circle cx="563.5" cy="555.5" r="1.35" fill="#000"/>
<circle cx="562.8" cy="557" r="1.35" fill="#000"/>
<circle cx="565.7" cy="557.3" r="1.35" fill="#000"/>
<circle cx="565.3" cy="558.8" r="1.35" fill="#000"/>
<circle cx="566.8" cy="557.7" r="1.35" fill="#000"/>
<circle cx="582.1" cy="558.8" r="1.35" fill="#000"/>
<circle cx="585.8" cy="558.4" r="1.35" fill="#000"/>
<circle cx="553.3" cy="562.1" r="1.35" fill="#000"/>
<circle cx="555.1" cy="562.8" r="1.35" fill="#000"/>
<circle cx="571.9" cy="562.8" r="1.35" fill="#000"/>
<circle cx="500.3" cy="566.4" r="1.35" fill="#000"/>
<circle cx="516.5" cy="569.9" r="1.35" fill="#000"/>
<circle cx="512.9" cy="577.9" r="1.35" fill="#000"/>
<circle cx="498.6" cy="584.8" r="1.35" fill="#000"/>
<circle cx="527.7" cy="574.2" r="1.35" fill="#000"/>
<circle cx="529.3" cy="564.7" r="1.35" fill="#000"/>
<circle cx="530.8" cy="568.6" r="1.35" fill="#000"/>
<circle cx="533" cy="567.9" r="1.35" fill="#000"/>
<circle cx="534.4" cy="568.2" r="1.35" fill="#000"/>
<circle cx="535.9" cy="561.1" r="1.35" fill="#000"/>
<circle cx="539.9" cy="565.7" r="1.35" fill="#000"/>
<circle cx="540.3" cy="568.8" r="1.35" fill="#000"/>
<circle cx="537.3" cy="573.1" r="1.35" fill="#000"/>
<circle cx="539.9" cy="576.8" r="1.35" fill="#000"/>
<circle cx="542.8" cy="576.8" r="1.35" fill="#000"/>
<circle cx="544.3" cy="581.9" r="1.35" fill="#000"/>
<circle cx="543.2" cy="585.9" r="1.35" fill="#000"/>
<circle cx="544.3" cy="588.8" r="1.35" fill="#000"/>
<circle cx="541.7" cy="561.1" r="1.35" fill="#000"/>
<circle cx="543.2" cy="561.3" r="1.35" fill="#000"/>
<circle cx="544.4" cy="560.7" r="1.35" fill="#000"/>
<circle cx="553.1" cy="562.2" r="1.35" fill="#000"/>
<circle cx="555.3" cy="562.9" r="1.35" fill="#000"/>
<circle cx="571.8" cy="562.8" r="1.35" fill="#000"/>
<circle cx="540.4" cy="565.8" r="1.35" fill="#000"/>
<circle cx="545.5" cy="569.9" r="1.35" fill="#000"/>
<circle cx="546.6" cy="572.4" r="1.35" fill="#000"/>
<circle cx="553.9" cy="568.9" r="1.35" fill="#000"/>
<circle cx="555.7" cy="577.9" r="1.35" fill="#000"/>
<circle cx="557.5" cy="575.3" r="1.35" fill="#000"/>
<circle cx="558.6" cy="574.6" r="1.35" fill="#000"/>
<circle cx="561.5" cy="572.4" r="1.35" fill="#000"/>
<circle cx="561.5" cy="575.7" r="1.35" fill="#000"/>
<circle cx="563.4" cy="576.9" r="1.35" fill="#000"/>
<circle cx="567.6" cy="578.8" r="1.35" fill="#000"/>
<circle cx="569.1" cy="575.3" r="1.35" fill="#000"/>
<circle cx="544.5" cy="581.9" r="1.35" fill="#000"/>
<circle cx="546.2" cy="584.1" r="1.35" fill="#000"/>
<circle cx="542.9" cy="586.4" r="1.35" fill="#000"/>
<circle cx="544.4" cy="589.1" r="1.35" fill="#000"/>
<circle cx="550.6" cy="587.9" r="1.35" fill="#000"/>
<circle cx="579.3" cy="566.7" r="1.35" fill="#000"/>
<circle cx="578.5" cy="589.8" r="1.35" fill="#000"/>
<circle cx="584.9" cy="586.6" r="1.35" fill="#000"/>
<circle cx="587.8" cy="594.2" r="1.35" fill="#000"/>
<circle cx="587.4" cy="606" r="1.35" fill="#000"/>
<circle cx="586.1" cy="540.7" r="1.35" fill="#000"/>
<circle cx="587.1" cy="543.7" r="1.35" fill="#000"/>
<circle cx="589.1" cy="547.1" r="1.35" fill="#000"/>
<circle cx="597" cy="548.8" r="1.35" fill="#000"/>
<circle cx="587.4" cy="553.5" r="1.35" fill="#000"/>
<circle cx="609.3" cy="555.7" r="1.35" fill="#000"/>
<circle cx="585.7" cy="558.3" r="1.35" fill="#000"/>
<circle cx="605.1" cy="560.4" r="1.35" fill="#000"/>
<circle cx="595.5" cy="569" r="1.35" fill="#000"/>
<circle cx="604.3" cy="572" r="1.35" fill="#000"/>
<circle cx="598.6" cy="575" r="1.35" fill="#000"/>
<circle cx="585.4" cy="586.8" r="1.35" fill="#000"/>
<circle cx="588" cy="594" r="1.35" fill="#000"/>
<circle cx="604.8" cy="615" r="1.35" fill="#000"/>
<circle cx="604.9" cy="559.5" r="1.35" fill="#000"/>
<path d="M549.20 531.70 L548.59 531.70 L547.99 531.70 L547.38 531.70 L546.77 531.70 L546.16 531.70 L545.55 531.70 L544.94 531.70 L544.32 531.70 L543.71 531.69 L543.10 531.69 L542.48 531.69 L541.87 531.69 L541.25 531.69 L540.63 531.69 L540.01 531.68 L539.39 531.68 L538.78 531.68 L538.15 531.68 L537.53 531.68 L536.91 531.67 L536.29 531.67 L535.66 531.67 L535.04 531.66 L534.41 531.66 L533.79 531.66 L533.16 531.65 L532.53 531.65 L531.90 531.65 L531.28 531.64 L530.64 531.64 L530.01 531.63 L529.38 531.63 L528.75 531.62 L528.11 531.62 L527.48 531.61 L526.84 531.61 L526.21 531.60 L525.57 531.60 L524.93 531.59 L524.29 531.59 L523.65 531.58 L523.01 531.57 L522.37 531.57 L521.73 531.56 L521.09 531.55 L520.44 531.55 L519.80 531.54 L519.15 531.53 L518.50 531.53 L517.86 531.52 L517.21 531.51 L516.56 531.50 L515.91 531.50 L515.26 531.49 L514.60 531.48 L513.95 531.47 L513.30 531.46 L512.64 531.45 L511.99 531.44 L511.33 531.44 L510.67 531.43 L510.01 531.42 L509.35 531.41 L508.69 531.40 L508.03 531.39 L507.37 531.38 L506.71 531.37 L506.04 531.36 L505.38 531.35 L504.71 531.33 L504.04 531.32 L503.37 531.31 L502.71 531.30 L502.04 531.29 L501.37 531.28 L500.69 531.26 L500.02 531.25 L499.35 531.24 L498.67 531.23 L498.00 531.21 L497.32 531.20 L496.64 531.19 L495.96 531.17 L495.28 531.16 L494.60 531.15 L493.92 531.13 L493.24 531.12 L492.56 531.10 L491.87 531.09 L491.19 531.08 L490.50 531.06 L489.81 531.05 L489.12 531.03 L488.43 531.01 L487.74 531.00 L487.05 530.98 L486.36 530.97 L485.67 530.95 L484.97 530.93 L484.28 530.92 L483.58 530.90 L482.88 530.88 L482.18 530.86 L481.48 530.85 L480.78 530.83 L480.08 530.81 L479.38 530.79 L478.67 530.77 L477.97 530.76 L477.26 530.74 L476.56 530.72 L475.85 530.70 L475.14 530.68 L474.43 530.66 L473.72 530.64 L473.00 530.62 L472.29 530.60 L471.58 530.58 L470.86 530.56 L470.14 530.53 L469.43 530.51 L468.71 530.49 L467.99 530.47 L467.26 530.45 L466.54 530.42 L465.82 530.40 L465.09 530.38 L464.37 530.36 L463.64 530.33 L462.91 530.31 L462.19 530.28 L461.45 530.26 L460.72 530.24 L459.99 530.21 L459.26 530.19 L458.52 530.16 L457.79 530.14 L457.05 530.11 L456.31 530.09 L455.57 530.06 L454.83 530.03 L454.09 530.01 L453.35 529.98 L452.60 529.95 L451.86 529.92 L451.11 529.90 L450.36 529.87 L449.61 529.84 L448.86 529.81 L448.11 529.78 L447.36 529.75 L446.61 529.73 L445.85 529.70 L445.10 529.67 L444.34 529.64 L443.58 529.61 L442.82 529.58 L442.06 529.54 L441.30 529.51 L440.53 529.48 L439.77 529.45 L439.00 529.42 L438.23 529.39 L437.47 529.35 L436.70 529.32 L435.93 529.29 L435.15 529.25 L434.38 529.22 L433.60 529.19 L432.83 529.15 L432.05 529.12 L431.27 529.08 L430.49 529.05 L429.71 529.01 L428.93 528.98 L428.14 528.94 L427.36 528.90 L426.57 528.87 L425.78 528.83 L425.00 528.79 L424.20 528.75 L423.41 528.72 L422.62 528.68 L421.82 528.64 L421.03 528.60 L420.23 528.56 L419.43 528.52 L418.63 528.48 L417.83 528.44 L417.03 528.40 L416.22 528.36 L415.42 528.32 L414.61 528.28 L413.80 528.24 L412.99 528.19 L412.18 528.15 L411.37 528.11 L410.56 528.07 L409.74 528.02 L408.92 527.98 L408.11 527.93 L407.29 527.89 L406.46 527.84 L405.64 527.80 L404.82 527.75 L403.99 527.71 L403.16 527.66 L402.34 527.62 L401.51 527.57 L400.68 527.52 L399.84 527.47 L399.01 527.43 L398.17 527.38 L397.33 527.33 L396.50 527.28 L395.66 527.23 L394.81 527.18 L393.97 527.13 L393.12 527.08 L392.28 527.03" fill="none" stroke="#ff0000" stroke-width="2.8" stroke-linejoin="round" style="mix-blend-mode:multiply"/>
<path d="M549.20 531.70 L548.77 532.13 L548.35 532.57 L547.92 533.00 L547.50 533.45 L547.08 533.89 L546.66 534.34 L546.24 534.79 L545.83 535.25 L545.41 535.71 L545.00 536.18 L544.59 536.65 L544.18 537.12 L543.78 537.60 L543.37 538.08 L542.97 538.57 L542.57 539.06 L542.17 539.56 L541.77 540.06 L541.38 540.56 L540.99 541.07 L540.60 541.58 L540.21 542.10 L539.82 542.62 L539.44 543.15 L539.06 543.68 L538.68 544.22 L538.30 544.76 L537.93 545.31 L537.55 545.86 L537.18 546.42 L536.82 546.98 L536.45 547.55 L536.09 548.12 L535.73 548.70 L535.37 549.28 L535.01 549.87 L534.66 550.47 L534.30 551.07 L533.96 551.67 L533.61 552.29 L533.27 552.90 L532.92 553.53 L532.59 554.16 L532.25 554.79 L531.92 555.43 L531.59 556.08 L531.26 556.73 L530.93 557.39 L530.61 558.06 L530.29 558.74 L529.97 559.42 L529.66 560.10 L529.35 560.80 L529.04 561.50 L528.74 562.20 L528.43 562.92 L528.14 563.64 L527.84 564.37 L527.55 565.10 L527.26 565.85 L526.97 566.60 L526.69 567.36 L526.41 568.13 L526.13 568.90 L525.86 569.68 L525.59 570.47 L525.33 571.27 L525.06 572.08 L524.80 572.90 L524.55 573.72 L524.30 574.55 L524.05 575.40 L523.81 576.25 L523.57 577.11 L523.33 577.98 L523.10 578.85 L522.87 579.74 L522.64 580.64 L522.42 581.55 L522.21 582.46 L522.00 583.39 L521.79 584.33 L521.59 585.28 L521.39 586.23 L521.19 587.20 L521.00 588.18 L520.82 589.18 L520.64 590.18 L520.46 591.19 L520.29 592.22 L520.12 593.25 L519.96 594.30 L519.80 595.36 L519.65 596.44 L519.51 597.52 L519.37 598.62 L519.23 599.73 L519.10 600.86 L518.98 602.00 L518.86 603.15 L518.74 604.31 L518.64 605.49 L518.53 606.69 L518.44 607.89 L518.35 609.12 L518.26 610.35 L518.19 611.61 L518.12 612.88 L518.05 614.16 L517.99 615.46 L517.94 616.78 L517.90 618.11 L517.86 619.47 L517.83 620.83 L517.81 622.22 L517.79 623.62 L517.78 625.05 L517.78 626.49 L517.79 627.95 L517.80 629.43 L517.82 630.93 L517.85 632.44 L517.89 633.98 L517.94 635.54 L517.99 637.13 L518.06 638.73 L518.13 640.35 L518.21 642.00 L518.31 643.67 L518.41 645.37 L518.52 647.09 L518.64 648.83 L518.77 650.60 L518.91 652.39 L519.06 654.21 L519.22 656.05 L519.40 657.93 L519.58 659.83 L519.77 661.76 L519.98 663.71 L520.20 665.70 L520.43 667.72 L520.67 669.76 L520.93 671.84 L521.20 673.95 L521.48 676.10 L521.77 678.28 L522.08 680.49 L522.40 682.73 L522.74 685.02 L523.09 687.34 L523.46 689.70 L523.84 692.09 L524.24 694.53 L524.65 697.00 L525.08 699.52 L525.53 702.08" fill="none" stroke="#ff0000" stroke-width="2.8" stroke-linejoin="round" style="mix-blend-mode:multiply"/>
<path d="M549.20 531.70 L549.20 532.31 L549.20 532.92 L549.21 533.54 L549.21 534.17 L549.21 534.80 L549.22 535.44 L549.23 536.08 L549.24 536.73 L549.25 537.39 L549.26 538.05 L549.27 538.72 L549.29 539.39 L549.30 540.08 L549.32 540.76 L549.34 541.46 L549.36 542.16 L549.38 542.87 L549.40 543.58 L549.43 544.30 L549.45 545.03 L549.48 545.77 L549.51 546.51 L549.54 547.26 L549.57 548.02 L549.60 548.78 L549.64 549.56 L549.67 550.34 L549.71 551.13 L549.75 551.93 L549.79 552.73 L549.83 553.55 L549.88 554.37 L549.92 555.20 L549.97 556.04 L550.02 556.89 L550.07 557.75 L550.12 558.61 L550.18 559.49 L550.23 560.37 L550.29 561.27 L550.35 562.17 L550.41 563.09 L550.48 564.01 L550.54 564.95 L550.61 565.89 L550.68 566.85 L550.75 567.82 L550.83 568.79 L550.90 569.78 L550.98 570.78 L551.06 571.79 L551.15 572.82 L551.23 573.85 L551.32 574.90 L551.41 575.96 L551.50 577.03 L551.59 578.11 L551.69 579.21 L551.79 580.32 L551.89 581.45 L551.99 582.58 L552.10 583.73 L552.21 584.90 L552.32 586.08 L552.44 587.27 L552.55 588.48 L552.67 589.71 L552.80 590.95 L552.92 592.20 L553.05 593.48 L553.18 594.76 L553.32 596.07 L553.46 597.39 L553.60 598.73 L553.74 600.09 L553.89 601.46 L554.04 602.85 L554.20 604.27 L554.35 605.70 L554.52 607.15 L554.68 608.62 L554.85 610.11 L555.02 611.62 L555.20 613.15 L555.38 614.71 L555.56 616.28 L555.75 617.88 L555.94 619.50 L556.14 621.15 L556.34 622.81 L556.55 624.51 L556.76 626.23 L556.97 627.97 L557.19 629.74 L557.41 631.54 L557.64 633.36 L557.88 635.21 L558.11 637.09 L558.36 639.00 L558.61 640.94 L558.86 642.92 L559.12 644.92 L559.39 646.95 L559.66 649.02 L559.94 651.12 L560.22 653.26 L560.51 655.43 L560.81 657.63 L561.11 659.88 L561.42 662.16 L561.74 664.48 L562.06 666.84 L562.39 669.25 L562.73 671.69 L563.08 674.18 L563.43 676.71 L563.79 679.29 L564.16 681.92 L564.54 684.59 L564.93 687.31 L565.33 690.09 L565.73 692.91 L566.15 695.79 L566.57 698.73 L567.01 701.72" fill="none" stroke="#ff0000" stroke-width="2.8" stroke-linejoin="round" style="mix-blend-mode:multiply"/>
<path d="M549.20 531.70 L549.63 532.13 L550.06 532.56 L550.48 532.99 L550.90 533.43 L551.33 533.87 L551.75 534.30 L552.17 534.74 L552.59 535.19 L553.01 535.63 L553.42 536.07 L553.84 536.52 L554.25 536.97 L554.66 537.42 L555.08 537.88 L555.49 538.33 L555.90 538.79 L556.30 539.25 L556.71 539.71 L557.11 540.17 L557.52 540.63 L557.92 541.10 L558.32 541.57 L558.72 542.04 L559.12 542.51 L559.52 542.99 L559.92 543.46 L560.31 543.94 L560.70 544.42 L561.10 544.91 L561.49 545.39 L561.88 545.88 L562.27 546.37 L562.66 546.86 L563.04 547.36 L563.43 547.86 L563.81 548.35 L564.20 548.86 L564.58 549.36 L564.96 549.87 L565.34 550.38 L565.72 550.89 L566.09 551.40 L566.47 551.92 L566.84 552.44 L567.22 552.96 L567.59 553.48 L567.96 554.01 L568.33 554.54 L568.70 555.07 L569.07 555.60 L569.44 556.14 L569.80 556.68 L570.17 557.22 L570.53 557.77 L570.89 558.32 L571.25 558.87 L571.61 559.42 L571.97 559.98 L572.33 560.54 L572.69 561.10 L573.04 561.66 L573.40 562.23 L573.75 562.81 L574.10 563.38 L574.45 563.96 L574.80 564.54 L575.15 565.12 L575.50 565.71 L575.84 566.30 L576.19 566.90 L576.53 567.49 L576.88 568.09 L577.22 568.70 L577.56 569.30 L577.90 569.91 L578.24 570.53 L578.58 571.15 L578.91 571.77 L579.25 572.39 L579.58 573.02 L579.92 573.65 L580.25 574.29 L580.58 574.93 L580.91 575.57 L581.24 576.22 L581.57 576.87 L581.89 577.53 L582.22 578.19 L582.54 578.85 L582.87 579.52 L583.19 580.19 L583.51 580.86 L583.83 581.54 L584.15 582.23 L584.47 582.91 L584.78 583.61 L585.10 584.30 L585.41 585.00 L585.73 585.71 L586.04 586.42 L586.35 587.13 L586.66 587.85 L586.97 588.58 L587.28 589.31 L587.59 590.04 L587.90 590.78 L588.20 591.52 L588.50 592.27 L588.81 593.02 L589.11 593.78 L589.41 594.54 L589.71 595.31 L590.01 596.09 L590.31 596.87 L590.60 597.65 L590.90 598.44 L591.19 599.24 L591.49 600.04 L591.78 600.84 L592.07 601.65 L592.36 602.47 L592.65 603.30 L592.94 604.13 L593.23 604.96 L593.51 605.80 L593.80 606.65 L594.08 607.50 L594.36 608.37 L594.64 609.23 L594.92 610.10 L595.20 610.98 L595.48 611.87 L595.76 612.76 L596.04 613.66 L596.31 614.57 L596.58 615.48 L596.86 616.40 L597.13 617.33 L597.40 618.26 L597.67 619.21 L597.94 620.16 L598.21 621.11 L598.47 622.08 L598.74 623.05 L599.00 624.03 L599.26 625.02 L599.53 626.01 L599.79 627.01 L600.05 628.03 L600.30 629.05 L600.56 630.07 L600.82 631.11 L601.07 632.16 L601.33 633.21 L601.58 634.27 L601.83 635.35 L602.08 636.43 L602.33 637.52 L602.58 638.62 L602.83 639.73 L603.07 640.85 L603.32 641.98 L603.56 643.12 L603.80 644.26 L604.04 645.42 L604.28 646.59 L604.52 647.77 L604.76 648.96 L604.99 650.16 L605.23 651.38 L605.46 652.60 L605.70 653.84 L605.93 655.08 L606.16 656.34 L606.39 657.61 L606.61 658.89 L606.84 660.18 L607.07 661.49 L607.29 662.81 L607.51 664.14 L607.73 665.48 L607.95 666.84 L608.17 668.21 L608.39 669.60 L608.60 670.99 L608.82 672.41 L609.03 673.83 L609.24 675.27 L609.46 676.73 L609.66 678.20 L609.87 679.68 L610.08 681.18 L610.28 682.70 L610.49 684.23 L610.69 685.78 L610.89 687.34 L611.09 688.92 L611.29 690.52 L611.48 692.13 L611.68 693.77 L611.87 695.42 L612.06 697.08 L612.26 698.77 L612.44 700.48 L612.63 702.20" fill="none" stroke="#ff0000" stroke-width="2.8" stroke-linejoin="round" style="mix-blend-mode:multiply"/>
<path d="M549.20 531.70 L549.81 531.70 L550.41 531.70 L551.02 531.70 L551.62 531.70 L552.22 531.70 L552.83 531.70 L553.43 531.70 L554.03 531.70 L554.63 531.69 L555.23 531.69 L555.82 531.69 L556.42 531.69 L557.02 531.69 L557.62 531.69 L558.21 531.69 L558.81 531.68 L559.40 531.68 L559.99 531.68 L560.58 531.68 L561.18 531.67 L561.77 531.67 L562.36 531.67 L562.95 531.67 L563.54 531.66 L564.12 531.66 L564.71 531.66 L565.30 531.65 L565.88 531.65 L566.47 531.65 L567.05 531.64 L567.64 531.64 L568.22 531.63 L568.80 531.63 L569.38 531.63 L569.96 531.62 L570.54 531.62 L571.12 531.61 L571.70 531.61 L572.28 531.60 L572.86 531.60 L573.43 531.59 L574.01 531.59 L574.58 531.58 L575.16 531.58 L575.73 531.57 L576.30 531.57 L576.88 531.56 L577.45 531.56 L578.02 531.55 L578.59 531.54 L579.16 531.54 L579.73 531.53 L580.30 531.53 L580.86 531.52 L581.43 531.51 L582.00 531.51 L582.56 531.50 L583.13 531.49 L583.69 531.49 L584.25 531.48 L584.82 531.47 L585.38 531.46 L585.94 531.46 L586.50 531.45 L587.06 531.44 L587.62 531.43 L588.18 531.43 L588.74 531.42 L589.29 531.41 L589.85 531.40 L590.41 531.39 L590.96 531.39 L591.52 531.38 L592.07 531.37 L592.62 531.36 L593.18 531.35 L593.73 531.34 L594.28 531.33 L594.83 531.33 L595.38 531.32 L595.93 531.31 L596.48 531.30 L597.03 531.29 L597.58 531.28 L598.12 531.27 L598.67 531.26 L599.22 531.25 L599.76 531.24 L600.31 531.23 L600.85 531.22 L601.39 531.21 L601.94 531.20 L602.48 531.19 L603.02 531.18 L603.56 531.17 L604.10 531.16 L604.64 531.15 L605.18 531.14 L605.72 531.13 L606.25 531.12 L606.79 531.11 L607.33 531.10 L607.86 531.08 L608.40 531.07 L608.93 531.06 L609.47 531.05 L610.00 531.04 L610.53 531.03 L611.07 531.02 L611.60 531.00 L612.13 530.99 L612.66 530.98 L613.19 530.97 L613.72 530.96 L614.25 530.94 L614.77 530.93 L615.30 530.92 L615.83 530.91 L616.35 530.90 L616.88 530.88 L617.40 530.87 L617.93 530.86 L618.45 530.84 L618.98 530.83 L619.50 530.82 L620.02 530.81 L620.54 530.79 L621.06 530.78 L621.58 530.77 L622.10 530.75 L622.62 530.74 L623.14 530.73 L623.66 530.71 L624.18 530.70 L624.69 530.69 L625.21 530.67 L625.73 530.66 L626.24 530.64 L626.76 530.63 L627.27 530.62 L627.78 530.60 L628.30 530.59 L628.81 530.57 L629.32 530.56 L629.83 530.54 L630.34 530.53 L630.85 530.52 L631.36 530.50 L631.87 530.49 L632.38 530.47 L632.89 530.46 L633.40 530.44 L633.90 530.43 L634.41 530.41 L634.92 530.40 L635.42 530.38 L635.93 530.37 L636.43 530.35 L636.93 530.34 L637.44 530.32 L637.94 530.31 L638.44 530.29 L638.94 530.27 L639.44 530.26 L639.94 530.24 L640.44 530.23 L640.94 530.21 L641.44 530.19 L641.94 530.18 L642.44 530.16" fill="none" stroke="#ff0000" stroke-width="2.8" stroke-linejoin="round" style="mix-blend-mode:multiply"/>
<path d="M549.20 531.70 L549.63 531.27 L550.06 530.85 L550.49 530.43 L550.93 530.01 L551.37 529.60 L551.80 529.19 L552.24 528.79 L552.68 528.38 L553.13 527.98 L553.57 527.59 L554.02 527.20 L554.47 526.81 L554.92 526.42 L555.37 526.04 L555.82 525.66 L556.27 525.28 L556.73 524.91 L557.18 524.54 L557.64 524.17 L558.10 523.81 L558.56 523.45 L559.03 523.09 L559.49 522.74 L559.96 522.38 L560.42 522.03 L560.89 521.69 L561.36 521.34 L561.83 521.00 L562.30 520.67 L562.78 520.33 L563.25 520.00 L563.73 519.67 L564.21 519.34 L564.69 519.02 L565.17 518.70 L565.65 518.38 L566.13 518.06 L566.62 517.74 L567.10 517.43 L567.59 517.12 L568.08 516.82 L568.57 516.51 L569.06 516.21 L569.55 515.91 L570.04 515.61 L570.54 515.32 L571.03 515.03 L571.53 514.74 L572.03 514.45 L572.53 514.16 L573.03 513.88 L573.53 513.60 L574.03 513.32 L574.53 513.05 L575.04 512.77 L575.54 512.50 L576.05 512.23 L576.56 511.96 L577.07 511.70 L577.58 511.43 L578.09 511.17 L578.60 510.91 L579.12 510.65 L579.63 510.40 L580.15 510.14 L580.66 509.89 L581.18 509.64 L581.70 509.40 L582.22 509.15 L582.74 508.91 L583.27 508.66 L583.79 508.42 L584.31 508.19 L584.84 507.95 L585.36 507.72 L585.89 507.48 L586.42 507.25 L586.95 507.02 L587.48 506.80 L588.01 506.57 L588.54 506.35 L589.08 506.12 L589.61 505.90 L590.15 505.69 L590.68 505.47 L591.22 505.25 L591.76 505.04 L592.30 504.83 L592.84 504.62 L593.38 504.41 L593.92 504.20 L594.46 504.00 L595.00 503.79 L595.55 503.59 L596.09 503.39 L596.64 503.19 L597.19 502.99 L597.74 502.80 L598.28 502.60 L598.83 502.41 L599.39 502.22 L599.94 502.03 L600.49 501.84 L601.04 501.65 L601.60 501.47 L602.15 501.28 L602.71 501.10 L603.27 500.92 L603.82 500.74 L604.38 500.56 L604.94 500.38 L605.50 500.21 L606.06 500.03 L606.62 499.86 L607.19 499.69 L607.75 499.52 L608.31 499.35 L608.88 499.18 L609.45 499.02 L610.01 498.85 L610.58 498.69 L611.15 498.52 L611.72 498.36 L612.29 498.20 L612.86 498.04 L613.43 497.89 L614.00 497.73 L614.58 497.57 L615.15 497.42 L615.72 497.27 L616.30 497.12 L616.88 496.97 L617.45 496.82 L618.03 496.67 L618.61 496.52 L619.19 496.38 L619.77 496.23 L620.35 496.09 L620.93 495.95 L621.51 495.80 L622.10 495.66 L622.68 495.53 L623.27 495.39 L623.85 495.25 L624.44 495.12 L625.02 494.98 L625.61 494.85 L626.20 494.72 L626.79 494.58 L627.38 494.45 L627.97 494.32 L628.56 494.20 L629.15 494.07 L629.74 493.94 L630.34 493.82 L630.93 493.69 L631.53 493.57 L632.12 493.45 L632.72 493.33 L633.31 493.21 L633.91 493.09 L634.51 492.97 L635.11 492.85 L635.71 492.74 L636.31 492.62 L636.91 492.51 L637.51 492.39 L638.11 492.28 L638.72 492.17 L639.32 492.06 L639.92 491.95 L640.53 491.84 L641.13 491.73 L641.74 491.62 L642.35 491.52 L642.95 491.41 L643.56 491.31 L644.17 491.21 L644.78 491.10 L645.39 491.00 L646.00 490.90 L646.61 490.80 L647.23 490.70 L647.84 490.60 L648.45 490.51 L649.07 490.41 L649.68 490.31 L650.30 490.22 L650.91 490.12 L651.53 490.03" fill="none" stroke="#ff0000" stroke-width="2.8" stroke-linejoin="round" style="mix-blend-mode:multiply"/>
<path d="M549.20 531.70 L549.20 531.10 L549.20 530.50 L549.21 529.90 L549.21 529.32 L549.21 528.73 L549.22 528.16 L549.23 527.58 L549.24 527.02 L549.25 526.46 L549.26 525.90 L549.27 525.35 L549.28 524.80 L549.30 524.25 L549.31 523.72 L549.33 523.18 L549.34 522.65 L549.36 522.13 L549.38 521.61 L549.40 521.09 L549.42 520.58 L549.44 520.07 L549.47 519.57 L549.49 519.07 L549.51 518.57 L549.54 518.08 L549.57 517.60 L549.60 517.11 L549.62 516.63 L549.65 516.16 L549.68 515.69 L549.72 515.22 L549.75 514.76 L549.78 514.30 L549.81 513.84 L549.85 513.39 L549.89 512.94 L549.92 512.49 L549.96 512.05 L550.00 511.61 L550.04 511.18 L550.08 510.75 L550.12 510.32 L550.16 509.89 L550.20 509.47 L550.25 509.05 L550.29 508.64 L550.34 508.23 L550.38 507.82 L550.43 507.41 L550.48 507.01 L550.52 506.61 L550.57 506.21 L550.62 505.82 L550.67 505.43 L550.73 505.04 L550.78 504.65 L550.83 504.27 L550.89 503.89 L550.94 503.52 L551.00 503.14 L551.05 502.77 L551.11 502.40 L551.17 502.04 L551.22 501.68 L551.28 501.32 L551.34 500.96 L551.40 500.60 L551.47 500.25 L551.53 499.90 L551.59 499.55 L551.65 499.21 L551.72 498.87 L551.78 498.53 L551.85 498.19 L551.92 497.85 L551.98 497.52 L552.05 497.19 L552.12 496.86 L552.19 496.54 L552.26 496.21 L552.33 495.89 L552.40 495.57 L552.47 495.26 L552.54 494.94 L552.62 494.63 L552.69 494.32 L552.77 494.01 L552.84 493.71 L552.92 493.40 L553.00 493.10 L553.07 492.80 L553.15 492.50 L553.23 492.21 L553.31 491.91 L553.39 491.62 L553.47 491.33 L553.55 491.04 L553.63 490.76 L553.72 490.47 L553.80 490.19 L553.88 489.91 L553.97 489.63 L554.05 489.36 L554.14 489.08 L554.23 488.81 L554.31 488.54 L554.40 488.27 L554.49 488.00 L554.58 487.74 L554.67 487.47 L554.76 487.21 L554.85 486.95 L554.94 486.69 L555.04 486.43 L555.13 486.18 L555.22 485.92 L555.32 485.67 L555.41 485.42 L555.51 485.17 L555.60 484.93 L555.70 484.68 L555.80 484.44 L555.90 484.19 L555.99 483.95 L556.09 483.71 L556.19 483.47 L556.29 483.24 L556.40 483.00 L556.50 482.77 L556.60 482.54 L556.70 482.31 L556.81 482.08 L556.91 481.85 L557.02 481.62 L557.12 481.40 L557.23 481.18 L557.34 480.95 L557.44 480.73 L557.55 480.51 L557.66 480.30 L557.77 480.08 L557.88 479.87 L557.99 479.65 L558.10 479.44 L558.21 479.23 L558.33 479.02 L558.44 478.81 L558.55 478.60 L558.67 478.40 L558.78 478.19 L558.90 477.99 L559.01 477.79 L559.13 477.59 L559.25 477.39 L559.36 477.19 L559.48 476.99 L559.60 476.79 L559.72 476.60 L559.84 476.40 L559.96 476.21 L560.09 476.02 L560.21 475.83 L560.33 475.64 L560.45 475.45 L560.58 475.27" fill="none" stroke="#ff0000" stroke-width="2.8" stroke-linejoin="round" style="mix-blend-mode:multiply"/>
<path d="M549.20 531.70 L548.77 531.27 L548.34 530.85 L547.91 530.42 L547.47 530.00 L547.04 529.58 L546.60 529.16 L546.17 528.74 L545.73 528.32 L545.29 527.91 L544.84 527.49 L544.40 527.08 L543.96 526.67 L543.51 526.26 L543.06 525.85 L542.62 525.45 L542.17 525.04 L541.71 524.64 L541.26 524.24 L540.81 523.84 L540.35 523.44 L539.90 523.04 L539.44 522.64 L538.98 522.25 L538.52 521.85 L538.05 521.46 L537.59 521.07 L537.12 520.68 L536.66 520.29 L536.19 519.91 L535.72 519.52 L535.25 519.13 L534.77 518.75 L534.30 518.37 L533.82 517.99 L533.35 517.61 L532.87 517.23 L532.39 516.85 L531.91 516.48 L531.42 516.10 L530.94 515.73 L530.45 515.36 L529.96 514.98 L529.47 514.61 L528.98 514.24 L528.49 513.88 L528.00 513.51 L527.50 513.14 L527.00 512.78 L526.50 512.41 L526.00 512.05 L525.50 511.69 L525.00 511.33 L524.49 510.97 L523.99 510.61 L523.48 510.25 L522.97 509.89 L522.46 509.54 L521.94 509.18 L521.43 508.83 L520.91 508.48 L520.39 508.13 L519.87 507.77 L519.35 507.42 L518.83 507.07 L518.30 506.73 L517.78 506.38 L517.25 506.03 L516.72 505.69 L516.19 505.34 L515.65 505.00 L515.12 504.66 L514.58 504.31 L514.04 503.97 L513.50 503.63 L512.96 503.29 L512.42 502.95 L511.87 502.61 L511.32 502.28 L510.77 501.94 L510.22 501.60 L509.67 501.27 L509.12 500.93 L508.56 500.60 L508.00 500.27 L507.44 499.94 L506.88 499.60 L506.32 499.27 L505.75 498.94 L505.18 498.61 L504.61 498.29 L504.04 497.96 L503.47 497.63 L502.89 497.30 L502.32 496.98 L501.74 496.65 L501.16 496.33 L500.58 496.00 L499.99 495.68 L499.40 495.36 L498.82 495.04 L498.23 494.71 L497.63 494.39 L497.04 494.07 L496.44 493.75 L495.84 493.43 L495.24 493.12 L494.64 492.80 L494.04 492.48 L493.43 492.16 L492.82 491.85 L492.21 491.53 L491.60 491.22 L490.99 490.90 L490.37 490.59 L489.75 490.27 L489.13 489.96 L488.51 489.65 L487.88 489.34 L487.25 489.02 L486.62 488.71 L485.99 488.40 L485.36 488.09 L484.72 487.78 L484.08 487.47 L483.44 487.16 L482.80 486.85 L482.16 486.55 L481.51 486.24 L480.86 485.93 L480.21 485.62 L479.56 485.32 L478.90 485.01 L478.24 484.71 L477.58 484.40 L476.92 484.09 L476.25 483.79 L475.59 483.49 L474.92 483.18 L474.24 482.88 L473.57 482.58 L472.89 482.27 L472.21 481.97 L471.53 481.67 L470.85 481.37 L470.16 481.06 L469.47 480.76 L468.78 480.46 L468.09 480.16 L467.39 479.86 L466.69 479.56 L465.99 479.26 L465.29 478.96 L464.58 478.66 L463.87 478.36 L463.16 478.07 L462.45 477.77 L461.73 477.47 L461.01 477.17 L460.29 476.87 L459.57 476.58 L458.84 476.28 L458.11 475.98 L457.38 475.68 L456.64 475.39 L455.91 475.09 L455.17 474.79 L454.42 474.50 L453.68 474.20 L452.93 473.91 L452.18 473.61 L451.42 473.32 L450.67 473.02 L449.91 472.72 L449.15 472.43 L448.38 472.13 L447.61 471.84 L446.84 471.55 L446.07 471.25 L445.29 470.96 L444.51 470.66 L443.73 470.37 L442.95 470.07 L442.16 469.78 L441.37 469.49 L440.57 469.19 L439.78 468.90 L438.97 468.60 L438.17 468.31" fill="none" stroke="#ff0000" stroke-width="2.8" stroke-linejoin="round" style="mix-blend-mode:multiply"/>
<circle cx="549.2" cy="531.7" r="2.6" fill="#a00000"/>
</g>
<text x="549.60" y="397.70" font-size="18.5" text-anchor="middle" fill="#000" font-weight="bold">DATA</text>
<path d="M73.80 777.00 V1019.90 H316.30" fill="none" stroke="#262626" stroke-width="1.1"/>
<line x1="73.85" y1="1019.90" x2="73.85" y2="1016.90" stroke="#262626" stroke-width="1.1"/>
<text x="73.85" y="1041.60" font-size="17.2" text-anchor="middle" fill="#262626">-50</text>
<line x1="134.52" y1="1019.90" x2="134.52" y2="1016.90" stroke="#262626" stroke-width="1.1"/>
<text x="134.52" y="1041.60" font-size="17.2" text-anchor="middle" fill="#262626">-25</text>
<line x1="195.20" y1="1019.90" x2="195.20" y2="1016.90" stroke="#262626" stroke-width="1.1"/>
<text x="195.20" y="1041.60" font-size="17.2" text-anchor="middle" fill="#262626">0</text>
<line x1="255.88" y1="1019.90" x2="255.88" y2="1016.90" stroke="#262626" stroke-width="1.1"/>
<text x="255.88" y="1041.60" font-size="17.2" text-anchor="middle" fill="#262626">25</text>
<line x1="316.55" y1="1019.90" x2="316.55" y2="1016.90" stroke="#262626" stroke-width="1.1"/>
<text x="316.55" y="1041.60" font-size="17.2" text-anchor="middle" fill="#262626">50</text>
<line x1="73.80" y1="1019.75" x2="76.80" y2="1019.75" stroke="#262626" stroke-width="1.1"/>
<text x="70.00" y="1026.65" font-size="17.2" text-anchor="end" fill="#262626">-50</text>
<line x1="73.80" y1="959.07" x2="76.80" y2="959.07" stroke="#262626" stroke-width="1.1"/>
<text x="70.00" y="965.97" font-size="17.2" text-anchor="end" fill="#262626">-25</text>
<line x1="73.80" y1="898.40" x2="76.80" y2="898.40" stroke="#262626" stroke-width="1.1"/>
<text x="70.00" y="905.30" font-size="17.2" text-anchor="end" fill="#262626">0</text>
<line x1="73.80" y1="837.73" x2="76.80" y2="837.73" stroke="#262626" stroke-width="1.1"/>
<text x="70.00" y="844.62" font-size="17.2" text-anchor="end" fill="#262626">25</text>
<line x1="73.80" y1="777.05" x2="76.80" y2="777.05" stroke="#262626" stroke-width="1.1"/>
<text x="70.00" y="783.95" font-size="17.2" text-anchor="end" fill="#262626">50</text>
<text x="195.40" y="1063.70" font-size="18.7" text-anchor="middle" fill="#262626" textLength="228.5" lengthAdjust="spacingAndGlyphs">Predicted Differences [deg]</text>
<text x="38.40" y="898.00" font-size="18.7" text-anchor="middle" fill="#262626" textLength="231" lengthAdjust="spacingAndGlyphs" transform="rotate(-90 38.40 898.00)">Measured Differences [deg]</text>
<line x1="74.4" y1="898.4" x2="316" y2="898.4" stroke="#808080" stroke-width="1.1"/>
<circle cx="223.1" cy="787.8" r="3.7" fill="#e8a050" stroke="#000" stroke-width="1.25"/>
<circle cx="224.1" cy="795.8" r="3.7" fill="#e8a850" stroke="#000" stroke-width="1.25"/>
<circle cx="239.9" cy="832.7" r="3.7" fill="#d8a870" stroke="#000" stroke-width="1.25"/>
<circle cx="216.3" cy="842.8" r="3.7" fill="#c8a878" stroke="#000" stroke-width="1.25"/>
<circle cx="220.2" cy="848.5" r="3.7" fill="#c8a878" stroke="#000" stroke-width="1.25"/>
<circle cx="201.0" cy="845.4" r="3.7" fill="#d0a878" stroke="#000" stroke-width="1.25"/>
<circle cx="210.6" cy="844.5" r="3.7" fill="#d0a870" stroke="#000" stroke-width="1.25"/>
<circle cx="214.5" cy="846.7" r="3.7" fill="#e09878" stroke="#000" stroke-width="1.25"/>
<circle cx="217.2" cy="852.4" r="3.7" fill="#c8b070" stroke="#000" stroke-width="1.25"/>
<circle cx="202.7" cy="854.6" r="3.7" fill="#d0a080" stroke="#000" stroke-width="1.25"/>
<circle cx="207.5" cy="854.6" r="3.7" fill="#e0a080" stroke="#000" stroke-width="1.25"/>
<circle cx="227.7" cy="856.8" r="3.7" fill="#c0a868" stroke="#000" stroke-width="1.25"/>
<circle cx="204.8" cy="861.1" r="3.7" fill="#c8a880" stroke="#000" stroke-width="1.25"/>
<circle cx="215.5" cy="860.5" r="3.7" fill="#c8a880" stroke="#000" stroke-width="1.25"/>
<circle cx="208.4" cy="862.6" r="3.7" fill="#c0b088" stroke="#000" stroke-width="1.25"/>
<circle cx="217.1" cy="865.7" r="3.7" fill="#c0b088" stroke="#000" stroke-width="1.25"/>
<circle cx="197.7" cy="868.2" r="3.7" fill="#e09880" stroke="#000" stroke-width="1.25"/>
<circle cx="209.4" cy="868.7" r="3.7" fill="#c0b890" stroke="#000" stroke-width="1.25"/>
<circle cx="199.9" cy="874.7" r="3.7" fill="#c0b888" stroke="#000" stroke-width="1.25"/>
<circle cx="205.7" cy="875.3" r="3.7" fill="#b8b078" stroke="#000" stroke-width="1.25"/>
<circle cx="202.3" cy="873.3" r="3.7" fill="#b8b080" stroke="#000" stroke-width="1.25"/>
<circle cx="198.2" cy="876.9" r="3.7" fill="#a8b070" stroke="#000" stroke-width="1.25"/>
<circle cx="205.3" cy="876.9" r="3.7" fill="#c0b888" stroke="#000" stroke-width="1.25"/>
<circle cx="240.1" cy="856.0" r="3.7" fill="#e080e8" stroke="#000" stroke-width="1.25"/>
<circle cx="248.6" cy="854.0" r="3.7" fill="#e080f0" stroke="#000" stroke-width="1.25"/>
<circle cx="235.4" cy="861.9" r="3.7" fill="#e080e8" stroke="#000" stroke-width="1.25"/>
<circle cx="240.7" cy="861.9" r="3.7" fill="#c890f0" stroke="#000" stroke-width="1.25"/>
<circle cx="233.9" cy="862.1" r="3.7" fill="#e080e8" stroke="#000" stroke-width="1.25"/>
<circle cx="254.7" cy="864.1" r="3.7" fill="#c890f0" stroke="#000" stroke-width="1.25"/>
<circle cx="242.4" cy="871.1" r="3.7" fill="#b090e0" stroke="#000" stroke-width="1.25"/>
<circle cx="243.7" cy="868.1" r="3.7" fill="#e888e0" stroke="#000" stroke-width="1.25"/>
<circle cx="229.2" cy="874.5" r="3.7" fill="#e088e0" stroke="#000" stroke-width="1.25"/>
<circle cx="259.5" cy="875.5" r="3.7" fill="#c8a0d8" stroke="#000" stroke-width="1.25"/>
<circle cx="273.1" cy="875.9" r="3.7" fill="#c8a0e0" stroke="#000" stroke-width="1.25"/>
<circle cx="248.6" cy="877.7" r="3.7" fill="#c8a0d0" stroke="#000" stroke-width="1.25"/>
<circle cx="236.6" cy="880.5" r="3.7" fill="#b090f8" stroke="#000" stroke-width="1.25"/>
<circle cx="242.9" cy="882.9" r="3.7" fill="#b8a0e0" stroke="#000" stroke-width="1.25"/>
<circle cx="222.0" cy="879.9" r="3.7" fill="#c8a0d0" stroke="#000" stroke-width="1.25"/>
<circle cx="217.4" cy="882.8" r="3.7" fill="#c0a8d0" stroke="#000" stroke-width="1.25"/>
<circle cx="208.6" cy="881.1" r="3.7" fill="#e088e0" stroke="#000" stroke-width="1.25"/>
<circle cx="238.5" cy="889.5" r="3.7" fill="#b8a0b8" stroke="#000" stroke-width="1.25"/>
<circle cx="248.1" cy="889.9" r="3.7" fill="#b8b0c8" stroke="#000" stroke-width="1.25"/>
<circle cx="244.6" cy="893.4" r="3.7" fill="#c0a0b0" stroke="#000" stroke-width="1.25"/>
<circle cx="232.6" cy="894.5" r="3.7" fill="#b0a0d0" stroke="#000" stroke-width="1.25"/>
<circle cx="227.9" cy="886.9" r="3.7" fill="#d8a0c8" stroke="#000" stroke-width="1.25"/>
<circle cx="227.9" cy="891.0" r="3.7" fill="#d0a0c0" stroke="#000" stroke-width="1.25"/>
<circle cx="227.9" cy="899.8" r="3.7" fill="#d8a0b0" stroke="#000" stroke-width="1.25"/>
<circle cx="216.2" cy="887.5" r="3.7" fill="#e090e0" stroke="#000" stroke-width="1.25"/>
<circle cx="212.7" cy="893.9" r="3.7" fill="#b0a0e0" stroke="#000" stroke-width="1.25"/>
<circle cx="216.8" cy="899.2" r="3.7" fill="#d8a0b8" stroke="#000" stroke-width="1.25"/>
<circle cx="208.6" cy="899.8" r="3.7" fill="#d8a0b8" stroke="#000" stroke-width="1.25"/>
<circle cx="206.9" cy="887.5" r="3.7" fill="#d8a090" stroke="#000" stroke-width="1.25"/>
<circle cx="191.7" cy="882.8" r="3.7" fill="#c0b888" stroke="#000" stroke-width="1.25"/>
<circle cx="197.5" cy="884.0" r="3.7" fill="#b8b070" stroke="#000" stroke-width="1.25"/>
<circle cx="182.0" cy="885.9" r="3.7" fill="#b8b898" stroke="#000" stroke-width="1.25"/>
<circle cx="181.8" cy="886.4" r="3.7" fill="#b0b0a0" stroke="#000" stroke-width="1.25"/>
<circle cx="186.4" cy="888.5" r="3.7" fill="#c0b890" stroke="#000" stroke-width="1.25"/>
<circle cx="185.8" cy="888.7" r="3.7" fill="#a8b0a0" stroke="#000" stroke-width="1.25"/>
<circle cx="193.8" cy="889.8" r="3.7" fill="#e09090" stroke="#000" stroke-width="1.25"/>
<circle cx="201.2" cy="892.0" r="3.7" fill="#e0a0c0" stroke="#000" stroke-width="1.25"/>
<circle cx="197.5" cy="895.1" r="3.7" fill="#e0a0c0" stroke="#000" stroke-width="1.25"/>
<circle cx="200.8" cy="898.1" r="3.7" fill="#e890b0" stroke="#000" stroke-width="1.25"/>
<circle cx="207.8" cy="899.9" r="3.7" fill="#d8a0b0" stroke="#000" stroke-width="1.25"/>
<circle cx="196.4" cy="901.6" r="3.7" fill="#f090a8" stroke="#000" stroke-width="1.25"/>
<circle cx="188.2" cy="893.9" r="3.7" fill="#20b8b0" stroke="#000" stroke-width="1.25"/>
<circle cx="184.1" cy="896.3" r="3.7" fill="#20b8b0" stroke="#000" stroke-width="1.25"/>
<circle cx="173.6" cy="895.1" r="3.7" fill="#20c0a8" stroke="#000" stroke-width="1.25"/>
<circle cx="163.1" cy="896.4" r="3.7" fill="#20c0a0" stroke="#000" stroke-width="1.25"/>
<circle cx="174.1" cy="898.1" r="3.7" fill="#20c0c0" stroke="#000" stroke-width="1.25"/>
<circle cx="184.2" cy="896.4" r="3.7" fill="#20c0c0" stroke="#000" stroke-width="1.25"/>
<circle cx="160.7" cy="903.3" r="3.7" fill="#30b8b0" stroke="#000" stroke-width="1.25"/>
<circle cx="167.7" cy="905.0" r="3.7" fill="#a0b0b8" stroke="#000" stroke-width="1.25"/>
<circle cx="175.4" cy="903.4" r="3.7" fill="#20c0c8" stroke="#000" stroke-width="1.25"/>
<circle cx="191.7" cy="905.0" r="3.7" fill="#a8b898" stroke="#000" stroke-width="1.25"/>
<circle cx="186.7" cy="908.5" r="3.7" fill="#a8b890" stroke="#000" stroke-width="1.25"/>
<circle cx="213.5" cy="907.9" r="3.7" fill="#a0b8a0" stroke="#000" stroke-width="1.25"/>
<circle cx="201.3" cy="912.0" r="3.7" fill="#a0b890" stroke="#000" stroke-width="1.25"/>
<circle cx="200.8" cy="911.3" r="3.7" fill="#98b890" stroke="#000" stroke-width="1.25"/>
<circle cx="186.8" cy="907.8" r="3.7" fill="#a0b890" stroke="#000" stroke-width="1.25"/>
<circle cx="179.8" cy="913.9" r="3.7" fill="#98b890" stroke="#000" stroke-width="1.25"/>
<circle cx="187.7" cy="914.3" r="3.7" fill="#a0b890" stroke="#000" stroke-width="1.25"/>
<circle cx="177.1" cy="911.2" r="3.7" fill="#40c0a0" stroke="#000" stroke-width="1.25"/>
<circle cx="177.2" cy="908.6" r="3.7" fill="#20c090" stroke="#000" stroke-width="1.25"/>
<circle cx="161.0" cy="908.2" r="3.7" fill="#20c0d0" stroke="#000" stroke-width="1.25"/>
<circle cx="168.4" cy="910.8" r="3.7" fill="#a090f0" stroke="#000" stroke-width="1.25"/>
<circle cx="164.5" cy="914.8" r="3.7" fill="#20c0d8" stroke="#000" stroke-width="1.25"/>
<circle cx="172.3" cy="916.5" r="3.7" fill="#a0a8c0" stroke="#000" stroke-width="1.25"/>
<circle cx="179.7" cy="920.2" r="3.7" fill="#b0b890" stroke="#000" stroke-width="1.25"/>
<circle cx="203.5" cy="917.7" r="3.7" fill="#90c098" stroke="#000" stroke-width="1.25"/>
<circle cx="196.5" cy="921.1" r="3.7" fill="#90c090" stroke="#000" stroke-width="1.25"/>
<circle cx="183.3" cy="921.8" r="3.7" fill="#98b890" stroke="#000" stroke-width="1.25"/>
<circle cx="174.5" cy="922.7" r="3.7" fill="#90b888" stroke="#000" stroke-width="1.25"/>
<circle cx="183.2" cy="923.7" r="3.7" fill="#90b888" stroke="#000" stroke-width="1.25"/>
<circle cx="186.7" cy="924.9" r="3.7" fill="#98b890" stroke="#000" stroke-width="1.25"/>
<circle cx="174.2" cy="923.8" r="3.7" fill="#90b890" stroke="#000" stroke-width="1.25"/>
<circle cx="160.1" cy="920.0" r="3.7" fill="#20c080" stroke="#000" stroke-width="1.25"/>
<circle cx="150.2" cy="911.5" r="3.7" fill="#90a8c0" stroke="#000" stroke-width="1.25"/>
<circle cx="151.4" cy="914.4" r="3.7" fill="#78b0c0" stroke="#000" stroke-width="1.25"/>
<circle cx="132.7" cy="914.4" r="3.7" fill="#a0a8c0" stroke="#000" stroke-width="1.25"/>
<circle cx="139.7" cy="914.7" r="3.7" fill="#a0a8c0" stroke="#000" stroke-width="1.25"/>
<circle cx="140.3" cy="919.3" r="3.7" fill="#70b0c0" stroke="#000" stroke-width="1.25"/>
<circle cx="164.2" cy="914.7" r="3.7" fill="#20c0d8" stroke="#000" stroke-width="1.25"/>
<circle cx="148.5" cy="921.1" r="3.7" fill="#20c0e0" stroke="#000" stroke-width="1.25"/>
<circle cx="157.2" cy="922.8" r="3.7" fill="#a0a0d0" stroke="#000" stroke-width="1.25"/>
<circle cx="152.6" cy="927.5" r="3.7" fill="#a0a0f0" stroke="#000" stroke-width="1.25"/>
<circle cx="130.6" cy="923.4" r="3.7" fill="#80b0c8" stroke="#000" stroke-width="1.25"/>
<circle cx="130.4" cy="928.1" r="3.7" fill="#80b0c8" stroke="#000" stroke-width="1.25"/>
<circle cx="139.1" cy="927.5" r="3.7" fill="#30b8d0" stroke="#000" stroke-width="1.25"/>
<circle cx="143.8" cy="930.4" r="3.7" fill="#a0a0e8" stroke="#000" stroke-width="1.25"/>
<circle cx="137.4" cy="933.4" r="3.7" fill="#80a8d0" stroke="#000" stroke-width="1.25"/>
<circle cx="128.0" cy="934.5" r="3.7" fill="#30b8e0" stroke="#000" stroke-width="1.25"/>
<circle cx="120.4" cy="938.6" r="3.7" fill="#90a8e0" stroke="#000" stroke-width="1.25"/>
<circle cx="128.6" cy="940.9" r="3.7" fill="#90a8e0" stroke="#000" stroke-width="1.25"/>
<circle cx="124.5" cy="942.7" r="3.7" fill="#90a8e0" stroke="#000" stroke-width="1.25"/>
<circle cx="133.9" cy="942.1" r="3.7" fill="#30b8e0" stroke="#000" stroke-width="1.25"/>
<circle cx="136.8" cy="939.8" r="3.7" fill="#a0a0f0" stroke="#000" stroke-width="1.25"/>
<circle cx="143.2" cy="939.2" r="3.7" fill="#80a8e0" stroke="#000" stroke-width="1.25"/>
<circle cx="118.6" cy="950.1" r="3.7" fill="#9898f0" stroke="#000" stroke-width="1.25"/>
<circle cx="112.1" cy="952.3" r="3.7" fill="#20c0f0" stroke="#000" stroke-width="1.25"/>
<circle cx="118.0" cy="957.0" r="3.7" fill="#30b8d0" stroke="#000" stroke-width="1.25"/>
<circle cx="120.4" cy="959.7" r="3.7" fill="#9898f0" stroke="#000" stroke-width="1.25"/>
<circle cx="112.5" cy="962.8" r="3.7" fill="#60b0f0" stroke="#000" stroke-width="1.25"/>
<circle cx="107.7" cy="966.7" r="3.7" fill="#60b0f0" stroke="#000" stroke-width="1.25"/>
<circle cx="118.2" cy="966.7" r="3.7" fill="#60b8f8" stroke="#000" stroke-width="1.25"/>
<circle cx="127.4" cy="965.0" r="3.7" fill="#80a8f0" stroke="#000" stroke-width="1.25"/>
<circle cx="178.2" cy="936.3" r="3.7" fill="#20c080" stroke="#000" stroke-width="1.25"/>
<circle cx="174.2" cy="947.4" r="3.7" fill="#70c050" stroke="#000" stroke-width="1.25"/>
<circle cx="190.2" cy="944.7" r="3.7" fill="#80c050" stroke="#000" stroke-width="1.25"/>
<circle cx="185.5" cy="951.5" r="3.7" fill="#30c070" stroke="#000" stroke-width="1.25"/>
<circle cx="191.4" cy="959.9" r="3.7" fill="#40c050" stroke="#000" stroke-width="1.25"/>
<circle cx="188.8" cy="900.4" r="3.7" fill="#a8b090" stroke="#000" stroke-width="1.25"/>
<circle cx="199.5" cy="903.5" r="3.7" fill="#a0b890" stroke="#000" stroke-width="1.25"/>
<circle cx="206.0" cy="905.0" r="3.7" fill="#b0b898" stroke="#000" stroke-width="1.25"/>
<circle cx="166.6" cy="967.0" r="3.7" fill="#40c050" stroke="#000" stroke-width="1.25"/>
<text x="83.40" y="793.70" font-size="16" text-anchor="start" fill="#000" textLength="108.5" lengthAdjust="spacingAndGlyphs">r(214)=0.74***</text>
<text x="195.00" y="759.00" font-size="18.6" text-anchor="middle" fill="#000" font-weight="bold" textLength="273" lengthAdjust="spacingAndGlyphs">DEVIATION FROM OPPONENT</text>
<path d="M428.40 777.00 V1019.30 H671.00" fill="none" stroke="#262626" stroke-width="1.1"/>
<line x1="428.40" y1="1019.30" x2="428.40" y2="1016.30" stroke="#262626" stroke-width="1.1"/>
<text x="428.40" y="1041.00" font-size="17.2" text-anchor="middle" fill="#262626">-25</text>
<line x1="549.70" y1="1019.30" x2="549.70" y2="1016.30" stroke="#262626" stroke-width="1.1"/>
<text x="549.70" y="1041.00" font-size="17.2" text-anchor="middle" fill="#262626">0</text>
<line x1="671.00" y1="1019.30" x2="671.00" y2="1016.30" stroke="#262626" stroke-width="1.1"/>
<text x="671.00" y="1041.00" font-size="17.2" text-anchor="middle" fill="#262626">25</text>
<line x1="428.40" y1="1019.50" x2="431.40" y2="1019.50" stroke="#262626" stroke-width="1.1"/>
<text x="424.60" y="1026.40" font-size="17.2" text-anchor="end" fill="#262626">-25</text>
<line x1="428.40" y1="898.20" x2="431.40" y2="898.20" stroke="#262626" stroke-width="1.1"/>
<text x="424.60" y="905.10" font-size="17.2" text-anchor="end" fill="#262626">0</text>
<line x1="428.40" y1="776.90" x2="431.40" y2="776.90" stroke="#262626" stroke-width="1.1"/>
<text x="424.60" y="783.80" font-size="17.2" text-anchor="end" fill="#262626">25</text>
<text x="549.20" y="1063.70" font-size="18.7" text-anchor="middle" fill="#262626" textLength="228.3" lengthAdjust="spacingAndGlyphs">Predicted Differences [deg]</text>
<line x1="428.4" y1="898.2" x2="671" y2="898.2" stroke="#808080" stroke-width="1.1"/>
<circle cx="562.6" cy="789.6" r="3.7" fill="#e8a050" stroke="#000" stroke-width="1.25"/>
<circle cx="564.8" cy="805.4" r="3.7" fill="#e8a050" stroke="#000" stroke-width="1.25"/>
<circle cx="546.7" cy="852.7" r="3.7" fill="#a0b8a0" stroke="#000" stroke-width="1.25"/>
<circle cx="560.9" cy="848.5" r="3.7" fill="#a8b0c8" stroke="#000" stroke-width="1.25"/>
<circle cx="580.4" cy="848.5" r="3.7" fill="#a8b8c8" stroke="#000" stroke-width="1.25"/>
<circle cx="600.8" cy="847.7" r="3.7" fill="#a0b8a0" stroke="#000" stroke-width="1.25"/>
<circle cx="612.9" cy="848.0" r="3.7" fill="#a8b8c8" stroke="#000" stroke-width="1.25"/>
<circle cx="622.2" cy="852.0" r="3.7" fill="#a8b8c8" stroke="#000" stroke-width="1.25"/>
<circle cx="603.1" cy="852.0" r="3.7" fill="#a8b0d0" stroke="#000" stroke-width="1.25"/>
<circle cx="566.3" cy="855.3" r="3.7" fill="#a8b0c8" stroke="#000" stroke-width="1.25"/>
<circle cx="572.3" cy="860.4" r="3.7" fill="#a0b8a0" stroke="#000" stroke-width="1.25"/>
<circle cx="562.1" cy="861.9" r="3.7" fill="#e0a078" stroke="#000" stroke-width="1.25"/>
<circle cx="568.2" cy="863.4" r="3.7" fill="#d0a878" stroke="#000" stroke-width="1.25"/>
<circle cx="551.9" cy="860.4" r="3.7" fill="#e080f0" stroke="#000" stroke-width="1.25"/>
<circle cx="553.4" cy="864.8" r="3.7" fill="#e09880" stroke="#000" stroke-width="1.25"/>
<circle cx="546.8" cy="863.6" r="3.7" fill="#e888f0" stroke="#000" stroke-width="1.25"/>
<circle cx="539.5" cy="864.8" r="3.7" fill="#d0a878" stroke="#000" stroke-width="1.25"/>
<circle cx="546.1" cy="867.7" r="3.7" fill="#d0a878" stroke="#000" stroke-width="1.25"/>
<circle cx="536.6" cy="869.2" r="3.7" fill="#d888f0" stroke="#000" stroke-width="1.25"/>
<circle cx="528.3" cy="870.1" r="3.7" fill="#d890f0" stroke="#000" stroke-width="1.25"/>
<circle cx="522.5" cy="875.0" r="3.7" fill="#e09880" stroke="#000" stroke-width="1.25"/>
<circle cx="511.4" cy="885.8" r="3.7" fill="#e090d8" stroke="#000" stroke-width="1.25"/>
<circle cx="525.8" cy="883.9" r="3.7" fill="#d0a878" stroke="#000" stroke-width="1.25"/>
<circle cx="519.7" cy="890.3" r="3.7" fill="#a0b0a0" stroke="#000" stroke-width="1.25"/>
<circle cx="532.4" cy="888.1" r="3.7" fill="#80b890" stroke="#000" stroke-width="1.25"/>
<circle cx="539.6" cy="881.2" r="3.7" fill="#90b890" stroke="#000" stroke-width="1.25"/>
<circle cx="603.7" cy="859.0" r="3.7" fill="#d8a070" stroke="#000" stroke-width="1.25"/>
<circle cx="595.7" cy="860.4" r="3.7" fill="#a8b8c8" stroke="#000" stroke-width="1.25"/>
<circle cx="609.6" cy="859.0" r="3.7" fill="#a8b8c8" stroke="#000" stroke-width="1.25"/>
<circle cx="587.5" cy="866.4" r="3.7" fill="#a8b0c8" stroke="#000" stroke-width="1.25"/>
<circle cx="581.9" cy="869.9" r="3.7" fill="#a0b8a0" stroke="#000" stroke-width="1.25"/>
<circle cx="573.1" cy="867.7" r="3.7" fill="#a8b8c8" stroke="#000" stroke-width="1.25"/>
<circle cx="558.0" cy="871.4" r="3.7" fill="#c0a0f0" stroke="#000" stroke-width="1.25"/>
<circle cx="565.0" cy="875.0" r="3.7" fill="#c090f0" stroke="#000" stroke-width="1.25"/>
<circle cx="570.9" cy="874.3" r="3.7" fill="#b8b070" stroke="#000" stroke-width="1.25"/>
<circle cx="576.4" cy="875.1" r="3.7" fill="#e088e8" stroke="#000" stroke-width="1.25"/>
<circle cx="584.4" cy="876.4" r="3.7" fill="#b0a8d0" stroke="#000" stroke-width="1.25"/>
<circle cx="606.6" cy="872.5" r="3.7" fill="#a8b8c8" stroke="#000" stroke-width="1.25"/>
<circle cx="555.1" cy="881.6" r="3.7" fill="#90b890" stroke="#000" stroke-width="1.25"/>
<circle cx="565.0" cy="880.6" r="3.7" fill="#e080e8" stroke="#000" stroke-width="1.25"/>
<circle cx="572.3" cy="882.0" r="3.7" fill="#a8b8c8" stroke="#000" stroke-width="1.25"/>
<circle cx="568.5" cy="884.2" r="3.7" fill="#b090f0" stroke="#000" stroke-width="1.25"/>
<circle cx="597.4" cy="882.1" r="3.7" fill="#a0b8a0" stroke="#000" stroke-width="1.25"/>
<circle cx="557.5" cy="885.0" r="3.7" fill="#e09890" stroke="#000" stroke-width="1.25"/>
<circle cx="580.4" cy="886.8" r="3.7" fill="#a8b8c8" stroke="#000" stroke-width="1.25"/>
<circle cx="539.7" cy="889.3" r="3.7" fill="#e09890" stroke="#000" stroke-width="1.25"/>
<circle cx="544.6" cy="890.4" r="3.7" fill="#e090c8" stroke="#000" stroke-width="1.25"/>
<circle cx="559.4" cy="891.4" r="3.7" fill="#b8b070" stroke="#000" stroke-width="1.25"/>
<circle cx="571.0" cy="890.4" r="3.7" fill="#a8b8c8" stroke="#000" stroke-width="1.25"/>
<circle cx="548.3" cy="894.3" r="3.7" fill="#f090b8" stroke="#000" stroke-width="1.25"/>
<circle cx="540.2" cy="895.5" r="3.7" fill="#b090f0" stroke="#000" stroke-width="1.25"/>
<circle cx="554.8" cy="896.2" r="3.7" fill="#20c0c0" stroke="#000" stroke-width="1.25"/>
<circle cx="565.5" cy="895.6" r="3.7" fill="#20c0b0" stroke="#000" stroke-width="1.25"/>
<circle cx="578.8" cy="896.8" r="3.7" fill="#a0b8a0" stroke="#000" stroke-width="1.25"/>
<circle cx="584.5" cy="897.5" r="3.7" fill="#e098a8" stroke="#000" stroke-width="1.25"/>
<circle cx="593.9" cy="898.5" r="3.7" fill="#c890e8" stroke="#000" stroke-width="1.25"/>
<circle cx="572.8" cy="897.4" r="3.7" fill="#9080c0" stroke="#000" stroke-width="1.25"/>
<circle cx="505.8" cy="900.3" r="3.7" fill="#f08898" stroke="#000" stroke-width="1.25"/>
<circle cx="522.8" cy="896.9" r="3.7" fill="#20c0a8" stroke="#000" stroke-width="1.25"/>
<circle cx="521.0" cy="900.4" r="3.7" fill="#b090e0" stroke="#000" stroke-width="1.25"/>
<circle cx="528.6" cy="896.4" r="3.7" fill="#e0a0c8" stroke="#000" stroke-width="1.25"/>
<circle cx="529.2" cy="901.0" r="3.7" fill="#f090b0" stroke="#000" stroke-width="1.25"/>
<circle cx="538.5" cy="899.9" r="3.7" fill="#20c0c0" stroke="#000" stroke-width="1.25"/>
<circle cx="550.2" cy="899.3" r="3.7" fill="#20c0c0" stroke="#000" stroke-width="1.25"/>
<circle cx="563.5" cy="901.5" r="3.7" fill="#20c0d0" stroke="#000" stroke-width="1.25"/>
<circle cx="573.0" cy="903.9" r="3.7" fill="#c090e0" stroke="#000" stroke-width="1.25"/>
<circle cx="523.4" cy="908.6" r="3.7" fill="#a8b888" stroke="#000" stroke-width="1.25"/>
<circle cx="531.0" cy="908.6" r="3.7" fill="#a898f0" stroke="#000" stroke-width="1.25"/>
<circle cx="538.5" cy="908.0" r="3.7" fill="#20c0d0" stroke="#000" stroke-width="1.25"/>
<circle cx="549.6" cy="907.4" r="3.7" fill="#20c090" stroke="#000" stroke-width="1.25"/>
<circle cx="559.6" cy="911.5" r="3.7" fill="#b0a8c8" stroke="#000" stroke-width="1.25"/>
<circle cx="552.6" cy="913.3" r="3.7" fill="#d0a880" stroke="#000" stroke-width="1.25"/>
<circle cx="536.2" cy="912.7" r="3.7" fill="#20c0e0" stroke="#000" stroke-width="1.25"/>
<circle cx="516.4" cy="913.9" r="3.7" fill="#b0b098" stroke="#000" stroke-width="1.25"/>
<circle cx="532.7" cy="916.8" r="3.7" fill="#30b8d8" stroke="#000" stroke-width="1.25"/>
<circle cx="502.3" cy="918.5" r="3.7" fill="#20c080" stroke="#000" stroke-width="1.25"/>
<circle cx="518.1" cy="918.0" r="3.7" fill="#b0a0c8" stroke="#000" stroke-width="1.25"/>
<circle cx="518.7" cy="922.6" r="3.7" fill="#a098f0" stroke="#000" stroke-width="1.25"/>
<circle cx="524.5" cy="923.8" r="3.7" fill="#d0a880" stroke="#000" stroke-width="1.25"/>
<circle cx="539.1" cy="920.3" r="3.7" fill="#b0a0c0" stroke="#000" stroke-width="1.25"/>
<circle cx="545.0" cy="923.8" r="3.7" fill="#b0a0c0" stroke="#000" stroke-width="1.25"/>
<circle cx="541.5" cy="926.1" r="3.7" fill="#40b0e8" stroke="#000" stroke-width="1.25"/>
<circle cx="537.4" cy="927.9" r="3.7" fill="#b0a0c0" stroke="#000" stroke-width="1.25"/>
<circle cx="576.5" cy="922.0" r="3.7" fill="#b8a0a0" stroke="#000" stroke-width="1.25"/>
<circle cx="583.9" cy="910.2" r="3.7" fill="#c0a0c0" stroke="#000" stroke-width="1.25"/>
<circle cx="509.9" cy="930.2" r="3.7" fill="#9098f0" stroke="#000" stroke-width="1.25"/>
<circle cx="523.4" cy="930.2" r="3.7" fill="#b0a0c0" stroke="#000" stroke-width="1.25"/>
<circle cx="531.5" cy="930.8" r="3.7" fill="#c0b0a0" stroke="#000" stroke-width="1.25"/>
<circle cx="560.7" cy="929.1" r="3.7" fill="#b8b0a0" stroke="#000" stroke-width="1.25"/>
<circle cx="565.4" cy="927.9" r="3.7" fill="#b8b0a0" stroke="#000" stroke-width="1.25"/>
<circle cx="563.1" cy="936.5" r="3.7" fill="#70c050" stroke="#000" stroke-width="1.25"/>
<circle cx="537.4" cy="939.9" r="3.7" fill="#c0b0a0" stroke="#000" stroke-width="1.25"/>
<circle cx="532.9" cy="935.4" r="3.7" fill="#30c070" stroke="#000" stroke-width="1.25"/>
<circle cx="526.9" cy="939.9" r="3.7" fill="#70c050" stroke="#000" stroke-width="1.25"/>
<circle cx="533.9" cy="941.6" r="3.7" fill="#30b0e0" stroke="#000" stroke-width="1.25"/>
<circle cx="482.6" cy="945.1" r="3.7" fill="#60b0f8" stroke="#000" stroke-width="1.25"/>
<circle cx="495.4" cy="937.6" r="3.7" fill="#9098f0" stroke="#000" stroke-width="1.25"/>
<circle cx="501.2" cy="936.9" r="3.7" fill="#20b8e8" stroke="#000" stroke-width="1.25"/>
<circle cx="506.8" cy="948.7" r="3.7" fill="#60a8f8" stroke="#000" stroke-width="1.25"/>
<circle cx="518.7" cy="952.2" r="3.7" fill="#c0b0a0" stroke="#000" stroke-width="1.25"/>
<circle cx="517.3" cy="949.5" r="3.7" fill="#60b0f8" stroke="#000" stroke-width="1.25"/>
<circle cx="518.2" cy="945.1" r="3.7" fill="#88a0f0" stroke="#000" stroke-width="1.25"/>
<circle cx="525.2" cy="952.2" r="3.7" fill="#30c060" stroke="#000" stroke-width="1.25"/>
<circle cx="549.7" cy="948.7" r="3.7" fill="#88a8f8" stroke="#000" stroke-width="1.25"/>
<circle cx="545.7" cy="959.7" r="3.7" fill="#40c050" stroke="#000" stroke-width="1.25"/>
<circle cx="507.7" cy="966.7" r="3.7" fill="#40c040" stroke="#000" stroke-width="1.25"/>
<circle cx="531.0" cy="976.7" r="3.7" fill="#c0b0a0" stroke="#000" stroke-width="1.25"/>
<circle cx="562.0" cy="981.1" r="3.7" fill="#c0b0a0" stroke="#000" stroke-width="1.25"/>
<circle cx="540.7" cy="890.4" r="3.7" fill="#e0a0c0" stroke="#000" stroke-width="1.25"/>
<circle cx="545.7" cy="889.2" r="3.7" fill="#e098c0" stroke="#000" stroke-width="1.25"/>
<circle cx="538.2" cy="894.1" r="3.7" fill="#b098e8" stroke="#000" stroke-width="1.25"/>
<circle cx="544.5" cy="896.6" r="3.7" fill="#20c0b0" stroke="#000" stroke-width="1.25"/>
<circle cx="559.4" cy="899.1" r="3.7" fill="#20c0b8" stroke="#000" stroke-width="1.25"/>
<circle cx="533.3" cy="905.3" r="3.7" fill="#20b8d8" stroke="#000" stroke-width="1.25"/>
<circle cx="538.2" cy="909.0" r="3.7" fill="#20c0a8" stroke="#000" stroke-width="1.25"/>
<circle cx="566.8" cy="904.1" r="3.7" fill="#b8a0d8" stroke="#000" stroke-width="1.25"/>
<circle cx="523.4" cy="909.0" r="3.7" fill="#a0b890" stroke="#000" stroke-width="1.25"/>
<circle cx="517.2" cy="915.2" r="3.7" fill="#b0b098" stroke="#000" stroke-width="1.25"/>
<circle cx="525.8" cy="924.0" r="3.7" fill="#c8a880" stroke="#000" stroke-width="1.25"/>
<circle cx="554.4" cy="903.0" r="3.7" fill="#98b898" stroke="#000" stroke-width="1.25"/>
<text x="438.30" y="794.30" font-size="16" text-anchor="start" fill="#000" textLength="107.5" lengthAdjust="spacingAndGlyphs">r(214)=0.55***</text>
<text x="548.80" y="759.00" font-size="18.6" text-anchor="middle" fill="#000" font-weight="bold" textLength="221" lengthAdjust="spacingAndGlyphs">DEVIATION FROM MEAN</text>
</svg></body></html>
